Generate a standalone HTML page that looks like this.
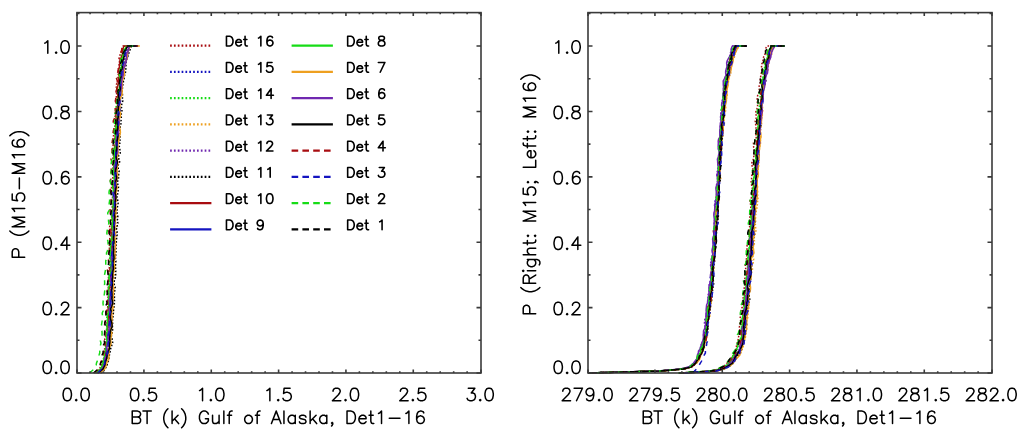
<!DOCTYPE html>
<html><head><meta charset="utf-8"><title>CDF plots</title>
<style>html,body{margin:0;padding:0;background:#fff;font-family:"Liberation Sans",sans-serif;width:1024px;height:437px;overflow:hidden}svg{display:block}</style>
</head><body><svg width="1024" height="437" viewBox="0 0 1024 437">
<rect width="1024" height="437" fill="#fff"/>
<defs><clipPath id="cl"><rect x="77" y="12.6" width="404" height="361.4"/></clipPath><clipPath id="cr"><rect x="588" y="12.6" width="404" height="361.4"/></clipPath></defs>
<g clip-path="url(#cl)">
<path d="M95.0 373.0 L97.3 371.0 L99.5 369.0 L100.3 367.0 L101.3 365.0 L102.0 363.0 L102.8 361.0 L103.7 359.0 L104.0 357.0 L104.5 355.0 L104.5 353.0 L104.2 351.0 L104.6 349.0 L105.0 347.0 L105.9 345.0 L105.4 343.0 L105.0 341.0 L104.7 339.0 L105.2 337.0 L105.9 335.0 L106.3 333.0 L106.7 331.0 L106.5 329.0 L106.7 327.0 L106.8 325.0 L106.9 323.0 L107.4 321.0 L107.6 319.0 L108.2 317.0 L107.6 315.0 L107.3 313.0 L106.9 311.0 L107.2 309.0 L107.7 307.0 L108.0 305.0 L108.0 303.0 L107.6 301.0 L107.5 299.0 L108.1 297.0 L108.2 295.0 L108.6 293.0 L108.4 291.0 L108.3 289.0 L108.3 287.0 L108.7 285.0 L108.6 283.0 L108.5 281.0 L108.2 279.0 L108.6 277.0 L109.0 275.0 L109.1 273.0 L108.9 271.0 L109.1 269.0 L109.4 267.0 L110.3 265.0 L110.5 263.0 L110.5 261.0 L110.3 259.0 L109.6 257.0 L109.7 255.0 L109.6 253.0 L109.9 251.0 L109.4 249.0 L109.4 247.0 L109.4 245.0 L110.3 243.0 L110.1 241.0 L109.8 239.0 L109.6 237.0 L110.7 235.0 L111.4 233.0 L110.8 231.0 L109.6 229.0 L109.6 227.0 L110.0 225.0 L110.5 223.0 L110.8 221.0 L111.4 219.0 L111.9 217.0 L111.7 215.0 L111.6 213.0 L112.1 211.0 L112.3 209.0 L112.3 207.0 L112.0 205.0 L111.4 203.0 L111.7 201.0 L111.9 199.0 L112.6 197.0 L111.6 195.0 L111.1 193.0 L111.3 191.0 L111.4 189.0 L111.6 187.0 L111.7 185.0 L111.9 183.0 L112.6 181.0 L112.5 179.0 L112.9 177.0 L112.6 175.0 L112.7 173.0 L112.8 171.0 L113.1 169.0 L112.8 167.0 L112.7 165.0 L112.7 163.0 L113.0 161.0 L112.9 159.0 L113.0 157.0 L113.5 155.0 L113.7 153.0 L113.0 151.0 L112.6 149.0 L112.8 147.0 L113.2 145.0 L113.7 143.0 L113.5 141.0 L114.1 139.0 L113.4 137.0 L113.6 135.0 L113.5 133.0 L114.4 131.0 L115.0 129.0 L115.0 127.0 L114.8 125.0 L114.7 123.0 L114.9 121.0 L115.0 119.0 L115.1 117.0 L115.2 115.0 L115.4 113.0 L115.7 111.0 L115.8 109.0 L116.6 107.0 L116.5 105.0 L116.4 103.0 L115.7 101.0 L115.7 99.0 L116.3 97.0 L116.4 95.0 L116.7 93.0 L117.1 91.0 L116.5 89.0 L116.3 87.0 L116.0 85.0 L117.1 83.0 L117.7 81.0 L117.7 79.0 L118.0 77.0 L118.2 75.0 L118.4 73.0 L119.2 71.0 L119.4 69.0 L119.7 67.0 L119.1 65.0 L119.2 63.0 L119.6 61.0 L119.0 59.0 L119.3 57.0 L120.0 55.0 L120.8 53.0 L121.3 51.0 L121.8 49.0 L122.7 47.0 L123.1 46.1 L137.5 46.1" stroke="#a80c10" stroke-width="1.5" fill="none" stroke-dasharray="1.6 1.7"/>
<path d="M98.0 373.0 L100.2 371.0 L102.3 369.0 L103.5 367.0 L104.7 365.0 L104.8 363.0 L105.4 361.0 L105.1 359.0 L106.6 357.0 L106.3 355.0 L107.1 353.0 L107.5 351.0 L108.2 349.0 L108.5 347.0 L108.6 345.0 L109.0 343.0 L109.2 341.0 L109.6 339.0 L110.0 337.0 L110.0 335.0 L110.5 333.0 L109.9 331.0 L110.4 329.0 L109.5 327.0 L110.0 325.0 L110.1 323.0 L110.3 321.0 L110.6 319.0 L110.0 317.0 L109.6 315.0 L109.7 313.0 L109.9 311.0 L110.2 309.0 L109.6 307.0 L110.4 305.0 L111.1 303.0 L112.1 301.0 L111.5 299.0 L111.4 297.0 L110.7 295.0 L111.3 293.0 L111.9 291.0 L112.1 289.0 L112.4 287.0 L112.3 285.0 L112.6 283.0 L111.6 281.0 L111.8 279.0 L111.9 277.0 L112.4 275.0 L112.2 273.0 L112.4 271.0 L113.2 269.0 L112.8 267.0 L113.1 265.0 L113.2 263.0 L114.1 261.0 L113.7 259.0 L113.1 257.0 L113.1 255.0 L113.2 253.0 L113.6 251.0 L113.8 249.0 L113.8 247.0 L113.1 245.0 L112.6 243.0 L112.2 241.0 L113.2 239.0 L113.5 237.0 L114.0 235.0 L113.8 233.0 L114.0 231.0 L114.3 229.0 L114.8 227.0 L114.5 225.0 L114.9 223.0 L115.0 221.0 L115.6 219.0 L115.1 217.0 L115.0 215.0 L114.0 213.0 L113.9 211.0 L113.1 209.0 L114.1 207.0 L114.1 205.0 L114.7 203.0 L114.4 201.0 L114.8 199.0 L114.7 197.0 L114.9 195.0 L115.5 193.0 L115.7 191.0 L115.9 189.0 L115.7 187.0 L115.7 185.0 L115.2 183.0 L114.8 181.0 L115.3 179.0 L115.2 177.0 L115.3 175.0 L115.3 173.0 L116.1 171.0 L116.4 169.0 L116.4 167.0 L116.3 165.0 L116.0 163.0 L115.3 161.0 L115.1 159.0 L115.9 157.0 L116.2 155.0 L116.2 153.0 L115.8 151.0 L115.5 149.0 L115.9 147.0 L115.8 145.0 L116.5 143.0 L115.8 141.0 L116.4 139.0 L116.2 137.0 L116.5 135.0 L116.7 133.0 L117.0 131.0 L117.0 129.0 L116.6 127.0 L116.9 125.0 L117.6 123.0 L118.2 121.0 L118.5 119.0 L119.0 117.0 L119.0 115.0 L119.3 113.0 L119.4 111.0 L119.6 109.0 L118.6 107.0 L118.8 105.0 L119.2 103.0 L119.9 101.0 L119.6 99.0 L119.9 97.0 L119.6 95.0 L120.0 93.0 L120.3 91.0 L120.7 89.0 L121.0 87.0 L121.0 85.0 L121.5 83.0 L121.7 81.0 L121.6 79.0 L121.6 77.0 L121.6 75.0 L121.7 73.0 L122.5 71.0 L122.8 69.0 L123.0 67.0 L122.7 65.0 L122.9 63.0 L123.6 61.0 L124.3 59.0 L124.6 57.0 L124.5 55.0 L125.8 53.0 L126.6 51.0 L127.1 49.0 L127.5 47.0 L128.1 46.1 L137.5 46.1" stroke="#1414c0" stroke-width="1.5" fill="none" stroke-dasharray="1.6 1.7"/>
<path d="M95.5 373.0 L97.9 371.0 L100.2 369.0 L101.3 367.0 L102.1 365.0 L102.2 363.0 L102.9 361.0 L103.3 359.0 L104.2 357.0 L104.8 355.0 L105.5 353.0 L105.6 351.0 L105.2 349.0 L105.0 347.0 L105.8 345.0 L106.1 343.0 L106.0 341.0 L106.8 339.0 L107.3 337.0 L107.4 335.0 L106.4 333.0 L106.7 331.0 L107.5 329.0 L108.6 327.0 L108.4 325.0 L107.9 323.0 L107.5 321.0 L106.7 319.0 L106.9 317.0 L106.9 315.0 L107.8 313.0 L107.9 311.0 L108.0 309.0 L108.1 307.0 L108.5 305.0 L108.8 303.0 L108.9 301.0 L108.8 299.0 L108.9 297.0 L109.0 295.0 L108.9 293.0 L108.6 291.0 L108.6 289.0 L108.9 287.0 L109.3 285.0 L109.3 283.0 L109.5 281.0 L109.5 279.0 L109.2 277.0 L109.4 275.0 L109.8 273.0 L110.4 271.0 L110.3 269.0 L110.2 267.0 L109.8 265.0 L109.4 263.0 L109.4 261.0 L109.4 259.0 L110.3 257.0 L110.1 255.0 L109.6 253.0 L109.2 251.0 L110.1 249.0 L110.8 247.0 L110.8 245.0 L110.2 243.0 L110.5 241.0 L111.2 239.0 L111.5 237.0 L111.9 235.0 L112.0 233.0 L112.0 231.0 L111.8 229.0 L112.2 227.0 L112.5 225.0 L112.7 223.0 L111.9 221.0 L111.7 219.0 L111.6 217.0 L111.9 215.0 L112.4 213.0 L112.4 211.0 L112.8 209.0 L112.5 207.0 L113.2 205.0 L113.3 203.0 L113.4 201.0 L112.7 199.0 L113.2 197.0 L113.2 195.0 L113.5 193.0 L113.0 191.0 L113.2 189.0 L112.6 187.0 L112.5 185.0 L112.7 183.0 L113.5 181.0 L113.7 179.0 L113.7 177.0 L113.7 175.0 L113.7 173.0 L113.8 171.0 L113.7 169.0 L113.5 167.0 L113.7 165.0 L113.5 163.0 L113.4 161.0 L113.3 159.0 L113.2 157.0 L113.4 155.0 L112.8 153.0 L113.1 151.0 L113.5 149.0 L114.4 147.0 L114.7 145.0 L114.5 143.0 L114.0 141.0 L114.7 139.0 L115.0 137.0 L116.0 135.0 L115.2 133.0 L115.2 131.0 L114.4 129.0 L115.0 127.0 L115.5 125.0 L115.6 123.0 L115.5 121.0 L115.6 119.0 L115.7 117.0 L115.3 115.0 L114.9 113.0 L115.4 111.0 L115.7 109.0 L116.1 107.0 L116.6 105.0 L117.3 103.0 L117.7 101.0 L118.2 99.0 L118.5 97.0 L118.0 95.0 L117.5 93.0 L117.0 91.0 L117.2 89.0 L117.5 87.0 L118.1 85.0 L118.8 83.0 L118.5 81.0 L118.4 79.0 L118.4 77.0 L119.1 75.0 L119.6 73.0 L119.9 71.0 L120.0 69.0 L120.5 67.0 L120.9 65.0 L121.4 63.0 L121.3 61.0 L121.4 59.0 L121.0 57.0 L121.2 55.0 L121.8 53.0 L122.8 51.0 L123.6 49.0 L124.5 47.0 L125.1 46.1 L137.5 46.1" stroke="#16dc16" stroke-width="1.5" fill="none" stroke-dasharray="1.6 1.7"/>
<path d="M100.0 373.0 L102.2 371.0 L104.5 369.0 L105.6 367.0 L106.7 365.0 L106.9 363.0 L107.2 361.0 L107.7 359.0 L108.7 357.0 L109.3 355.0 L109.4 353.0 L109.0 351.0 L109.0 349.0 L109.3 347.0 L109.6 345.0 L110.0 343.0 L110.3 341.0 L110.9 339.0 L111.2 337.0 L111.3 335.0 L112.1 333.0 L111.9 331.0 L112.5 329.0 L111.9 327.0 L112.4 325.0 L111.4 323.0 L111.3 321.0 L111.1 319.0 L112.1 317.0 L113.2 315.0 L113.3 313.0 L113.6 311.0 L113.2 309.0 L113.5 307.0 L113.4 305.0 L113.2 303.0 L113.1 301.0 L112.7 299.0 L113.3 297.0 L112.9 295.0 L113.4 293.0 L113.8 291.0 L114.1 289.0 L114.1 287.0 L113.9 285.0 L114.1 283.0 L113.9 281.0 L113.7 279.0 L113.9 277.0 L114.5 275.0 L114.2 273.0 L114.7 271.0 L115.0 269.0 L115.4 267.0 L115.0 265.0 L114.4 263.0 L114.9 261.0 L114.7 259.0 L115.1 257.0 L114.6 255.0 L114.7 253.0 L114.8 251.0 L115.4 249.0 L115.7 247.0 L115.3 245.0 L115.3 243.0 L115.3 241.0 L115.7 239.0 L116.0 237.0 L116.4 235.0 L116.2 233.0 L116.5 231.0 L116.2 229.0 L116.7 227.0 L115.8 225.0 L115.9 223.0 L115.1 221.0 L115.9 219.0 L116.4 217.0 L116.7 215.0 L115.7 213.0 L114.8 211.0 L115.6 209.0 L116.0 207.0 L116.5 205.0 L116.1 203.0 L116.2 201.0 L116.0 199.0 L116.1 197.0 L115.7 195.0 L116.1 193.0 L116.2 191.0 L116.9 189.0 L116.9 187.0 L116.6 185.0 L116.5 183.0 L116.5 181.0 L117.3 179.0 L117.6 177.0 L117.8 175.0 L117.2 173.0 L116.8 171.0 L116.6 169.0 L116.7 167.0 L117.1 165.0 L117.6 163.0 L117.9 161.0 L118.6 159.0 L118.2 157.0 L118.1 155.0 L118.4 153.0 L118.1 151.0 L118.0 149.0 L117.3 147.0 L117.9 145.0 L118.3 143.0 L118.2 141.0 L118.4 139.0 L118.4 137.0 L118.8 135.0 L118.2 133.0 L118.1 131.0 L117.9 129.0 L118.3 127.0 L118.4 125.0 L118.7 123.0 L118.9 121.0 L119.6 119.0 L119.7 117.0 L120.2 115.0 L120.2 113.0 L120.1 111.0 L119.7 109.0 L119.6 107.0 L119.9 105.0 L120.3 103.0 L120.4 101.0 L120.6 99.0 L120.6 97.0 L121.0 95.0 L121.4 93.0 L121.6 91.0 L121.6 89.0 L121.2 87.0 L122.1 85.0 L122.3 83.0 L122.9 81.0 L122.4 79.0 L122.6 77.0 L122.5 75.0 L122.5 73.0 L123.2 71.0 L123.8 69.0 L124.2 67.0 L124.3 65.0 L124.4 63.0 L125.5 61.0 L125.8 59.0 L125.9 57.0 L126.2 55.0 L127.1 53.0 L127.9 51.0 L128.5 49.0 L129.4 47.0 L130.1 46.1 L139.5 46.1" stroke="#eea020" stroke-width="1.5" fill="none" stroke-dasharray="1.6 1.7"/>
<path d="M97.0 373.0 L99.3 371.0 L101.7 369.0 L102.8 367.0 L104.0 365.0 L104.4 363.0 L104.8 361.0 L104.8 359.0 L105.6 357.0 L106.0 355.0 L105.8 353.0 L106.0 351.0 L106.6 349.0 L106.8 347.0 L107.0 345.0 L107.0 343.0 L107.8 341.0 L108.0 339.0 L108.3 337.0 L108.1 335.0 L108.6 333.0 L109.1 331.0 L109.2 329.0 L109.3 327.0 L108.7 325.0 L108.9 323.0 L109.0 321.0 L109.8 319.0 L109.8 317.0 L109.6 315.0 L109.3 313.0 L109.1 311.0 L109.2 309.0 L109.0 307.0 L109.7 305.0 L109.5 303.0 L109.2 301.0 L109.2 299.0 L109.7 297.0 L110.3 295.0 L110.6 293.0 L110.6 291.0 L110.6 289.0 L110.6 287.0 L110.3 285.0 L110.3 283.0 L110.3 281.0 L111.1 279.0 L111.3 277.0 L111.5 275.0 L111.1 273.0 L111.4 271.0 L111.9 269.0 L111.9 267.0 L112.7 265.0 L112.0 263.0 L112.3 261.0 L111.7 259.0 L112.3 257.0 L112.0 255.0 L111.4 253.0 L111.4 251.0 L112.1 249.0 L113.0 247.0 L113.7 245.0 L113.6 243.0 L113.6 241.0 L113.1 239.0 L113.2 237.0 L113.7 235.0 L113.1 233.0 L113.0 231.0 L111.4 229.0 L112.1 227.0 L112.2 225.0 L113.6 223.0 L114.1 221.0 L114.3 219.0 L114.0 217.0 L113.2 215.0 L113.0 213.0 L113.0 211.0 L113.4 209.0 L113.7 207.0 L114.0 205.0 L113.8 203.0 L114.2 201.0 L114.4 199.0 L114.5 197.0 L114.4 195.0 L114.3 193.0 L114.1 191.0 L114.4 189.0 L114.7 187.0 L114.8 185.0 L114.8 183.0 L114.9 181.0 L114.8 179.0 L115.0 177.0 L115.1 175.0 L116.0 173.0 L115.6 171.0 L115.6 169.0 L114.9 167.0 L115.2 165.0 L115.4 163.0 L115.9 161.0 L115.8 159.0 L115.9 157.0 L116.3 155.0 L116.1 153.0 L116.2 151.0 L115.4 149.0 L115.5 147.0 L115.8 145.0 L117.0 143.0 L117.1 141.0 L116.9 139.0 L117.2 137.0 L117.3 135.0 L117.7 133.0 L117.9 131.0 L118.2 129.0 L118.5 127.0 L117.9 125.0 L118.1 123.0 L117.8 121.0 L118.2 119.0 L118.7 117.0 L119.6 115.0 L119.5 113.0 L119.1 111.0 L118.6 109.0 L118.7 107.0 L119.2 105.0 L119.3 103.0 L119.7 101.0 L119.9 99.0 L119.4 97.0 L119.8 95.0 L119.3 93.0 L119.7 91.0 L119.5 89.0 L120.1 87.0 L120.8 85.0 L121.2 83.0 L121.5 81.0 L121.7 79.0 L122.4 77.0 L122.8 75.0 L123.0 73.0 L123.2 71.0 L123.7 69.0 L123.5 67.0 L124.2 65.0 L125.2 63.0 L125.3 61.0 L124.9 59.0 L124.9 57.0 L126.3 55.0 L126.9 53.0 L127.2 51.0 L127.5 49.0 L128.5 47.0 L129.1 46.1 L137.5 46.1" stroke="#7028b0" stroke-width="1.5" fill="none" stroke-dasharray="1.6 1.7"/>
<path d="M101.0 373.0 L103.2 371.0 L105.3 369.0 L106.1 367.0 L107.1 365.0 L107.5 363.0 L108.4 361.0 L108.8 359.0 L109.1 357.0 L109.4 355.0 L109.9 353.0 L110.2 351.0 L110.6 349.0 L111.1 347.0 L111.9 345.0 L112.7 343.0 L112.5 341.0 L112.2 339.0 L111.0 337.0 L111.9 335.0 L111.9 333.0 L112.8 331.0 L112.5 329.0 L112.4 327.0 L112.6 325.0 L112.6 323.0 L112.5 321.0 L112.6 319.0 L113.0 317.0 L113.1 315.0 L113.4 313.0 L113.2 311.0 L114.0 309.0 L114.0 307.0 L114.4 305.0 L114.3 303.0 L114.6 301.0 L114.1 299.0 L114.5 297.0 L114.1 295.0 L114.3 293.0 L114.7 291.0 L115.2 289.0 L115.2 287.0 L114.4 285.0 L114.1 283.0 L114.3 281.0 L115.0 279.0 L115.5 277.0 L115.7 275.0 L115.5 273.0 L115.8 271.0 L115.6 269.0 L115.5 267.0 L115.5 265.0 L115.7 263.0 L115.9 261.0 L115.5 259.0 L115.5 257.0 L115.8 255.0 L116.2 253.0 L116.0 251.0 L116.0 249.0 L116.0 247.0 L116.2 245.0 L116.4 243.0 L116.3 241.0 L116.6 239.0 L116.6 237.0 L117.2 235.0 L117.2 233.0 L117.1 231.0 L116.5 229.0 L117.5 227.0 L117.2 225.0 L117.9 223.0 L117.1 221.0 L117.6 219.0 L117.9 217.0 L117.4 215.0 L117.1 213.0 L116.6 211.0 L117.4 209.0 L117.4 207.0 L118.0 205.0 L118.1 203.0 L117.8 201.0 L117.5 199.0 L117.0 197.0 L117.9 195.0 L117.5 193.0 L118.1 191.0 L118.2 189.0 L118.5 187.0 L118.1 185.0 L117.3 183.0 L117.7 181.0 L118.4 179.0 L118.7 177.0 L118.7 175.0 L118.7 173.0 L119.2 171.0 L118.3 169.0 L118.2 167.0 L118.3 165.0 L119.3 163.0 L119.8 161.0 L118.8 159.0 L118.7 157.0 L118.6 155.0 L120.3 153.0 L120.0 151.0 L119.8 149.0 L119.1 147.0 L119.8 145.0 L119.8 143.0 L120.2 141.0 L119.8 139.0 L120.1 137.0 L119.7 135.0 L120.2 133.0 L120.0 131.0 L119.8 129.0 L120.2 127.0 L120.7 125.0 L121.1 123.0 L121.0 121.0 L121.3 119.0 L121.3 117.0 L121.3 115.0 L121.3 113.0 L121.9 111.0 L122.0 109.0 L121.3 107.0 L121.6 105.0 L122.0 103.0 L122.8 101.0 L122.4 99.0 L122.5 97.0 L122.5 95.0 L122.4 93.0 L122.2 91.0 L122.3 89.0 L122.7 87.0 L122.8 85.0 L123.4 83.0 L123.4 81.0 L124.2 79.0 L123.9 77.0 L124.7 75.0 L125.2 73.0 L125.9 71.0 L125.8 69.0 L125.7 67.0 L126.1 65.0 L126.1 63.0 L126.3 61.0 L126.7 59.0 L127.6 57.0 L128.3 55.0 L128.9 53.0 L129.7 51.0 L130.3 49.0 L131.1 47.0 L131.6 46.1 L139.5 46.1" stroke="#000000" stroke-width="1.5" fill="none" stroke-dasharray="1.6 1.7"/>
<path d="M96.5 373.0 L98.7 371.0 L100.9 369.0 L101.9 367.0 L102.6 365.0 L103.0 363.0 L103.5 361.0 L104.1 359.0 L104.7 357.0 L105.4 355.0 L105.9 353.0 L106.8 351.0 L106.1 349.0 L106.4 347.0 L105.4 345.0 L106.8 343.0 L108.0 341.0 L107.9 339.0 L107.8 337.0 L107.2 335.0 L108.0 333.0 L108.2 331.0 L107.5 329.0 L107.9 327.0 L108.0 325.0 L108.8 323.0 L108.4 321.0 L108.6 319.0 L108.6 317.0 L108.9 315.0 L108.7 313.0 L108.2 311.0 L108.2 309.0 L108.6 307.0 L109.6 305.0 L109.4 303.0 L109.5 301.0 L109.5 299.0 L110.0 297.0 L110.5 295.0 L111.0 293.0 L110.8 291.0 L109.9 289.0 L109.6 287.0 L110.4 285.0 L111.4 283.0 L111.5 281.0 L110.9 279.0 L110.5 277.0 L110.6 275.0 L110.6 273.0 L110.3 271.0 L109.8 269.0 L110.9 267.0 L112.2 265.0 L112.4 263.0 L111.4 261.0 L111.0 259.0 L111.1 257.0 L111.8 255.0 L111.8 253.0 L111.7 251.0 L111.8 249.0 L111.8 247.0 L112.2 245.0 L111.9 243.0 L112.1 241.0 L112.2 239.0 L112.0 237.0 L111.6 235.0 L110.9 233.0 L110.8 231.0 L111.2 229.0 L111.9 227.0 L112.4 225.0 L112.9 223.0 L113.0 221.0 L112.8 219.0 L112.4 217.0 L111.8 215.0 L112.1 213.0 L112.5 211.0 L113.4 209.0 L113.4 207.0 L113.3 205.0 L113.4 203.0 L113.5 201.0 L113.8 199.0 L113.8 197.0 L113.9 195.0 L114.1 193.0 L113.7 191.0 L113.6 189.0 L113.0 187.0 L113.0 185.0 L113.6 183.0 L114.5 181.0 L114.8 179.0 L114.6 177.0 L114.4 175.0 L114.7 173.0 L115.0 171.0 L114.3 169.0 L113.9 167.0 L113.7 165.0 L114.6 163.0 L114.9 161.0 L114.5 159.0 L114.0 157.0 L113.9 155.0 L113.9 153.0 L114.5 151.0 L114.6 149.0 L114.9 147.0 L115.2 145.0 L115.8 143.0 L116.0 141.0 L115.2 139.0 L115.1 137.0 L115.6 135.0 L116.1 133.0 L116.5 131.0 L116.1 129.0 L116.2 127.0 L115.8 125.0 L116.0 123.0 L116.4 121.0 L116.1 119.0 L116.1 117.0 L115.9 115.0 L116.2 113.0 L116.3 111.0 L116.6 109.0 L117.5 107.0 L117.9 105.0 L117.8 103.0 L116.9 101.0 L117.4 99.0 L117.4 97.0 L118.0 95.0 L117.2 93.0 L117.2 91.0 L117.0 89.0 L117.6 87.0 L118.0 85.0 L118.5 83.0 L118.8 81.0 L118.5 79.0 L119.2 77.0 L119.1 75.0 L119.0 73.0 L118.7 71.0 L118.9 69.0 L119.4 67.0 L119.5 65.0 L120.1 63.0 L120.3 61.0 L120.7 59.0 L121.3 57.0 L122.3 55.0 L122.5 53.0 L122.5 51.0 L122.8 49.0 L123.6 47.0 L124.1 46.1 L137.5 46.1" stroke="#a80c10" stroke-width="1.5" fill="none"/>
<path d="M97.8 373.0 L100.0 371.0 L102.1 369.0 L102.9 367.0 L104.3 365.0 L104.6 363.0 L105.3 361.0 L106.3 359.0 L106.7 357.0 L106.8 355.0 L106.0 353.0 L105.8 351.0 L105.8 349.0 L106.7 347.0 L107.5 345.0 L107.8 343.0 L107.4 341.0 L108.0 339.0 L108.5 337.0 L108.9 335.0 L108.9 333.0 L109.7 331.0 L110.5 329.0 L110.8 327.0 L110.6 325.0 L110.1 323.0 L110.5 321.0 L111.0 319.0 L110.9 317.0 L110.6 315.0 L110.3 313.0 L110.6 311.0 L110.4 309.0 L110.0 307.0 L109.9 305.0 L109.7 303.0 L110.6 301.0 L111.0 299.0 L111.2 297.0 L111.4 295.0 L111.6 293.0 L111.5 291.0 L111.7 289.0 L111.7 287.0 L113.1 285.0 L112.2 283.0 L112.2 281.0 L111.8 279.0 L112.3 277.0 L112.3 275.0 L112.5 273.0 L112.1 271.0 L111.7 269.0 L111.1 267.0 L111.4 265.0 L111.7 263.0 L112.3 261.0 L112.7 259.0 L113.0 257.0 L112.7 255.0 L112.6 253.0 L113.0 251.0 L113.5 249.0 L113.7 247.0 L113.4 245.0 L113.7 243.0 L113.6 241.0 L114.0 239.0 L113.9 237.0 L114.1 235.0 L114.2 233.0 L113.6 231.0 L114.0 229.0 L113.9 227.0 L113.8 225.0 L113.8 223.0 L113.5 221.0 L114.4 219.0 L114.1 217.0 L114.4 215.0 L114.1 213.0 L114.3 211.0 L114.5 209.0 L114.3 207.0 L114.7 205.0 L114.7 203.0 L115.0 201.0 L114.0 199.0 L114.4 197.0 L114.4 195.0 L114.8 193.0 L114.5 191.0 L114.7 189.0 L115.7 187.0 L115.4 185.0 L115.9 183.0 L115.6 181.0 L116.7 179.0 L116.3 177.0 L116.6 175.0 L115.9 173.0 L115.6 171.0 L115.9 169.0 L116.3 167.0 L117.3 165.0 L117.3 163.0 L116.9 161.0 L116.0 159.0 L115.6 157.0 L115.7 155.0 L116.0 153.0 L116.5 151.0 L116.9 149.0 L117.1 147.0 L117.1 145.0 L117.0 143.0 L117.3 141.0 L117.6 139.0 L118.1 137.0 L117.9 135.0 L117.4 133.0 L117.7 131.0 L118.0 129.0 L119.0 127.0 L118.2 125.0 L118.2 123.0 L118.0 121.0 L118.2 119.0 L118.3 117.0 L118.7 115.0 L119.6 113.0 L120.4 111.0 L120.0 109.0 L119.4 107.0 L119.2 105.0 L119.9 103.0 L120.6 101.0 L120.1 99.0 L120.2 97.0 L120.6 95.0 L121.3 93.0 L121.0 91.0 L121.1 89.0 L121.3 87.0 L121.5 85.0 L121.1 83.0 L121.2 81.0 L121.8 79.0 L122.6 77.0 L123.1 75.0 L123.1 73.0 L123.4 71.0 L123.4 69.0 L124.1 67.0 L125.0 65.0 L125.3 63.0 L126.2 61.0 L126.6 59.0 L127.5 57.0 L127.5 55.0 L128.0 53.0 L128.2 51.0 L128.6 49.0 L129.4 47.0 L130.1 46.1 L137.5 46.1" stroke="#1414c0" stroke-width="1.5" fill="none"/>
<path d="M96.0 373.0 L98.3 371.0 L100.7 369.0 L101.6 367.0 L102.6 365.0 L102.7 363.0 L103.4 361.0 L103.8 359.0 L104.4 357.0 L104.3 355.0 L104.4 353.0 L105.3 351.0 L106.1 349.0 L106.2 347.0 L106.5 345.0 L106.7 343.0 L107.3 341.0 L106.7 339.0 L106.3 337.0 L106.4 335.0 L107.0 333.0 L107.2 331.0 L106.9 329.0 L107.0 327.0 L106.7 325.0 L107.7 323.0 L107.4 321.0 L107.7 319.0 L107.3 317.0 L107.6 315.0 L108.3 313.0 L109.0 311.0 L109.4 309.0 L109.2 307.0 L108.6 305.0 L108.3 303.0 L108.1 301.0 L108.4 299.0 L108.8 297.0 L108.9 295.0 L109.1 293.0 L108.7 291.0 L108.4 289.0 L108.8 287.0 L109.7 285.0 L110.4 283.0 L110.0 281.0 L108.8 279.0 L108.9 277.0 L109.7 275.0 L110.7 273.0 L111.0 271.0 L111.2 269.0 L111.5 267.0 L111.2 265.0 L111.1 263.0 L111.1 261.0 L110.8 259.0 L110.5 257.0 L109.9 255.0 L110.4 253.0 L110.8 251.0 L111.0 249.0 L110.4 247.0 L110.7 245.0 L111.3 243.0 L112.4 241.0 L111.7 239.0 L112.0 237.0 L112.2 235.0 L113.3 233.0 L113.0 231.0 L112.5 229.0 L111.9 227.0 L112.3 225.0 L112.6 223.0 L112.7 221.0 L112.1 219.0 L112.0 217.0 L111.9 215.0 L112.6 213.0 L112.5 211.0 L113.2 209.0 L113.4 207.0 L113.3 205.0 L113.0 203.0 L113.2 201.0 L113.3 199.0 L113.4 197.0 L113.2 195.0 L113.9 193.0 L114.0 191.0 L113.3 189.0 L112.6 187.0 L112.6 185.0 L113.2 183.0 L114.5 181.0 L114.2 179.0 L114.5 177.0 L114.0 175.0 L113.9 173.0 L113.4 171.0 L113.3 169.0 L113.7 167.0 L114.0 165.0 L114.2 163.0 L114.2 161.0 L114.5 159.0 L114.2 157.0 L114.4 155.0 L114.5 153.0 L114.6 151.0 L114.9 149.0 L115.4 147.0 L115.6 145.0 L115.6 143.0 L115.4 141.0 L115.4 139.0 L115.9 137.0 L115.4 135.0 L115.9 133.0 L115.5 131.0 L115.8 129.0 L116.3 127.0 L116.4 125.0 L117.3 123.0 L117.1 121.0 L118.0 119.0 L117.2 117.0 L117.6 115.0 L117.7 113.0 L118.1 111.0 L117.8 109.0 L118.3 107.0 L118.5 105.0 L118.6 103.0 L117.8 101.0 L118.0 99.0 L118.4 97.0 L118.8 95.0 L119.3 93.0 L119.2 91.0 L119.5 89.0 L119.7 87.0 L119.7 85.0 L120.1 83.0 L120.4 81.0 L120.5 79.0 L120.1 77.0 L119.5 75.0 L119.6 73.0 L120.4 71.0 L120.4 69.0 L121.4 67.0 L122.0 65.0 L122.4 63.0 L122.4 61.0 L121.7 59.0 L122.9 57.0 L123.2 55.0 L124.1 53.0 L124.5 51.0 L125.2 49.0 L126.1 47.0 L126.6 46.1 L137.5 46.1" stroke="#16dc16" stroke-width="1.5" fill="none"/>
<path d="M100.2 373.0 L102.4 371.0 L104.6 369.0 L105.6 367.0 L106.2 365.0 L106.7 363.0 L107.6 361.0 L108.6 359.0 L108.9 357.0 L108.9 355.0 L108.8 353.0 L109.0 351.0 L108.9 349.0 L109.7 347.0 L110.6 345.0 L111.1 343.0 L110.8 341.0 L110.5 339.0 L111.1 337.0 L111.5 335.0 L111.7 333.0 L110.7 331.0 L110.3 329.0 L111.4 327.0 L111.8 325.0 L112.3 323.0 L111.7 321.0 L112.1 319.0 L112.1 317.0 L111.7 315.0 L111.5 313.0 L112.2 311.0 L112.5 309.0 L113.2 307.0 L112.2 305.0 L112.5 303.0 L112.4 301.0 L113.3 299.0 L113.2 297.0 L113.4 295.0 L113.2 293.0 L113.5 291.0 L113.5 289.0 L113.2 287.0 L113.2 285.0 L113.1 283.0 L112.7 281.0 L112.9 279.0 L112.7 277.0 L113.2 275.0 L113.1 273.0 L113.8 271.0 L114.2 269.0 L114.8 267.0 L114.2 265.0 L114.0 263.0 L114.2 261.0 L114.7 259.0 L115.5 257.0 L114.8 255.0 L115.0 253.0 L114.9 251.0 L115.4 249.0 L115.3 247.0 L115.6 245.0 L115.3 243.0 L115.1 241.0 L114.3 239.0 L114.9 237.0 L115.0 235.0 L115.2 233.0 L114.6 231.0 L114.8 229.0 L114.7 227.0 L115.0 225.0 L115.0 223.0 L115.3 221.0 L115.1 219.0 L115.4 217.0 L115.4 215.0 L115.8 213.0 L115.9 211.0 L116.2 209.0 L115.6 207.0 L115.4 205.0 L115.1 203.0 L116.1 201.0 L115.8 199.0 L115.9 197.0 L115.6 195.0 L116.0 193.0 L116.6 191.0 L116.6 189.0 L117.1 187.0 L116.4 185.0 L116.0 183.0 L116.2 181.0 L116.9 179.0 L117.6 177.0 L117.4 175.0 L117.5 173.0 L117.0 171.0 L117.3 169.0 L117.1 167.0 L117.8 165.0 L117.7 163.0 L117.3 161.0 L116.6 159.0 L117.0 157.0 L117.7 155.0 L118.0 153.0 L117.8 151.0 L117.8 149.0 L117.8 147.0 L117.9 145.0 L118.1 143.0 L118.8 141.0 L118.9 139.0 L119.6 137.0 L119.8 135.0 L120.4 133.0 L120.3 131.0 L119.9 129.0 L119.5 127.0 L119.3 125.0 L119.2 123.0 L119.2 121.0 L119.2 119.0 L120.1 117.0 L120.4 115.0 L120.6 113.0 L119.6 111.0 L119.5 109.0 L119.7 107.0 L120.0 105.0 L119.8 103.0 L119.4 101.0 L120.0 99.0 L120.5 97.0 L122.1 95.0 L122.1 93.0 L122.2 91.0 L122.0 89.0 L122.2 87.0 L122.5 85.0 L122.2 83.0 L122.2 81.0 L122.9 79.0 L123.5 77.0 L124.5 75.0 L124.3 73.0 L124.3 71.0 L123.8 69.0 L124.5 67.0 L124.5 65.0 L125.3 63.0 L125.7 61.0 L127.1 59.0 L127.1 57.0 L127.6 55.0 L127.5 53.0 L128.2 51.0 L128.6 49.0 L129.9 47.0 L130.6 46.1 L139.5 46.1" stroke="#eea020" stroke-width="1.5" fill="none"/>
<path d="M97.5 373.0 L99.8 371.0 L101.9 369.0 L103.2 367.0 L104.5 365.0 L105.1 363.0 L104.7 361.0 L104.6 359.0 L105.6 357.0 L107.2 355.0 L107.6 353.0 L107.3 351.0 L106.8 349.0 L106.6 347.0 L107.4 345.0 L107.5 343.0 L108.7 341.0 L108.0 339.0 L108.1 337.0 L107.9 335.0 L108.3 333.0 L109.1 331.0 L109.1 329.0 L109.1 327.0 L109.1 325.0 L109.5 323.0 L109.3 321.0 L109.8 319.0 L109.8 317.0 L110.7 315.0 L109.7 313.0 L109.4 311.0 L109.2 309.0 L110.2 307.0 L110.1 305.0 L110.0 303.0 L109.1 301.0 L109.6 299.0 L110.1 297.0 L110.3 295.0 L110.3 293.0 L110.4 291.0 L111.6 289.0 L112.0 287.0 L111.9 285.0 L111.1 283.0 L110.7 281.0 L110.6 279.0 L111.1 277.0 L111.5 275.0 L112.3 273.0 L112.4 271.0 L112.2 269.0 L112.2 267.0 L112.5 265.0 L113.0 263.0 L112.3 261.0 L111.5 259.0 L111.3 257.0 L111.9 255.0 L112.3 253.0 L112.3 251.0 L112.1 249.0 L112.5 247.0 L113.2 245.0 L113.4 243.0 L113.9 241.0 L113.5 239.0 L113.7 237.0 L113.0 235.0 L113.5 233.0 L113.3 231.0 L113.8 229.0 L113.9 227.0 L113.9 225.0 L114.2 223.0 L114.3 221.0 L114.4 219.0 L113.9 217.0 L113.5 215.0 L113.3 213.0 L113.5 211.0 L113.8 209.0 L115.0 207.0 L115.3 205.0 L115.6 203.0 L114.5 201.0 L114.1 199.0 L113.9 197.0 L114.3 195.0 L114.3 193.0 L114.9 191.0 L114.8 189.0 L115.5 187.0 L114.4 185.0 L114.7 183.0 L114.5 181.0 L115.4 179.0 L115.7 177.0 L115.8 175.0 L115.8 173.0 L115.2 171.0 L114.9 169.0 L114.2 167.0 L115.1 165.0 L115.5 163.0 L116.3 161.0 L115.9 159.0 L115.8 157.0 L116.5 155.0 L117.4 153.0 L117.6 151.0 L117.6 149.0 L116.6 147.0 L116.1 145.0 L115.7 143.0 L116.0 141.0 L116.5 139.0 L116.9 137.0 L118.2 135.0 L118.4 133.0 L118.5 131.0 L117.8 129.0 L118.1 127.0 L118.5 125.0 L119.1 123.0 L118.9 121.0 L118.8 119.0 L118.3 117.0 L119.0 115.0 L118.6 113.0 L118.3 111.0 L117.6 109.0 L118.4 107.0 L119.2 105.0 L120.0 103.0 L119.3 101.0 L119.3 99.0 L119.2 97.0 L119.6 95.0 L119.6 93.0 L120.2 91.0 L121.0 89.0 L121.5 87.0 L121.7 85.0 L121.5 83.0 L121.8 81.0 L121.9 79.0 L122.6 77.0 L122.8 75.0 L123.0 73.0 L123.1 71.0 L123.3 69.0 L124.4 67.0 L124.9 65.0 L125.6 63.0 L126.0 61.0 L126.7 59.0 L126.5 57.0 L126.5 55.0 L126.8 53.0 L128.1 51.0 L128.5 49.0 L129.2 47.0 L129.6 46.1 L137.5 46.1" stroke="#7028b0" stroke-width="1.5" fill="none"/>
<path d="M98.5 373.0 L100.7 371.0 L103.0 369.0 L104.0 367.0 L104.9 365.0 L105.1 363.0 L105.8 361.0 L106.5 359.0 L107.0 357.0 L107.1 355.0 L107.7 353.0 L108.5 351.0 L109.2 349.0 L109.4 347.0 L109.3 345.0 L109.8 343.0 L109.9 341.0 L109.7 339.0 L109.8 337.0 L110.0 335.0 L110.1 333.0 L110.6 331.0 L111.1 329.0 L112.0 327.0 L112.1 325.0 L111.8 323.0 L111.2 321.0 L110.5 319.0 L110.1 317.0 L110.4 315.0 L110.7 313.0 L111.2 311.0 L110.7 309.0 L111.5 307.0 L112.1 305.0 L112.8 303.0 L112.4 301.0 L111.9 299.0 L112.1 297.0 L112.0 295.0 L111.9 293.0 L111.6 291.0 L111.8 289.0 L112.0 287.0 L112.4 285.0 L112.2 283.0 L112.3 281.0 L112.3 279.0 L112.8 277.0 L112.5 275.0 L112.7 273.0 L112.9 271.0 L113.5 269.0 L113.4 267.0 L113.0 265.0 L112.8 263.0 L113.2 261.0 L113.9 259.0 L114.0 257.0 L113.7 255.0 L113.4 253.0 L113.6 251.0 L113.6 249.0 L113.3 247.0 L113.3 245.0 L113.9 243.0 L113.8 241.0 L113.6 239.0 L113.6 237.0 L113.7 235.0 L114.1 233.0 L114.1 231.0 L114.5 229.0 L114.2 227.0 L114.2 225.0 L114.2 223.0 L114.6 221.0 L114.5 219.0 L115.0 217.0 L114.4 215.0 L114.7 213.0 L114.4 211.0 L115.3 209.0 L115.2 207.0 L115.4 205.0 L114.9 203.0 L115.4 201.0 L115.8 199.0 L115.9 197.0 L115.8 195.0 L115.0 193.0 L115.5 191.0 L115.8 189.0 L116.2 187.0 L115.6 185.0 L115.4 183.0 L115.8 181.0 L116.5 179.0 L116.7 177.0 L115.8 175.0 L115.3 173.0 L115.6 171.0 L115.8 169.0 L116.4 167.0 L116.7 165.0 L117.3 163.0 L117.4 161.0 L116.7 159.0 L116.2 157.0 L115.9 155.0 L116.0 153.0 L116.4 151.0 L116.7 149.0 L116.8 147.0 L116.9 145.0 L116.9 143.0 L117.0 141.0 L117.6 139.0 L117.7 137.0 L117.8 135.0 L117.3 133.0 L117.1 131.0 L117.6 129.0 L117.8 127.0 L117.8 125.0 L117.3 123.0 L117.3 121.0 L117.6 119.0 L118.3 117.0 L118.1 115.0 L118.5 113.0 L118.3 111.0 L118.4 109.0 L118.4 107.0 L118.4 105.0 L119.0 103.0 L119.0 101.0 L119.2 99.0 L118.7 97.0 L118.6 95.0 L118.9 93.0 L119.8 91.0 L120.3 89.0 L120.1 87.0 L120.3 85.0 L119.8 83.0 L120.0 81.0 L120.0 79.0 L121.1 77.0 L121.3 75.0 L120.7 73.0 L121.3 71.0 L121.9 69.0 L122.5 67.0 L122.4 65.0 L122.9 63.0 L122.8 61.0 L123.5 59.0 L123.9 57.0 L124.5 55.0 L124.9 53.0 L124.9 51.0 L126.1 49.0 L127.0 47.0 L127.6 46.1 L137.5 46.1" stroke="#000000" stroke-width="1.5" fill="none"/>
<path d="M94.0 373.0 L96.3 371.0 L98.5 369.0 L99.6 367.0 L100.5 365.0 L100.6 363.0 L101.2 361.0 L101.6 359.0 L102.3 357.0 L103.0 355.0 L103.6 353.0 L104.2 351.0 L104.2 349.0 L104.9 347.0 L104.5 345.0 L105.1 343.0 L104.3 341.0 L104.7 339.0 L104.5 337.0 L105.1 335.0 L104.9 333.0 L105.0 331.0 L105.0 329.0 L104.6 327.0 L104.6 325.0 L104.8 323.0 L105.4 321.0 L105.3 319.0 L105.6 317.0 L106.1 315.0 L106.4 313.0 L106.4 311.0 L106.7 309.0 L107.2 307.0 L107.7 305.0 L107.7 303.0 L107.4 301.0 L107.2 299.0 L107.3 297.0 L107.3 295.0 L107.4 293.0 L107.3 291.0 L107.6 289.0 L107.7 287.0 L107.9 285.0 L107.8 283.0 L108.2 281.0 L108.3 279.0 L108.7 277.0 L108.8 275.0 L108.1 273.0 L107.6 271.0 L107.3 269.0 L107.8 267.0 L108.8 265.0 L108.7 263.0 L108.7 261.0 L108.1 259.0 L108.3 257.0 L108.2 255.0 L108.7 253.0 L109.1 251.0 L109.6 249.0 L109.2 247.0 L109.5 245.0 L109.5 243.0 L109.9 241.0 L109.8 239.0 L109.4 237.0 L109.1 235.0 L108.9 233.0 L108.9 231.0 L110.2 229.0 L110.3 227.0 L111.0 225.0 L110.3 223.0 L110.6 221.0 L110.3 219.0 L110.1 217.0 L110.3 215.0 L110.3 213.0 L110.1 211.0 L110.1 209.0 L110.2 207.0 L110.9 205.0 L111.2 203.0 L111.0 201.0 L111.1 199.0 L110.9 197.0 L110.8 195.0 L111.1 193.0 L110.4 191.0 L110.4 189.0 L110.3 187.0 L110.5 185.0 L110.9 183.0 L110.3 181.0 L110.8 179.0 L110.5 177.0 L111.2 175.0 L110.8 173.0 L111.4 171.0 L111.3 169.0 L111.9 167.0 L111.8 165.0 L112.0 163.0 L111.6 161.0 L110.9 159.0 L111.0 157.0 L111.2 155.0 L111.9 153.0 L112.1 151.0 L111.9 149.0 L111.9 147.0 L111.6 145.0 L112.0 143.0 L112.4 141.0 L112.7 139.0 L112.9 137.0 L112.6 135.0 L113.1 133.0 L113.3 131.0 L113.9 129.0 L113.9 127.0 L113.7 125.0 L113.3 123.0 L113.3 121.0 L114.1 119.0 L114.8 117.0 L115.2 115.0 L115.6 113.0 L115.4 111.0 L115.2 109.0 L115.2 107.0 L115.4 105.0 L115.9 103.0 L115.3 101.0 L115.8 99.0 L115.5 97.0 L115.6 95.0 L115.8 93.0 L116.1 91.0 L116.9 89.0 L116.5 87.0 L116.4 85.0 L117.1 83.0 L117.4 81.0 L116.7 79.0 L116.2 77.0 L116.3 75.0 L117.6 73.0 L118.0 71.0 L118.3 69.0 L118.3 67.0 L119.0 65.0 L119.1 63.0 L120.2 61.0 L120.0 59.0 L120.4 57.0 L120.4 55.0 L121.1 53.0 L121.4 51.0 L121.9 49.0 L122.5 47.0 L123.1 46.1 L137.5 46.1" stroke="#a80c10" stroke-width="1.5" fill="none" stroke-dasharray="5 5.3"/>
<path d="M97.5 373.0 L99.7 371.0 L102.0 369.0 L102.9 367.0 L104.0 365.0 L104.8 363.0 L104.8 361.0 L104.9 359.0 L105.5 357.0 L106.8 355.0 L107.7 353.0 L107.8 351.0 L107.7 349.0 L107.3 347.0 L108.1 345.0 L108.2 343.0 L108.9 341.0 L107.8 339.0 L108.5 337.0 L108.0 335.0 L109.1 333.0 L109.1 331.0 L109.1 329.0 L109.0 327.0 L109.0 325.0 L109.6 323.0 L109.5 321.0 L109.2 319.0 L108.5 317.0 L109.7 315.0 L110.1 313.0 L110.7 311.0 L109.6 309.0 L110.0 307.0 L110.0 305.0 L111.0 303.0 L111.1 301.0 L111.4 299.0 L111.3 297.0 L110.8 295.0 L110.8 293.0 L110.5 291.0 L110.5 289.0 L110.7 287.0 L110.9 285.0 L111.8 283.0 L110.9 281.0 L110.8 279.0 L110.1 277.0 L111.1 275.0 L111.6 273.0 L112.0 271.0 L112.3 269.0 L112.1 267.0 L112.2 265.0 L112.4 263.0 L112.0 261.0 L111.9 259.0 L111.4 257.0 L111.7 255.0 L111.9 253.0 L112.5 251.0 L113.0 249.0 L112.7 247.0 L112.7 245.0 L112.5 243.0 L113.0 241.0 L113.3 239.0 L114.2 237.0 L114.6 235.0 L114.2 233.0 L113.5 231.0 L112.9 229.0 L113.3 227.0 L114.1 225.0 L114.7 223.0 L114.0 221.0 L113.1 219.0 L112.5 217.0 L113.4 215.0 L113.9 213.0 L114.4 211.0 L114.9 209.0 L114.7 207.0 L114.4 205.0 L114.5 203.0 L114.9 201.0 L115.0 199.0 L113.8 197.0 L113.3 195.0 L112.8 193.0 L113.5 191.0 L114.1 189.0 L115.2 187.0 L115.2 185.0 L115.1 183.0 L114.6 181.0 L115.3 179.0 L115.1 177.0 L115.4 175.0 L114.9 173.0 L115.7 171.0 L115.6 169.0 L115.9 167.0 L116.0 165.0 L116.1 163.0 L115.9 161.0 L115.7 159.0 L115.5 157.0 L115.7 155.0 L115.7 153.0 L116.1 151.0 L116.7 149.0 L117.3 147.0 L117.1 145.0 L117.0 143.0 L116.8 141.0 L117.2 139.0 L117.2 137.0 L117.3 135.0 L117.1 133.0 L116.9 131.0 L117.3 129.0 L117.9 127.0 L118.5 125.0 L118.5 123.0 L118.3 121.0 L118.1 119.0 L117.6 117.0 L117.8 115.0 L118.1 113.0 L118.7 111.0 L118.3 109.0 L118.8 107.0 L118.5 105.0 L119.5 103.0 L119.4 101.0 L120.8 99.0 L120.2 97.0 L120.1 95.0 L119.4 93.0 L119.8 91.0 L119.9 89.0 L120.0 87.0 L120.5 85.0 L120.5 83.0 L120.8 81.0 L120.9 79.0 L121.2 77.0 L121.5 75.0 L121.7 73.0 L122.1 71.0 L122.1 69.0 L122.3 67.0 L122.6 65.0 L123.9 63.0 L123.9 61.0 L124.6 59.0 L124.3 57.0 L125.0 55.0 L125.1 53.0 L125.9 51.0 L126.7 49.0 L127.6 47.0 L128.1 46.1 L137.5 46.1" stroke="#1414c0" stroke-width="1.5" fill="none" stroke-dasharray="5 5.3"/>
<path d="M89.5 373.0 L91.8 371.0 L94.3 369.0 L95.1 367.0 L96.2 365.0 L96.5 363.0 L97.3 361.0 L97.5 359.0 L98.2 357.0 L99.0 355.0 L99.7 353.0 L99.8 351.0 L100.1 349.0 L100.5 347.0 L100.5 345.0 L101.0 343.0 L100.4 341.0 L101.1 339.0 L101.0 337.0 L102.0 335.0 L102.1 333.0 L101.9 331.0 L101.3 329.0 L101.0 327.0 L101.5 325.0 L101.8 323.0 L102.1 321.0 L102.2 319.0 L102.2 317.0 L102.4 315.0 L102.2 313.0 L103.1 311.0 L103.9 309.0 L104.1 307.0 L103.2 305.0 L103.0 303.0 L103.2 301.0 L103.9 299.0 L104.2 297.0 L104.2 295.0 L104.5 293.0 L104.7 291.0 L105.0 289.0 L104.7 287.0 L104.5 285.0 L104.7 283.0 L104.6 281.0 L104.8 279.0 L104.5 277.0 L104.5 275.0 L104.9 273.0 L105.3 271.0 L105.8 269.0 L106.0 267.0 L105.7 265.0 L105.8 263.0 L105.7 261.0 L106.6 259.0 L106.4 257.0 L106.6 255.0 L106.5 253.0 L107.4 251.0 L107.7 249.0 L107.9 247.0 L108.3 245.0 L108.0 243.0 L107.9 241.0 L107.2 239.0 L107.0 237.0 L107.2 235.0 L106.8 233.0 L107.2 231.0 L107.5 229.0 L108.4 227.0 L108.5 225.0 L108.9 223.0 L108.5 221.0 L108.6 219.0 L107.7 217.0 L107.8 215.0 L107.7 213.0 L108.8 211.0 L109.3 209.0 L109.3 207.0 L109.2 205.0 L109.2 203.0 L109.6 201.0 L109.6 199.0 L109.4 197.0 L109.5 195.0 L109.0 193.0 L109.2 191.0 L109.9 189.0 L111.0 187.0 L111.1 185.0 L110.6 183.0 L110.2 181.0 L110.7 179.0 L111.1 177.0 L111.2 175.0 L111.1 173.0 L111.1 171.0 L111.6 169.0 L111.4 167.0 L111.2 165.0 L111.2 163.0 L111.7 161.0 L111.9 159.0 L112.0 157.0 L112.2 155.0 L112.5 153.0 L112.5 151.0 L113.0 149.0 L113.4 147.0 L114.1 145.0 L113.3 143.0 L113.7 141.0 L113.0 139.0 L113.3 137.0 L113.3 135.0 L114.4 133.0 L114.4 131.0 L114.2 129.0 L114.0 127.0 L113.9 125.0 L114.5 123.0 L114.8 121.0 L115.4 119.0 L115.6 117.0 L115.8 115.0 L116.2 113.0 L116.4 111.0 L116.8 109.0 L116.8 107.0 L116.8 105.0 L116.4 103.0 L117.1 101.0 L117.1 99.0 L117.6 97.0 L117.5 95.0 L117.8 93.0 L118.4 91.0 L118.5 89.0 L119.2 87.0 L119.2 85.0 L119.9 83.0 L119.7 81.0 L120.0 79.0 L120.1 77.0 L120.2 75.0 L120.3 73.0 L120.4 71.0 L120.8 69.0 L121.4 67.0 L121.5 65.0 L121.3 63.0 L120.6 61.0 L121.0 59.0 L121.7 57.0 L122.6 55.0 L123.3 53.0 L124.2 51.0 L124.6 49.0 L125.2 47.0 L125.6 46.1 L137.5 46.1" stroke="#16dc16" stroke-width="1.5" fill="none" stroke-dasharray="5 5.3"/>
<path d="M93.5 373.0 L95.8 371.0 L98.3 369.0 L99.1 367.0 L100.0 365.0 L100.6 363.0 L101.8 361.0 L101.8 359.0 L101.7 357.0 L102.1 355.0 L103.0 353.0 L103.1 351.0 L103.0 349.0 L103.4 347.0 L103.5 345.0 L104.5 343.0 L104.5 341.0 L105.2 339.0 L104.4 337.0 L104.4 335.0 L104.6 333.0 L104.7 331.0 L105.6 329.0 L105.0 327.0 L105.2 325.0 L104.7 323.0 L105.4 321.0 L106.1 319.0 L106.1 317.0 L106.0 315.0 L105.8 313.0 L105.9 311.0 L105.3 309.0 L105.7 307.0 L106.1 305.0 L107.0 303.0 L106.6 301.0 L106.8 299.0 L106.8 297.0 L107.1 295.0 L107.5 293.0 L107.1 291.0 L107.3 289.0 L106.7 287.0 L107.2 285.0 L107.7 283.0 L107.7 281.0 L107.9 279.0 L107.4 277.0 L108.1 275.0 L107.9 273.0 L107.7 271.0 L107.6 269.0 L107.9 267.0 L108.4 265.0 L108.6 263.0 L108.6 261.0 L108.7 259.0 L108.5 257.0 L108.9 255.0 L109.0 253.0 L109.3 251.0 L110.0 249.0 L110.1 247.0 L110.4 245.0 L109.2 243.0 L109.9 241.0 L109.3 239.0 L110.0 237.0 L109.6 235.0 L109.5 233.0 L109.2 231.0 L109.2 229.0 L109.9 227.0 L110.7 225.0 L110.8 223.0 L110.3 221.0 L109.8 219.0 L109.6 217.0 L110.4 215.0 L110.9 213.0 L111.3 211.0 L110.7 209.0 L110.3 207.0 L110.7 205.0 L111.2 203.0 L111.3 201.0 L111.3 199.0 L110.8 197.0 L111.4 195.0 L110.9 193.0 L111.2 191.0 L111.2 189.0 L111.8 187.0 L112.3 185.0 L112.0 183.0 L112.5 181.0 L112.7 179.0 L113.0 177.0 L112.8 175.0 L112.3 173.0 L112.3 171.0 L111.9 169.0 L112.3 167.0 L112.5 165.0 L113.4 163.0 L113.7 161.0 L114.0 159.0 L113.6 157.0 L113.4 155.0 L113.1 153.0 L113.4 151.0 L113.0 149.0 L113.4 147.0 L113.0 145.0 L113.5 143.0 L113.4 141.0 L113.9 139.0 L114.7 137.0 L114.8 135.0 L115.6 133.0 L115.6 131.0 L115.7 129.0 L115.5 127.0 L115.7 125.0 L115.9 123.0 L115.9 121.0 L115.5 119.0 L115.8 117.0 L115.9 115.0 L116.2 113.0 L116.7 111.0 L117.3 109.0 L117.5 107.0 L117.4 105.0 L117.4 103.0 L117.5 101.0 L117.3 99.0 L117.5 97.0 L117.5 95.0 L118.2 93.0 L117.8 91.0 L118.8 89.0 L118.4 87.0 L119.2 85.0 L119.4 83.0 L119.6 81.0 L120.1 79.0 L119.6 77.0 L119.7 75.0 L119.7 73.0 L120.4 71.0 L121.2 69.0 L120.5 67.0 L120.5 65.0 L120.7 63.0 L121.7 61.0 L121.9 59.0 L121.8 57.0 L122.2 55.0 L123.2 53.0 L124.3 51.0 L124.6 49.0 L125.1 47.0 L125.6 46.1 L137.5 46.1" stroke="#000000" stroke-width="1.5" fill="none" stroke-dasharray="5 5.3"/>
</g><g clip-path="url(#cr)">
<path d="M587.5 373.0 L659.6 371.0 L682.2 369.0 L690.0 367.0 L692.5 365.0 L695.1 363.0 L696.9 361.0 L698.3 359.0 L699.2 357.0 L699.6 355.0 L700.7 353.0 L700.9 351.0 L701.9 349.0 L702.4 347.0 L702.9 345.0 L703.3 343.0 L703.2 341.0 L704.0 339.0 L704.5 337.0 L705.1 335.0 L705.5 333.0 L705.1 331.0 L705.5 329.0 L705.6 327.0 L706.4 325.0 L706.9 323.0 L707.6 321.0 L707.8 319.0 L707.6 317.0 L707.1 315.0 L707.5 313.0 L708.2 311.0 L708.4 309.0 L708.9 307.0 L708.7 305.0 L709.4 303.0 L709.5 301.0 L710.2 299.0 L710.9 297.0 L710.9 295.0 L711.0 293.0 L710.7 291.0 L711.2 289.0 L711.0 287.0 L711.1 285.0 L710.8 283.0 L711.5 281.0 L712.0 279.0 L712.4 277.0 L712.3 275.0 L712.1 273.0 L711.4 271.0 L711.8 269.0 L712.1 267.0 L713.1 265.0 L712.9 263.0 L712.7 261.0 L712.7 259.0 L713.4 257.0 L713.7 255.0 L714.3 253.0 L713.3 251.0 L713.4 249.0 L713.2 247.0 L714.1 245.0 L713.9 243.0 L713.8 241.0 L714.3 239.0 L714.6 237.0 L714.6 235.0 L714.1 233.0 L714.4 231.0 L715.1 229.0 L715.7 227.0 L715.4 225.0 L715.8 223.0 L715.6 221.0 L716.2 219.0 L716.4 217.0 L716.7 215.0 L716.7 213.0 L716.1 211.0 L716.1 209.0 L716.3 207.0 L716.5 205.0 L717.1 203.0 L717.7 201.0 L717.5 199.0 L718.2 197.0 L718.0 195.0 L718.5 193.0 L717.9 191.0 L718.5 189.0 L718.5 187.0 L718.7 185.0 L719.2 183.0 L719.4 181.0 L719.0 179.0 L718.6 177.0 L718.4 175.0 L718.7 173.0 L718.8 171.0 L719.2 169.0 L719.4 167.0 L719.7 165.0 L719.6 163.0 L719.4 161.0 L719.5 159.0 L719.5 157.0 L720.4 155.0 L720.0 153.0 L720.4 151.0 L720.2 149.0 L719.7 147.0 L719.2 145.0 L718.9 143.0 L720.2 141.0 L720.2 139.0 L721.0 137.0 L721.1 135.0 L722.0 133.0 L722.1 131.0 L721.8 129.0 L721.8 127.0 L721.8 125.0 L722.3 123.0 L722.7 121.0 L722.7 119.0 L722.6 117.0 L722.4 115.0 L722.7 113.0 L722.6 111.0 L722.6 109.0 L722.5 107.0 L723.0 105.0 L723.5 103.0 L723.0 101.0 L723.3 99.0 L723.4 97.0 L724.6 95.0 L724.3 93.0 L724.5 91.0 L724.6 89.0 L725.7 87.0 L726.5 85.0 L727.0 83.0 L726.8 81.0 L727.0 79.0 L727.0 77.0 L727.4 75.0 L728.0 73.0 L728.3 71.0 L728.7 69.0 L728.5 67.0 L728.9 65.0 L729.9 63.0 L730.6 61.0 L731.7 59.0 L732.1 57.0 L732.4 55.0 L732.8 53.0 L733.1 51.0 L733.9 49.0 L734.8 47.0 L735.4 46.1 L747.0 46.1" stroke="#a80c10" stroke-width="1.5" fill="none" stroke-dasharray="1.6 1.7"/>
<path d="M679.0 373.0 L711.4 371.0 L718.2 369.0 L722.5 367.0 L725.4 365.0 L727.2 363.0 L728.4 361.0 L730.2 359.0 L731.9 357.0 L733.5 355.0 L734.8 353.0 L735.2 351.0 L735.9 349.0 L736.3 347.0 L736.7 345.0 L737.2 343.0 L737.7 341.0 L738.4 339.0 L738.5 337.0 L739.0 335.0 L739.3 333.0 L739.5 331.0 L739.7 329.0 L739.4 327.0 L739.9 325.0 L740.0 323.0 L740.8 321.0 L740.1 319.0 L740.3 317.0 L740.5 315.0 L740.8 313.0 L741.1 311.0 L741.3 309.0 L742.3 307.0 L742.1 305.0 L742.4 303.0 L742.6 301.0 L742.9 299.0 L743.3 297.0 L743.4 295.0 L743.9 293.0 L743.8 291.0 L744.1 289.0 L744.3 287.0 L744.9 285.0 L745.1 283.0 L745.0 281.0 L744.8 279.0 L745.1 277.0 L745.3 275.0 L745.6 273.0 L745.7 271.0 L745.9 269.0 L745.2 267.0 L745.3 265.0 L745.6 263.0 L746.5 261.0 L746.4 259.0 L746.8 257.0 L746.9 255.0 L747.1 253.0 L746.7 251.0 L747.0 249.0 L747.0 247.0 L747.1 245.0 L747.7 243.0 L748.6 241.0 L749.4 239.0 L749.3 237.0 L749.3 235.0 L748.6 233.0 L748.7 231.0 L749.0 229.0 L749.8 227.0 L749.0 225.0 L749.1 223.0 L749.5 221.0 L750.1 219.0 L749.9 217.0 L749.9 215.0 L750.1 213.0 L750.6 211.0 L750.5 209.0 L750.8 207.0 L750.7 205.0 L750.3 203.0 L749.9 201.0 L751.0 199.0 L751.6 197.0 L752.4 195.0 L751.9 193.0 L752.5 191.0 L752.4 189.0 L752.0 187.0 L751.6 185.0 L751.0 183.0 L751.2 181.0 L751.6 179.0 L751.6 177.0 L751.9 175.0 L752.0 173.0 L753.1 171.0 L752.9 169.0 L752.6 167.0 L751.7 165.0 L751.8 163.0 L752.3 161.0 L753.6 159.0 L753.7 157.0 L754.1 155.0 L753.7 153.0 L754.0 151.0 L754.4 149.0 L753.6 147.0 L753.8 145.0 L753.4 143.0 L754.9 141.0 L755.6 139.0 L756.4 137.0 L755.9 135.0 L755.8 133.0 L755.7 131.0 L756.0 129.0 L756.0 127.0 L755.7 125.0 L755.5 123.0 L755.2 121.0 L756.0 119.0 L756.2 117.0 L756.1 115.0 L755.7 113.0 L756.0 111.0 L756.8 109.0 L757.5 107.0 L757.6 105.0 L757.6 103.0 L757.0 101.0 L757.2 99.0 L757.3 97.0 L757.8 95.0 L758.9 93.0 L759.3 91.0 L759.2 89.0 L759.0 87.0 L759.4 85.0 L760.2 83.0 L760.1 81.0 L760.3 79.0 L760.6 77.0 L761.0 75.0 L761.4 73.0 L761.9 71.0 L761.6 69.0 L761.6 67.0 L761.4 65.0 L762.2 63.0 L762.8 61.0 L763.3 59.0 L763.6 57.0 L764.7 55.0 L765.5 53.0 L765.4 51.0 L765.5 49.0 L766.4 47.0 L767.0 46.1 L784.5 46.1" stroke="#a80c10" stroke-width="1.5" fill="none" stroke-dasharray="1.6 1.7"/>
<path d="M588.5 373.0 L660.6 371.0 L683.3 369.0 L691.0 367.0 L693.7 365.0 L695.7 363.0 L697.4 361.0 L698.3 359.0 L698.7 357.0 L699.2 355.0 L700.1 353.0 L700.8 351.0 L701.1 349.0 L702.2 347.0 L702.9 345.0 L704.1 343.0 L704.6 341.0 L704.7 339.0 L705.6 337.0 L705.4 335.0 L706.6 333.0 L706.2 331.0 L706.8 329.0 L706.8 327.0 L707.2 325.0 L706.8 323.0 L706.5 321.0 L706.8 319.0 L708.0 317.0 L708.5 315.0 L708.9 313.0 L708.7 311.0 L709.3 309.0 L709.6 307.0 L709.3 305.0 L709.5 303.0 L709.4 301.0 L710.0 299.0 L709.8 297.0 L709.9 295.0 L709.9 293.0 L710.0 291.0 L711.2 289.0 L712.2 287.0 L712.6 285.0 L712.2 283.0 L711.5 281.0 L710.8 279.0 L710.2 277.0 L710.6 275.0 L712.0 273.0 L712.7 271.0 L712.5 269.0 L712.1 267.0 L711.9 265.0 L712.0 263.0 L712.1 261.0 L712.4 259.0 L712.7 257.0 L712.6 255.0 L712.6 253.0 L713.0 251.0 L713.9 249.0 L714.2 247.0 L714.9 245.0 L714.1 243.0 L714.4 241.0 L713.5 239.0 L714.1 237.0 L714.2 235.0 L714.8 233.0 L715.3 231.0 L715.2 229.0 L714.8 227.0 L714.6 225.0 L714.9 223.0 L715.2 221.0 L715.7 219.0 L716.2 217.0 L716.1 215.0 L716.1 213.0 L716.0 211.0 L716.0 209.0 L716.1 207.0 L715.9 205.0 L716.2 203.0 L716.7 201.0 L717.0 199.0 L717.5 197.0 L717.4 195.0 L717.7 193.0 L718.2 191.0 L718.4 189.0 L718.4 187.0 L718.0 185.0 L717.8 183.0 L717.8 181.0 L717.4 179.0 L718.3 177.0 L718.3 175.0 L719.0 173.0 L717.9 171.0 L718.2 169.0 L718.6 167.0 L719.1 165.0 L719.1 163.0 L718.9 161.0 L719.0 159.0 L719.2 157.0 L719.4 155.0 L719.9 153.0 L720.0 151.0 L720.4 149.0 L720.4 147.0 L721.0 145.0 L721.3 143.0 L721.3 141.0 L721.0 139.0 L720.8 137.0 L720.8 135.0 L721.3 133.0 L721.8 131.0 L722.0 129.0 L721.6 127.0 L721.3 125.0 L721.7 123.0 L722.6 121.0 L723.4 119.0 L723.1 117.0 L722.9 115.0 L723.0 113.0 L723.4 111.0 L723.8 109.0 L723.8 107.0 L724.1 105.0 L723.8 103.0 L724.3 101.0 L724.8 99.0 L725.2 97.0 L724.8 95.0 L725.2 93.0 L725.8 91.0 L726.3 89.0 L726.9 87.0 L726.9 85.0 L727.1 83.0 L727.3 81.0 L727.7 79.0 L728.5 77.0 L728.6 75.0 L728.8 73.0 L728.8 71.0 L729.2 69.0 L730.3 67.0 L730.9 65.0 L731.8 63.0 L732.0 61.0 L732.5 59.0 L732.8 57.0 L733.5 55.0 L734.2 53.0 L734.5 51.0 L735.4 49.0 L736.7 47.0 L737.4 46.1 L747.0 46.1" stroke="#1414c0" stroke-width="1.5" fill="none" stroke-dasharray="1.6 1.7"/>
<path d="M683.5 373.0 L715.8 371.0 L722.4 369.0 L726.7 367.0 L729.6 365.0 L731.9 363.0 L733.4 361.0 L734.5 359.0 L735.8 357.0 L736.8 355.0 L738.7 353.0 L739.5 351.0 L741.2 349.0 L742.0 347.0 L742.7 345.0 L742.9 343.0 L743.3 341.0 L743.3 339.0 L743.8 337.0 L744.2 335.0 L744.7 333.0 L744.1 331.0 L744.6 329.0 L745.1 327.0 L745.3 325.0 L745.2 323.0 L745.8 321.0 L746.4 319.0 L746.5 317.0 L746.0 315.0 L746.0 313.0 L746.4 311.0 L747.7 309.0 L748.1 307.0 L747.9 305.0 L747.4 303.0 L747.5 301.0 L748.0 299.0 L748.2 297.0 L748.2 295.0 L747.8 293.0 L747.7 291.0 L748.5 289.0 L749.1 287.0 L749.6 285.0 L749.1 283.0 L749.3 281.0 L748.9 279.0 L749.5 277.0 L749.6 275.0 L749.7 273.0 L749.8 271.0 L749.5 269.0 L750.0 267.0 L750.0 265.0 L750.3 263.0 L750.5 261.0 L750.7 259.0 L751.4 257.0 L751.3 255.0 L751.9 253.0 L751.8 251.0 L751.8 249.0 L751.6 247.0 L751.5 245.0 L751.8 243.0 L752.0 241.0 L752.9 239.0 L753.1 237.0 L753.7 235.0 L753.5 233.0 L753.3 231.0 L752.3 229.0 L752.5 227.0 L752.5 225.0 L753.5 223.0 L753.8 221.0 L754.6 219.0 L754.5 217.0 L754.2 215.0 L754.3 213.0 L754.4 211.0 L754.5 209.0 L754.4 207.0 L755.0 205.0 L755.1 203.0 L755.4 201.0 L754.9 199.0 L755.0 197.0 L754.6 195.0 L755.0 193.0 L755.5 191.0 L756.2 189.0 L756.2 187.0 L756.3 185.0 L756.2 183.0 L756.6 181.0 L756.6 179.0 L757.0 177.0 L756.3 175.0 L756.0 173.0 L756.1 171.0 L757.0 169.0 L758.2 167.0 L758.0 165.0 L758.0 163.0 L757.9 161.0 L758.3 159.0 L759.1 157.0 L759.0 155.0 L758.9 153.0 L758.6 151.0 L758.4 149.0 L758.4 147.0 L758.2 145.0 L758.4 143.0 L758.9 141.0 L759.1 139.0 L759.4 137.0 L759.2 135.0 L759.8 133.0 L759.0 131.0 L759.3 129.0 L759.2 127.0 L759.9 125.0 L760.4 123.0 L760.6 121.0 L761.5 119.0 L761.7 117.0 L761.9 115.0 L761.7 113.0 L761.2 111.0 L761.1 109.0 L761.2 107.0 L761.8 105.0 L761.9 103.0 L763.1 101.0 L762.7 99.0 L763.4 97.0 L762.5 95.0 L763.0 93.0 L763.1 91.0 L763.5 89.0 L763.4 87.0 L763.5 85.0 L763.7 83.0 L763.8 81.0 L764.0 79.0 L764.0 77.0 L764.8 75.0 L765.2 73.0 L766.0 71.0 L766.5 69.0 L767.4 67.0 L767.8 65.0 L768.2 63.0 L768.0 61.0 L768.4 59.0 L768.5 57.0 L768.6 55.0 L769.0 53.0 L770.9 51.0 L771.9 49.0 L772.9 47.0 L773.5 46.1 L784.5 46.1" stroke="#1414c0" stroke-width="1.5" fill="none" stroke-dasharray="1.6 1.7"/>
<path d="M588.0 373.0 L660.0 371.0 L682.9 369.0 L690.8 367.0 L693.8 365.0 L695.7 363.0 L697.2 361.0 L697.9 359.0 L698.7 357.0 L698.9 355.0 L699.8 353.0 L700.2 351.0 L701.2 349.0 L702.5 347.0 L703.5 345.0 L704.8 343.0 L705.4 341.0 L706.0 339.0 L706.2 337.0 L706.0 335.0 L706.2 333.0 L706.0 331.0 L706.3 329.0 L706.7 327.0 L707.6 325.0 L707.8 323.0 L708.2 321.0 L708.0 319.0 L708.3 317.0 L708.1 315.0 L708.2 313.0 L708.8 311.0 L708.8 309.0 L708.6 307.0 L708.7 305.0 L709.3 303.0 L710.2 301.0 L710.6 299.0 L710.9 297.0 L710.6 295.0 L710.7 293.0 L710.7 291.0 L711.5 289.0 L711.7 287.0 L711.9 285.0 L711.7 283.0 L712.5 281.0 L711.8 279.0 L711.9 277.0 L712.1 275.0 L713.0 273.0 L712.6 271.0 L712.0 269.0 L711.7 267.0 L712.2 265.0 L712.3 263.0 L713.4 261.0 L713.9 259.0 L714.2 257.0 L714.1 255.0 L714.2 253.0 L713.8 251.0 L713.6 249.0 L713.8 247.0 L714.1 245.0 L714.1 243.0 L714.0 241.0 L713.8 239.0 L713.8 237.0 L714.1 235.0 L714.5 233.0 L715.0 231.0 L715.6 229.0 L715.9 227.0 L716.1 225.0 L715.4 223.0 L715.1 221.0 L715.4 219.0 L715.6 217.0 L716.2 215.0 L715.9 213.0 L716.4 211.0 L716.4 209.0 L717.1 207.0 L717.1 205.0 L717.1 203.0 L717.0 201.0 L717.3 199.0 L718.1 197.0 L718.0 195.0 L718.0 193.0 L717.5 191.0 L717.9 189.0 L718.2 187.0 L718.6 185.0 L718.1 183.0 L718.9 181.0 L719.3 179.0 L719.8 177.0 L718.8 175.0 L718.4 173.0 L718.6 171.0 L718.4 169.0 L718.5 167.0 L718.0 165.0 L718.9 163.0 L719.4 161.0 L720.2 159.0 L719.7 157.0 L719.8 155.0 L719.9 153.0 L720.3 151.0 L720.1 149.0 L720.4 147.0 L720.5 145.0 L720.5 143.0 L719.9 141.0 L720.5 139.0 L720.0 137.0 L720.8 135.0 L720.3 133.0 L721.4 131.0 L720.7 129.0 L720.9 127.0 L720.6 125.0 L721.5 123.0 L721.5 121.0 L722.0 119.0 L721.7 117.0 L722.8 115.0 L722.7 113.0 L723.2 111.0 L722.9 109.0 L723.7 107.0 L723.7 105.0 L723.9 103.0 L724.1 101.0 L724.4 99.0 L724.8 97.0 L724.2 95.0 L724.4 93.0 L723.6 91.0 L724.1 89.0 L724.2 87.0 L724.7 85.0 L724.6 83.0 L725.5 81.0 L726.4 79.0 L726.7 77.0 L727.3 75.0 L727.3 73.0 L728.0 71.0 L728.0 69.0 L728.2 67.0 L728.3 65.0 L728.4 63.0 L729.6 61.0 L730.8 59.0 L731.1 57.0 L731.7 55.0 L732.0 53.0 L733.0 51.0 L733.4 49.0 L734.4 47.0 L734.9 46.1 L747.0 46.1" stroke="#16dc16" stroke-width="1.5" fill="none" stroke-dasharray="1.6 1.7"/>
<path d="M681.0 373.0 L713.2 371.0 L720.0 369.0 L724.4 367.0 L727.3 365.0 L729.9 363.0 L731.0 361.0 L732.5 359.0 L733.6 357.0 L735.3 355.0 L736.7 353.0 L736.9 351.0 L737.2 349.0 L737.5 347.0 L738.8 345.0 L740.2 343.0 L741.9 341.0 L742.1 339.0 L742.1 337.0 L742.0 335.0 L742.3 333.0 L742.3 331.0 L742.4 329.0 L743.0 327.0 L742.7 325.0 L742.4 323.0 L741.7 321.0 L742.6 319.0 L743.6 317.0 L744.0 315.0 L744.2 313.0 L744.0 311.0 L744.4 309.0 L744.2 307.0 L744.4 305.0 L744.5 303.0 L745.2 301.0 L746.1 299.0 L745.8 297.0 L745.8 295.0 L745.3 293.0 L746.3 291.0 L746.7 289.0 L747.1 287.0 L747.2 285.0 L746.8 283.0 L746.2 281.0 L746.6 279.0 L747.4 277.0 L747.8 275.0 L747.8 273.0 L747.8 271.0 L747.5 269.0 L747.6 267.0 L747.2 265.0 L748.5 263.0 L748.2 261.0 L748.4 259.0 L747.7 257.0 L748.0 255.0 L748.7 253.0 L749.2 251.0 L748.8 249.0 L749.3 247.0 L750.2 245.0 L751.2 243.0 L750.5 241.0 L749.8 239.0 L749.2 237.0 L749.7 235.0 L750.6 233.0 L750.9 231.0 L750.8 229.0 L750.5 227.0 L750.9 225.0 L751.2 223.0 L752.0 221.0 L752.1 219.0 L752.3 217.0 L752.1 215.0 L752.4 213.0 L752.2 211.0 L751.6 209.0 L752.2 207.0 L752.2 205.0 L752.6 203.0 L752.4 201.0 L752.4 199.0 L752.5 197.0 L752.5 195.0 L753.3 193.0 L753.7 191.0 L754.1 189.0 L753.4 187.0 L753.0 185.0 L753.5 183.0 L754.0 181.0 L754.2 179.0 L753.8 177.0 L754.2 175.0 L754.3 173.0 L754.2 171.0 L754.3 169.0 L754.6 167.0 L755.3 165.0 L755.6 163.0 L756.2 161.0 L756.0 159.0 L755.8 157.0 L755.6 155.0 L755.8 153.0 L756.1 151.0 L756.3 149.0 L756.8 147.0 L757.6 145.0 L757.7 143.0 L757.6 141.0 L757.3 139.0 L757.8 137.0 L757.8 135.0 L757.6 133.0 L757.9 131.0 L758.3 129.0 L758.8 127.0 L758.4 125.0 L758.6 123.0 L758.9 121.0 L759.3 119.0 L759.4 117.0 L760.0 115.0 L759.7 113.0 L759.9 111.0 L759.1 109.0 L759.4 107.0 L759.3 105.0 L760.0 103.0 L760.6 101.0 L760.5 99.0 L760.1 97.0 L760.1 95.0 L760.6 93.0 L761.0 91.0 L760.9 89.0 L761.7 87.0 L762.0 85.0 L762.7 83.0 L762.3 81.0 L762.6 79.0 L763.0 77.0 L763.4 75.0 L764.1 73.0 L764.0 71.0 L764.0 69.0 L764.8 67.0 L765.5 65.0 L766.5 63.0 L766.7 61.0 L767.3 59.0 L767.6 57.0 L767.3 55.0 L767.3 53.0 L768.4 51.0 L769.5 49.0 L770.5 47.0 L771.0 46.1 L784.5 46.1" stroke="#16dc16" stroke-width="1.5" fill="none" stroke-dasharray="1.6 1.7"/>
<path d="M589.5 373.0 L661.3 371.0 L683.8 369.0 L691.7 367.0 L694.3 365.0 L696.9 363.0 L698.2 361.0 L699.5 359.0 L700.2 357.0 L701.3 355.0 L702.1 353.0 L702.7 351.0 L703.9 349.0 L704.5 347.0 L704.8 345.0 L704.6 343.0 L705.1 341.0 L705.8 339.0 L706.5 337.0 L707.6 335.0 L707.8 333.0 L707.2 331.0 L707.1 329.0 L707.0 327.0 L707.5 325.0 L707.4 323.0 L708.1 321.0 L708.6 319.0 L709.7 317.0 L709.9 315.0 L709.6 313.0 L709.5 311.0 L710.0 309.0 L710.8 307.0 L710.4 305.0 L710.8 303.0 L710.6 301.0 L711.1 299.0 L710.3 297.0 L710.5 295.0 L710.2 293.0 L711.4 291.0 L712.3 289.0 L712.8 287.0 L712.2 285.0 L711.9 283.0 L712.3 281.0 L712.4 279.0 L712.2 277.0 L712.1 275.0 L713.0 273.0 L713.5 271.0 L713.7 269.0 L713.3 267.0 L712.6 265.0 L712.7 263.0 L712.9 261.0 L713.8 259.0 L713.7 257.0 L714.3 255.0 L714.2 253.0 L714.9 251.0 L714.9 249.0 L715.4 247.0 L715.3 245.0 L715.7 243.0 L715.8 241.0 L715.2 239.0 L714.8 237.0 L715.4 235.0 L716.2 233.0 L716.7 231.0 L716.4 229.0 L716.1 227.0 L715.9 225.0 L715.7 223.0 L716.4 221.0 L716.8 219.0 L717.7 217.0 L717.6 215.0 L718.2 213.0 L717.9 211.0 L717.5 209.0 L717.6 207.0 L717.8 205.0 L718.7 203.0 L718.4 201.0 L718.3 199.0 L718.2 197.0 L717.9 195.0 L717.8 193.0 L717.6 191.0 L718.0 189.0 L718.0 187.0 L718.4 185.0 L718.8 183.0 L719.9 181.0 L720.7 179.0 L720.7 177.0 L720.4 175.0 L719.9 173.0 L720.2 171.0 L720.0 169.0 L720.0 167.0 L720.1 165.0 L719.8 163.0 L720.2 161.0 L720.2 159.0 L720.4 157.0 L720.3 155.0 L720.7 153.0 L720.9 151.0 L721.3 149.0 L721.4 147.0 L722.2 145.0 L721.9 143.0 L721.8 141.0 L721.6 139.0 L722.6 137.0 L722.9 135.0 L723.2 133.0 L722.5 131.0 L722.5 129.0 L722.9 127.0 L723.5 125.0 L724.5 123.0 L724.0 121.0 L724.2 119.0 L723.3 117.0 L723.9 115.0 L724.2 113.0 L725.6 111.0 L725.6 109.0 L725.7 107.0 L724.8 105.0 L724.9 103.0 L725.5 101.0 L726.4 99.0 L727.0 97.0 L727.1 95.0 L727.1 93.0 L727.1 91.0 L727.2 89.0 L727.1 87.0 L727.8 85.0 L728.2 83.0 L728.7 81.0 L728.7 79.0 L729.0 77.0 L730.1 75.0 L730.9 73.0 L730.3 71.0 L730.6 69.0 L731.1 67.0 L732.3 65.0 L732.1 63.0 L732.2 61.0 L733.2 59.0 L734.5 57.0 L734.8 55.0 L735.2 53.0 L736.1 51.0 L737.2 49.0 L738.4 47.0 L738.9 46.1 L747.0 46.1" stroke="#eea020" stroke-width="1.5" fill="none" stroke-dasharray="1.6 1.7"/>
<path d="M685.0 373.0 L717.2 371.0 L724.0 369.0 L728.3 367.0 L731.6 365.0 L733.4 363.0 L735.0 361.0 L735.8 359.0 L737.5 357.0 L738.7 355.0 L740.7 353.0 L741.7 351.0 L742.3 349.0 L743.0 347.0 L743.5 345.0 L743.8 343.0 L744.3 341.0 L744.6 339.0 L745.5 337.0 L745.6 335.0 L746.0 333.0 L746.0 331.0 L746.0 329.0 L745.5 327.0 L745.1 325.0 L745.8 323.0 L746.6 321.0 L747.4 319.0 L747.8 317.0 L747.8 315.0 L748.1 313.0 L748.3 311.0 L748.8 309.0 L748.8 307.0 L748.4 305.0 L748.6 303.0 L748.3 301.0 L748.5 299.0 L748.5 297.0 L749.1 295.0 L749.6 293.0 L749.8 291.0 L749.7 289.0 L749.9 287.0 L749.9 285.0 L750.0 283.0 L750.1 281.0 L750.9 279.0 L751.4 277.0 L751.2 275.0 L751.3 273.0 L752.2 271.0 L752.5 269.0 L752.2 267.0 L751.9 265.0 L753.1 263.0 L753.3 261.0 L753.7 259.0 L753.1 257.0 L752.7 255.0 L752.2 253.0 L751.8 251.0 L752.7 249.0 L753.2 247.0 L754.3 245.0 L754.3 243.0 L754.5 241.0 L754.1 239.0 L754.4 237.0 L755.1 235.0 L755.3 233.0 L755.9 231.0 L755.7 229.0 L755.6 227.0 L755.5 225.0 L755.1 223.0 L755.5 221.0 L755.4 219.0 L755.7 217.0 L755.7 215.0 L756.2 213.0 L756.3 211.0 L756.8 209.0 L756.9 207.0 L757.3 205.0 L757.6 203.0 L757.6 201.0 L757.8 199.0 L758.2 197.0 L757.4 195.0 L757.8 193.0 L757.4 191.0 L757.4 189.0 L756.7 187.0 L756.4 185.0 L757.1 183.0 L756.9 181.0 L757.2 179.0 L757.4 177.0 L758.0 175.0 L758.2 173.0 L758.1 171.0 L758.2 169.0 L758.6 167.0 L758.8 165.0 L758.8 163.0 L759.2 161.0 L758.8 159.0 L758.9 157.0 L758.8 155.0 L759.2 153.0 L759.4 151.0 L759.3 149.0 L759.6 147.0 L760.3 145.0 L760.5 143.0 L760.4 141.0 L760.3 139.0 L760.4 137.0 L760.1 135.0 L760.2 133.0 L760.3 131.0 L760.9 129.0 L761.2 127.0 L761.5 125.0 L761.6 123.0 L760.9 121.0 L760.5 119.0 L760.9 117.0 L761.7 115.0 L762.5 113.0 L762.7 111.0 L762.8 109.0 L762.4 107.0 L762.2 105.0 L762.4 103.0 L762.6 101.0 L763.3 99.0 L763.1 97.0 L763.1 95.0 L763.0 93.0 L763.0 91.0 L764.2 89.0 L764.2 87.0 L765.0 85.0 L764.7 83.0 L765.0 81.0 L764.8 79.0 L764.6 77.0 L765.4 75.0 L766.6 73.0 L768.2 71.0 L767.9 69.0 L768.1 67.0 L767.9 65.0 L769.0 63.0 L769.1 61.0 L769.9 59.0 L770.5 57.0 L771.4 55.0 L772.2 53.0 L772.4 51.0 L773.1 49.0 L773.9 47.0 L774.5 46.1 L784.5 46.1" stroke="#eea020" stroke-width="1.5" fill="none" stroke-dasharray="1.6 1.7"/>
<path d="M586.5 373.0 L658.5 371.0 L680.9 369.0 L688.9 367.0 L691.7 365.0 L694.1 363.0 L695.7 361.0 L697.2 359.0 L697.4 357.0 L698.0 355.0 L698.8 353.0 L700.0 351.0 L700.3 349.0 L700.7 347.0 L700.9 345.0 L702.7 343.0 L703.7 341.0 L704.3 339.0 L704.5 337.0 L704.1 335.0 L704.9 333.0 L704.9 331.0 L705.3 329.0 L704.9 327.0 L704.8 325.0 L704.4 323.0 L704.9 321.0 L704.7 319.0 L706.0 317.0 L706.1 315.0 L706.2 313.0 L706.3 311.0 L706.9 309.0 L707.8 307.0 L708.5 305.0 L708.9 303.0 L709.3 301.0 L708.7 299.0 L707.8 297.0 L708.1 295.0 L708.9 293.0 L709.9 291.0 L709.5 289.0 L709.3 287.0 L709.1 285.0 L709.7 283.0 L710.1 281.0 L711.2 279.0 L711.5 277.0 L711.4 275.0 L711.4 273.0 L711.9 271.0 L711.8 269.0 L711.4 267.0 L710.8 265.0 L710.7 263.0 L710.9 261.0 L711.3 259.0 L711.9 257.0 L712.4 255.0 L712.6 253.0 L712.5 251.0 L712.8 249.0 L713.2 247.0 L713.7 245.0 L714.2 243.0 L713.9 241.0 L713.8 239.0 L714.0 237.0 L714.3 235.0 L714.6 233.0 L714.1 231.0 L714.5 229.0 L714.4 227.0 L714.4 225.0 L714.2 223.0 L714.3 221.0 L715.0 219.0 L715.1 217.0 L715.4 215.0 L715.2 213.0 L715.6 211.0 L715.5 209.0 L716.1 207.0 L715.6 205.0 L715.8 203.0 L715.4 201.0 L716.2 199.0 L716.5 197.0 L717.0 195.0 L716.8 193.0 L716.7 191.0 L716.3 189.0 L716.4 187.0 L716.5 185.0 L717.1 183.0 L717.4 181.0 L717.9 179.0 L717.9 177.0 L717.7 175.0 L717.1 173.0 L717.3 171.0 L717.7 169.0 L718.7 167.0 L718.9 165.0 L719.4 163.0 L719.5 161.0 L719.2 159.0 L719.1 157.0 L719.0 155.0 L719.8 153.0 L719.5 151.0 L719.5 149.0 L719.1 147.0 L719.1 145.0 L718.9 143.0 L719.7 141.0 L719.8 139.0 L720.3 137.0 L719.9 135.0 L720.0 133.0 L719.9 131.0 L720.3 129.0 L720.4 127.0 L720.7 125.0 L720.5 123.0 L720.6 121.0 L720.6 119.0 L721.0 117.0 L721.1 115.0 L720.7 113.0 L721.0 111.0 L721.5 109.0 L722.0 107.0 L722.3 105.0 L721.9 103.0 L722.3 101.0 L722.6 99.0 L723.3 97.0 L723.2 95.0 L723.2 93.0 L723.4 91.0 L724.1 89.0 L724.5 87.0 L724.9 85.0 L724.6 83.0 L725.1 81.0 L725.7 79.0 L726.1 77.0 L726.4 75.0 L726.5 73.0 L727.0 71.0 L726.7 69.0 L727.5 67.0 L727.3 65.0 L728.2 63.0 L727.9 61.0 L729.3 59.0 L729.5 57.0 L730.1 55.0 L730.4 53.0 L731.1 51.0 L731.6 49.0 L732.4 47.0 L732.9 46.1 L747.0 46.1" stroke="#7028b0" stroke-width="1.5" fill="none" stroke-dasharray="1.6 1.7"/>
<path d="M682.5 373.0 L714.9 371.0 L721.7 369.0 L725.9 367.0 L728.8 365.0 L731.0 363.0 L732.5 361.0 L734.5 359.0 L735.7 357.0 L737.1 355.0 L738.4 353.0 L739.1 351.0 L739.7 349.0 L740.1 347.0 L740.6 345.0 L741.0 343.0 L742.0 341.0 L742.7 339.0 L743.2 337.0 L742.6 335.0 L742.8 333.0 L743.4 331.0 L743.6 329.0 L743.5 327.0 L743.7 325.0 L744.7 323.0 L745.7 321.0 L745.4 319.0 L745.3 317.0 L744.8 315.0 L745.3 313.0 L745.2 311.0 L745.7 309.0 L746.2 307.0 L746.6 305.0 L746.6 303.0 L746.4 301.0 L746.6 299.0 L746.7 297.0 L747.0 295.0 L747.3 293.0 L748.1 291.0 L747.6 289.0 L747.2 287.0 L746.5 285.0 L747.6 283.0 L748.9 281.0 L749.5 279.0 L749.4 277.0 L749.2 275.0 L748.5 273.0 L748.6 271.0 L747.4 269.0 L748.4 267.0 L748.4 265.0 L749.4 263.0 L749.6 261.0 L749.8 259.0 L750.4 257.0 L750.5 255.0 L750.9 253.0 L751.5 251.0 L751.5 249.0 L751.9 247.0 L751.0 245.0 L751.7 243.0 L751.8 241.0 L752.3 239.0 L752.4 237.0 L752.7 235.0 L753.2 233.0 L753.1 231.0 L752.7 229.0 L752.7 227.0 L752.4 225.0 L752.4 223.0 L752.3 221.0 L753.1 219.0 L754.0 217.0 L754.5 215.0 L754.6 213.0 L754.3 211.0 L753.5 209.0 L753.5 207.0 L753.6 205.0 L754.1 203.0 L754.3 201.0 L754.5 199.0 L754.5 197.0 L754.4 195.0 L753.8 193.0 L754.6 191.0 L754.6 189.0 L754.8 187.0 L754.8 185.0 L755.2 183.0 L756.2 181.0 L756.0 179.0 L756.9 177.0 L756.9 175.0 L757.2 173.0 L756.8 171.0 L756.6 169.0 L757.0 167.0 L757.7 165.0 L757.8 163.0 L757.4 161.0 L757.1 159.0 L757.7 157.0 L757.7 155.0 L757.4 153.0 L757.0 151.0 L757.7 149.0 L758.3 147.0 L758.5 145.0 L758.1 143.0 L758.3 141.0 L758.1 139.0 L758.8 137.0 L758.7 135.0 L760.1 133.0 L760.4 131.0 L760.5 129.0 L760.0 127.0 L759.8 125.0 L759.9 123.0 L760.2 121.0 L760.8 119.0 L760.8 117.0 L760.8 115.0 L761.2 113.0 L762.1 111.0 L762.1 109.0 L761.6 107.0 L761.3 105.0 L761.2 103.0 L762.0 101.0 L762.5 99.0 L762.9 97.0 L762.3 95.0 L762.4 93.0 L762.6 91.0 L763.8 89.0 L764.1 87.0 L764.5 85.0 L764.6 83.0 L765.3 81.0 L765.5 79.0 L764.8 77.0 L765.4 75.0 L766.0 73.0 L766.9 71.0 L766.8 69.0 L766.8 67.0 L767.0 65.0 L767.0 63.0 L767.9 61.0 L768.9 59.0 L770.0 57.0 L770.7 55.0 L771.2 53.0 L771.8 51.0 L772.3 49.0 L773.4 47.0 L774.0 46.1 L784.5 46.1" stroke="#7028b0" stroke-width="1.5" fill="none" stroke-dasharray="1.6 1.7"/>
<path d="M589.0 373.0 L661.1 371.0 L683.8 369.0 L691.5 367.0 L694.1 365.0 L696.2 363.0 L698.0 361.0 L698.8 359.0 L699.8 357.0 L700.5 355.0 L701.3 353.0 L701.4 351.0 L702.8 349.0 L703.7 347.0 L704.3 345.0 L704.2 343.0 L704.5 341.0 L705.3 339.0 L705.0 337.0 L705.8 335.0 L706.8 333.0 L707.7 331.0 L708.0 329.0 L708.0 327.0 L707.9 325.0 L708.3 323.0 L707.8 321.0 L708.3 319.0 L708.0 317.0 L709.2 315.0 L709.6 313.0 L710.0 311.0 L709.6 309.0 L709.8 307.0 L710.1 305.0 L710.8 303.0 L711.5 301.0 L711.9 299.0 L711.9 297.0 L711.7 295.0 L712.2 293.0 L712.5 291.0 L712.8 289.0 L713.0 287.0 L713.5 285.0 L713.8 283.0 L713.4 281.0 L712.9 279.0 L713.2 277.0 L713.2 275.0 L713.8 273.0 L713.4 271.0 L713.7 269.0 L713.7 267.0 L714.1 265.0 L714.3 263.0 L714.5 261.0 L714.2 259.0 L713.9 257.0 L713.9 255.0 L715.0 253.0 L715.4 251.0 L715.3 249.0 L714.7 247.0 L714.9 245.0 L715.7 243.0 L715.9 241.0 L716.2 239.0 L716.0 237.0 L716.2 235.0 L715.9 233.0 L715.9 231.0 L716.0 229.0 L716.6 227.0 L716.2 225.0 L716.9 223.0 L717.1 221.0 L718.0 219.0 L718.3 217.0 L718.4 215.0 L717.8 213.0 L717.5 211.0 L717.6 209.0 L718.0 207.0 L717.8 205.0 L717.9 203.0 L718.4 201.0 L718.8 199.0 L718.7 197.0 L718.5 195.0 L718.6 193.0 L718.8 191.0 L719.4 189.0 L719.1 187.0 L719.1 185.0 L719.4 183.0 L720.1 181.0 L720.3 179.0 L720.2 177.0 L719.8 175.0 L719.5 173.0 L718.9 171.0 L718.8 169.0 L719.3 167.0 L720.2 165.0 L720.6 163.0 L720.4 161.0 L720.4 159.0 L720.8 157.0 L721.1 155.0 L720.5 153.0 L720.3 151.0 L719.5 149.0 L720.2 147.0 L720.2 145.0 L720.9 143.0 L721.4 141.0 L722.1 139.0 L722.7 137.0 L722.5 135.0 L722.3 133.0 L722.1 131.0 L722.2 129.0 L722.9 127.0 L723.0 125.0 L723.0 123.0 L722.6 121.0 L723.3 119.0 L723.9 117.0 L723.7 115.0 L723.6 113.0 L723.4 111.0 L723.5 109.0 L723.8 107.0 L723.9 105.0 L724.7 103.0 L725.0 101.0 L725.0 99.0 L724.9 97.0 L724.9 95.0 L725.1 93.0 L725.1 91.0 L725.8 89.0 L726.1 87.0 L726.1 85.0 L725.8 83.0 L726.5 81.0 L728.1 79.0 L728.3 77.0 L728.4 75.0 L728.0 73.0 L728.3 71.0 L729.0 69.0 L729.5 67.0 L730.5 65.0 L731.5 63.0 L732.0 61.0 L732.7 59.0 L732.9 57.0 L733.4 55.0 L733.6 53.0 L734.5 51.0 L735.4 49.0 L736.4 47.0 L736.9 46.1 L747.0 46.1" stroke="#000000" stroke-width="1.5" fill="none" stroke-dasharray="1.6 1.7"/>
<path d="M684.2 373.0 L716.5 371.0 L723.7 369.0 L728.2 367.0 L731.4 365.0 L733.4 363.0 L734.5 361.0 L735.5 359.0 L736.9 357.0 L738.3 355.0 L740.1 353.0 L741.0 351.0 L741.7 349.0 L742.0 347.0 L742.6 345.0 L743.7 343.0 L744.3 341.0 L744.6 339.0 L744.5 337.0 L745.2 335.0 L745.4 333.0 L745.4 331.0 L745.4 329.0 L746.0 327.0 L746.7 325.0 L746.5 323.0 L745.4 321.0 L745.2 319.0 L745.7 317.0 L746.5 315.0 L746.1 313.0 L746.6 311.0 L746.9 309.0 L747.4 307.0 L747.8 305.0 L748.7 303.0 L749.6 301.0 L749.8 299.0 L749.2 297.0 L749.1 295.0 L749.0 293.0 L749.6 291.0 L749.8 289.0 L750.0 287.0 L749.9 285.0 L749.7 283.0 L750.1 281.0 L750.6 279.0 L750.8 277.0 L750.9 275.0 L750.1 273.0 L750.7 271.0 L750.9 269.0 L751.3 267.0 L751.7 265.0 L751.6 263.0 L751.6 261.0 L750.8 259.0 L751.2 257.0 L751.8 255.0 L752.7 253.0 L752.1 251.0 L752.3 249.0 L752.4 247.0 L752.9 245.0 L753.3 243.0 L753.0 241.0 L753.5 239.0 L753.5 237.0 L754.4 235.0 L754.1 233.0 L754.4 231.0 L754.2 229.0 L754.4 227.0 L754.3 225.0 L754.8 223.0 L755.6 221.0 L754.8 219.0 L754.2 217.0 L753.5 215.0 L754.6 213.0 L754.6 211.0 L755.1 209.0 L754.8 207.0 L755.3 205.0 L755.4 203.0 L755.5 201.0 L755.5 199.0 L755.8 197.0 L756.0 195.0 L756.5 193.0 L756.0 191.0 L756.5 189.0 L756.1 187.0 L757.2 185.0 L757.0 183.0 L757.1 181.0 L756.3 179.0 L757.2 177.0 L757.7 175.0 L757.9 173.0 L757.3 171.0 L757.0 169.0 L757.9 167.0 L758.2 165.0 L758.0 163.0 L757.7 161.0 L758.0 159.0 L758.7 157.0 L758.9 155.0 L758.7 153.0 L758.9 151.0 L758.9 149.0 L758.9 147.0 L759.0 145.0 L759.1 143.0 L759.4 141.0 L759.3 139.0 L759.1 137.0 L759.3 135.0 L759.9 133.0 L759.7 131.0 L759.6 129.0 L759.9 127.0 L761.1 125.0 L761.2 123.0 L761.3 121.0 L760.9 119.0 L761.0 117.0 L761.4 115.0 L761.7 113.0 L762.0 111.0 L761.1 109.0 L761.1 107.0 L760.9 105.0 L761.5 103.0 L761.4 101.0 L762.3 99.0 L762.4 97.0 L762.9 95.0 L762.5 93.0 L763.0 91.0 L763.9 89.0 L764.2 87.0 L764.7 85.0 L765.0 83.0 L765.8 81.0 L765.6 79.0 L765.0 77.0 L765.1 75.0 L765.2 73.0 L766.0 71.0 L765.6 69.0 L766.0 67.0 L766.4 65.0 L767.1 63.0 L767.7 61.0 L768.6 59.0 L769.5 57.0 L769.8 55.0 L770.5 53.0 L770.6 51.0 L771.3 49.0 L772.3 47.0 L773.0 46.1 L784.5 46.1" stroke="#000000" stroke-width="1.5" fill="none" stroke-dasharray="1.6 1.7"/>
<path d="M588.0 373.0 L659.9 371.0 L682.6 369.0 L690.5 367.0 L693.4 365.0 L695.5 363.0 L697.5 361.0 L698.0 359.0 L698.7 357.0 L699.7 355.0 L701.6 353.0 L702.7 351.0 L702.9 349.0 L703.0 347.0 L703.1 345.0 L704.2 343.0 L704.6 341.0 L705.3 339.0 L704.6 337.0 L704.6 335.0 L705.3 333.0 L706.2 331.0 L706.9 329.0 L706.0 327.0 L706.2 325.0 L707.0 323.0 L707.4 321.0 L707.0 319.0 L706.5 317.0 L707.1 315.0 L708.0 313.0 L707.9 311.0 L707.9 309.0 L707.8 307.0 L708.6 305.0 L709.2 303.0 L710.1 301.0 L709.8 299.0 L710.3 297.0 L710.1 295.0 L710.7 293.0 L711.1 291.0 L711.4 289.0 L711.4 287.0 L710.7 285.0 L710.9 283.0 L711.4 281.0 L711.8 279.0 L711.9 277.0 L711.3 275.0 L711.2 273.0 L711.5 271.0 L712.6 269.0 L713.0 267.0 L712.5 265.0 L712.2 263.0 L711.9 261.0 L712.5 259.0 L713.3 257.0 L714.0 255.0 L714.2 253.0 L714.1 251.0 L714.0 249.0 L714.3 247.0 L714.2 245.0 L714.6 243.0 L714.2 241.0 L714.5 239.0 L714.7 237.0 L714.6 235.0 L713.7 233.0 L713.3 231.0 L714.6 229.0 L715.6 227.0 L716.2 225.0 L716.1 223.0 L716.5 221.0 L716.2 219.0 L716.0 217.0 L716.0 215.0 L716.5 213.0 L717.0 211.0 L717.1 209.0 L717.0 207.0 L717.3 205.0 L717.4 203.0 L718.1 201.0 L717.1 199.0 L717.4 197.0 L716.5 195.0 L717.5 193.0 L717.1 191.0 L718.0 189.0 L717.9 187.0 L718.1 185.0 L718.3 183.0 L718.6 181.0 L718.6 179.0 L717.9 177.0 L717.6 175.0 L718.1 173.0 L718.8 171.0 L719.2 169.0 L719.1 167.0 L719.1 165.0 L719.5 163.0 L720.2 161.0 L720.6 159.0 L720.3 157.0 L720.2 155.0 L719.9 153.0 L719.8 151.0 L719.9 149.0 L720.7 147.0 L721.0 145.0 L720.5 143.0 L720.4 141.0 L720.3 139.0 L720.5 137.0 L720.6 135.0 L720.4 133.0 L720.9 131.0 L721.4 129.0 L722.7 127.0 L722.3 125.0 L721.8 123.0 L721.4 121.0 L721.7 119.0 L722.9 117.0 L723.0 115.0 L723.5 113.0 L723.1 111.0 L723.8 109.0 L724.5 107.0 L724.3 105.0 L724.6 103.0 L724.4 101.0 L724.5 99.0 L724.5 97.0 L724.2 95.0 L725.3 93.0 L725.2 91.0 L726.2 89.0 L726.4 87.0 L726.8 85.0 L726.5 83.0 L726.5 81.0 L726.7 79.0 L727.6 77.0 L728.0 75.0 L728.5 73.0 L728.4 71.0 L729.0 69.0 L729.2 67.0 L730.3 65.0 L730.3 63.0 L731.1 61.0 L730.8 59.0 L732.1 57.0 L733.0 55.0 L734.1 53.0 L734.2 51.0 L734.6 49.0 L735.4 47.0 L735.9 46.1 L747.0 46.1" stroke="#a80c10" stroke-width="1.5" fill="none"/>
<path d="M682.0 373.0 L714.4 371.0 L721.3 369.0 L725.7 367.0 L728.6 365.0 L730.4 363.0 L732.1 361.0 L733.2 359.0 L734.3 357.0 L734.8 355.0 L737.2 353.0 L738.9 351.0 L739.7 349.0 L739.9 347.0 L740.2 345.0 L740.4 343.0 L740.9 341.0 L741.5 339.0 L742.7 337.0 L742.6 335.0 L742.0 333.0 L741.3 331.0 L742.0 329.0 L742.9 327.0 L743.7 325.0 L743.8 323.0 L743.9 321.0 L743.6 319.0 L743.9 317.0 L744.3 315.0 L745.1 313.0 L745.6 311.0 L745.3 309.0 L744.6 307.0 L743.8 305.0 L745.1 303.0 L745.7 301.0 L746.6 299.0 L746.1 297.0 L746.8 295.0 L747.9 293.0 L748.0 291.0 L747.9 289.0 L746.8 287.0 L747.2 285.0 L747.6 283.0 L747.7 281.0 L748.2 279.0 L748.5 277.0 L749.1 275.0 L748.8 273.0 L748.6 271.0 L748.1 269.0 L748.5 267.0 L748.4 265.0 L748.9 263.0 L749.2 261.0 L749.3 259.0 L749.5 257.0 L749.6 255.0 L750.6 253.0 L750.8 251.0 L751.0 249.0 L750.4 247.0 L750.9 245.0 L750.8 243.0 L750.8 241.0 L751.2 239.0 L751.7 237.0 L752.2 235.0 L752.2 233.0 L751.4 231.0 L752.0 229.0 L752.1 227.0 L752.2 225.0 L752.1 223.0 L751.7 221.0 L752.0 219.0 L751.3 217.0 L752.3 215.0 L753.3 213.0 L753.9 211.0 L753.5 209.0 L752.7 207.0 L752.9 205.0 L753.4 203.0 L754.2 201.0 L754.2 199.0 L754.3 197.0 L753.5 195.0 L754.4 193.0 L754.4 191.0 L754.9 189.0 L755.0 187.0 L755.2 185.0 L756.0 183.0 L756.0 181.0 L756.7 179.0 L756.1 177.0 L756.0 175.0 L755.7 173.0 L756.0 171.0 L756.6 169.0 L756.5 167.0 L757.0 165.0 L757.1 163.0 L756.8 161.0 L756.4 159.0 L755.8 157.0 L756.4 155.0 L757.0 153.0 L757.3 151.0 L757.7 149.0 L757.6 147.0 L757.7 145.0 L758.0 143.0 L758.5 141.0 L758.5 139.0 L758.5 137.0 L758.2 135.0 L758.6 133.0 L758.3 131.0 L759.1 129.0 L759.5 127.0 L760.1 125.0 L759.8 123.0 L759.6 121.0 L759.6 119.0 L759.6 117.0 L760.4 115.0 L761.8 113.0 L762.1 111.0 L761.4 109.0 L760.8 107.0 L761.5 105.0 L761.6 103.0 L761.0 101.0 L761.2 99.0 L761.2 97.0 L762.4 95.0 L762.3 93.0 L763.1 91.0 L762.9 89.0 L763.2 87.0 L763.4 85.0 L763.6 83.0 L764.4 81.0 L764.8 79.0 L765.2 77.0 L765.0 75.0 L765.2 73.0 L765.3 71.0 L765.9 69.0 L767.1 67.0 L768.1 65.0 L768.6 63.0 L769.0 61.0 L769.4 59.0 L770.0 57.0 L770.1 55.0 L770.1 53.0 L770.8 51.0 L771.7 49.0 L772.8 47.0 L773.5 46.1 L784.5 46.1" stroke="#a80c10" stroke-width="1.5" fill="none"/>
<path d="M588.0 373.0 L660.0 371.0 L682.9 369.0 L690.6 367.0 L693.2 365.0 L695.3 363.0 L697.0 361.0 L698.3 359.0 L699.2 357.0 L700.0 355.0 L700.8 353.0 L701.4 351.0 L701.5 349.0 L702.5 347.0 L703.0 345.0 L704.3 343.0 L704.6 341.0 L705.7 339.0 L705.4 337.0 L705.7 335.0 L705.1 333.0 L705.6 331.0 L705.8 329.0 L706.9 327.0 L707.3 325.0 L708.0 323.0 L707.2 321.0 L707.0 319.0 L706.9 317.0 L707.0 315.0 L707.3 313.0 L708.5 311.0 L709.1 309.0 L709.5 307.0 L709.4 305.0 L709.5 303.0 L709.4 301.0 L709.3 299.0 L710.0 297.0 L709.9 295.0 L710.2 293.0 L710.2 291.0 L711.0 289.0 L710.6 287.0 L710.6 285.0 L710.3 283.0 L710.8 281.0 L711.3 279.0 L711.4 277.0 L712.5 275.0 L712.2 273.0 L712.8 271.0 L712.4 269.0 L713.0 267.0 L712.8 265.0 L712.4 263.0 L712.1 261.0 L712.5 259.0 L712.9 257.0 L713.3 255.0 L713.4 253.0 L713.2 251.0 L712.9 249.0 L713.3 247.0 L713.5 245.0 L713.5 243.0 L713.7 241.0 L713.8 239.0 L714.1 237.0 L713.9 235.0 L714.0 233.0 L714.1 231.0 L714.3 229.0 L714.5 227.0 L715.7 225.0 L715.5 223.0 L716.7 221.0 L716.1 219.0 L716.2 217.0 L715.3 215.0 L715.4 213.0 L715.3 211.0 L715.6 209.0 L716.1 207.0 L716.1 205.0 L716.0 203.0 L715.2 201.0 L716.3 199.0 L716.7 197.0 L717.5 195.0 L717.2 193.0 L717.7 191.0 L718.0 189.0 L718.4 187.0 L718.2 185.0 L718.2 183.0 L718.0 181.0 L717.6 179.0 L718.1 177.0 L717.8 175.0 L718.2 173.0 L718.2 171.0 L718.8 169.0 L719.5 167.0 L720.0 165.0 L720.7 163.0 L721.0 161.0 L720.5 159.0 L720.7 157.0 L720.1 155.0 L720.3 153.0 L720.1 151.0 L720.5 149.0 L720.6 147.0 L720.3 145.0 L720.9 143.0 L720.3 141.0 L721.0 139.0 L721.1 137.0 L722.1 135.0 L722.1 133.0 L721.6 131.0 L722.2 129.0 L723.2 127.0 L723.4 125.0 L723.7 123.0 L723.0 121.0 L723.4 119.0 L723.0 117.0 L723.2 115.0 L723.1 113.0 L723.0 111.0 L723.8 109.0 L724.4 107.0 L725.2 105.0 L725.0 103.0 L725.4 101.0 L725.0 99.0 L724.8 97.0 L725.1 95.0 L726.0 93.0 L726.2 91.0 L726.1 89.0 L725.8 87.0 L726.7 85.0 L727.4 83.0 L728.1 81.0 L728.1 79.0 L728.5 77.0 L728.9 75.0 L729.3 73.0 L729.8 71.0 L730.0 69.0 L731.0 67.0 L731.6 65.0 L732.1 63.0 L732.5 61.0 L732.8 59.0 L733.4 57.0 L733.6 55.0 L733.8 53.0 L734.7 51.0 L735.9 49.0 L737.3 47.0 L737.9 46.1 L747.0 46.1" stroke="#1414c0" stroke-width="1.5" fill="none"/>
<path d="M683.0 373.0 L715.3 371.0 L722.3 369.0 L726.7 367.0 L729.9 365.0 L732.2 363.0 L733.4 361.0 L734.5 359.0 L734.9 357.0 L736.5 355.0 L737.7 353.0 L739.3 351.0 L740.0 349.0 L740.9 347.0 L741.8 345.0 L742.4 343.0 L742.6 341.0 L742.8 339.0 L743.4 337.0 L743.8 335.0 L744.2 333.0 L743.8 331.0 L744.2 329.0 L744.5 327.0 L745.5 325.0 L745.5 323.0 L745.3 321.0 L745.3 319.0 L745.3 317.0 L745.1 315.0 L745.0 313.0 L745.2 311.0 L745.7 309.0 L745.8 307.0 L746.0 305.0 L746.2 303.0 L746.7 301.0 L747.0 299.0 L747.4 297.0 L747.8 295.0 L748.1 293.0 L748.4 291.0 L747.9 289.0 L747.1 287.0 L747.0 285.0 L747.7 283.0 L748.7 281.0 L748.8 279.0 L748.4 277.0 L748.9 275.0 L749.1 273.0 L749.7 271.0 L749.9 269.0 L750.4 267.0 L751.2 265.0 L751.0 263.0 L751.3 261.0 L751.0 259.0 L751.0 257.0 L750.8 255.0 L750.6 253.0 L750.6 251.0 L750.9 249.0 L751.0 247.0 L752.0 245.0 L751.8 243.0 L752.0 241.0 L751.7 239.0 L751.9 237.0 L752.2 235.0 L752.2 233.0 L752.0 231.0 L751.4 229.0 L751.3 227.0 L752.4 225.0 L753.4 223.0 L754.0 221.0 L753.5 219.0 L753.5 217.0 L753.7 215.0 L753.5 213.0 L753.4 211.0 L753.2 209.0 L754.2 207.0 L754.2 205.0 L755.0 203.0 L754.6 201.0 L755.9 199.0 L755.7 197.0 L756.0 195.0 L755.7 193.0 L756.1 191.0 L756.6 189.0 L755.9 187.0 L756.2 185.0 L756.5 183.0 L757.0 181.0 L756.6 179.0 L755.9 177.0 L756.4 175.0 L756.8 173.0 L757.2 171.0 L756.7 169.0 L757.2 167.0 L757.6 165.0 L758.2 163.0 L758.3 161.0 L757.8 159.0 L758.2 157.0 L757.6 155.0 L758.5 153.0 L758.3 151.0 L759.1 149.0 L758.7 147.0 L759.0 145.0 L759.1 143.0 L759.1 141.0 L759.2 139.0 L758.8 137.0 L759.5 135.0 L759.4 133.0 L759.8 131.0 L759.6 129.0 L760.4 127.0 L760.3 125.0 L760.6 123.0 L760.3 121.0 L760.6 119.0 L760.6 117.0 L760.8 115.0 L761.2 113.0 L761.1 111.0 L761.4 109.0 L761.2 107.0 L761.9 105.0 L762.7 103.0 L762.9 101.0 L763.1 99.0 L762.5 97.0 L763.3 95.0 L763.3 93.0 L763.0 91.0 L762.4 89.0 L762.9 87.0 L763.8 85.0 L764.9 83.0 L765.0 81.0 L765.4 79.0 L765.1 77.0 L766.0 75.0 L766.1 73.0 L766.6 71.0 L766.6 69.0 L767.6 67.0 L768.0 65.0 L768.0 63.0 L767.6 61.0 L768.0 59.0 L768.9 57.0 L770.0 55.0 L770.9 53.0 L771.6 51.0 L772.5 49.0 L773.4 47.0 L774.0 46.1 L784.5 46.1" stroke="#1414c0" stroke-width="1.5" fill="none"/>
<path d="M587.5 373.0 L659.4 371.0 L681.9 369.0 L689.9 367.0 L692.6 365.0 L694.9 363.0 L696.1 361.0 L696.8 359.0 L697.5 357.0 L698.8 355.0 L700.3 353.0 L700.9 351.0 L701.0 349.0 L701.7 347.0 L702.0 345.0 L703.0 343.0 L703.5 341.0 L704.1 339.0 L705.5 337.0 L705.6 335.0 L706.4 333.0 L705.7 331.0 L706.6 329.0 L706.8 327.0 L707.0 325.0 L706.9 323.0 L706.5 321.0 L706.8 319.0 L706.7 317.0 L707.5 315.0 L707.6 313.0 L708.3 311.0 L708.9 309.0 L709.2 307.0 L709.1 305.0 L708.6 303.0 L709.0 301.0 L709.5 299.0 L710.0 297.0 L710.3 295.0 L710.3 293.0 L710.1 291.0 L710.7 289.0 L710.6 287.0 L711.5 285.0 L711.1 283.0 L711.4 281.0 L711.6 279.0 L711.9 277.0 L712.0 275.0 L711.5 273.0 L711.8 271.0 L712.7 269.0 L713.2 267.0 L713.0 265.0 L712.2 263.0 L712.0 261.0 L712.2 259.0 L712.8 257.0 L712.9 255.0 L713.5 253.0 L713.3 251.0 L713.4 249.0 L713.3 247.0 L713.9 245.0 L714.1 243.0 L714.4 241.0 L714.0 239.0 L714.7 237.0 L715.3 235.0 L716.5 233.0 L716.1 231.0 L716.2 229.0 L715.8 227.0 L716.3 225.0 L715.7 223.0 L715.9 221.0 L715.8 219.0 L715.5 217.0 L715.5 215.0 L716.0 213.0 L715.8 211.0 L716.1 209.0 L716.0 207.0 L717.1 205.0 L717.2 203.0 L717.5 201.0 L717.6 199.0 L717.1 197.0 L716.5 195.0 L716.5 193.0 L717.2 191.0 L717.5 189.0 L717.6 187.0 L718.2 185.0 L717.5 183.0 L718.0 181.0 L717.9 179.0 L719.1 177.0 L718.8 175.0 L718.6 173.0 L718.7 171.0 L718.8 169.0 L718.7 167.0 L718.9 165.0 L718.6 163.0 L719.0 161.0 L718.7 159.0 L718.7 157.0 L719.0 155.0 L719.2 153.0 L719.2 151.0 L719.1 149.0 L718.8 147.0 L719.7 145.0 L720.0 143.0 L721.1 141.0 L720.6 139.0 L720.9 137.0 L720.1 135.0 L720.2 133.0 L720.1 131.0 L720.7 129.0 L721.5 127.0 L721.6 125.0 L722.0 123.0 L722.2 121.0 L722.1 119.0 L721.9 117.0 L721.5 115.0 L722.5 113.0 L722.5 111.0 L723.3 109.0 L723.2 107.0 L723.5 105.0 L723.2 103.0 L723.2 101.0 L723.2 99.0 L723.1 97.0 L722.9 95.0 L723.4 93.0 L724.1 91.0 L725.1 89.0 L724.8 87.0 L725.2 85.0 L724.6 83.0 L725.9 81.0 L726.3 79.0 L727.0 77.0 L727.5 75.0 L727.5 73.0 L727.7 71.0 L727.3 69.0 L727.6 67.0 L728.2 65.0 L729.2 63.0 L730.2 61.0 L730.6 59.0 L730.7 57.0 L730.8 55.0 L731.4 53.0 L732.1 51.0 L732.9 49.0 L734.0 47.0 L734.6 46.1 L747.0 46.1" stroke="#16dc16" stroke-width="1.5" fill="none"/>
<path d="M680.5 373.0 L712.8 371.0 L719.5 369.0 L723.8 367.0 L726.9 365.0 L729.5 363.0 L730.7 361.0 L731.6 359.0 L732.3 357.0 L733.5 355.0 L735.0 353.0 L736.0 351.0 L736.5 349.0 L737.6 347.0 L738.0 345.0 L739.0 343.0 L739.2 341.0 L740.4 339.0 L741.4 337.0 L741.7 335.0 L741.6 333.0 L741.1 331.0 L741.3 329.0 L741.6 327.0 L742.6 325.0 L742.6 323.0 L742.8 321.0 L742.0 319.0 L742.6 317.0 L742.7 315.0 L743.3 313.0 L743.1 311.0 L744.1 309.0 L744.2 307.0 L744.2 305.0 L743.9 303.0 L743.9 301.0 L744.3 299.0 L744.4 297.0 L744.6 295.0 L745.4 293.0 L745.3 291.0 L745.9 289.0 L745.9 287.0 L746.3 285.0 L746.3 283.0 L746.3 281.0 L746.2 279.0 L746.5 277.0 L746.9 275.0 L747.1 273.0 L747.8 271.0 L748.3 269.0 L748.2 267.0 L748.0 265.0 L747.6 263.0 L748.2 261.0 L747.8 259.0 L748.5 257.0 L748.3 255.0 L748.7 253.0 L748.1 251.0 L749.1 249.0 L749.7 247.0 L749.7 245.0 L749.1 243.0 L749.0 241.0 L749.4 239.0 L749.6 237.0 L749.3 235.0 L749.6 233.0 L749.5 231.0 L750.3 229.0 L751.1 227.0 L751.4 225.0 L751.8 223.0 L751.3 221.0 L751.4 219.0 L750.9 217.0 L750.6 215.0 L751.0 213.0 L751.5 211.0 L752.2 209.0 L752.2 207.0 L751.8 205.0 L751.7 203.0 L752.4 201.0 L753.0 199.0 L753.2 197.0 L752.2 195.0 L752.1 193.0 L752.5 191.0 L753.0 189.0 L753.7 187.0 L753.5 185.0 L753.7 183.0 L753.2 181.0 L753.5 179.0 L754.2 177.0 L754.4 175.0 L754.0 173.0 L753.9 171.0 L754.3 169.0 L755.5 167.0 L755.4 165.0 L755.8 163.0 L755.7 161.0 L756.3 159.0 L755.8 157.0 L755.5 155.0 L755.2 153.0 L755.9 151.0 L756.4 149.0 L757.1 147.0 L757.6 145.0 L757.7 143.0 L757.5 141.0 L757.7 139.0 L757.5 137.0 L757.5 135.0 L757.0 133.0 L757.5 131.0 L757.9 129.0 L757.9 127.0 L758.6 125.0 L758.3 123.0 L758.5 121.0 L757.9 119.0 L758.0 117.0 L758.7 115.0 L759.6 113.0 L760.1 111.0 L760.4 109.0 L760.6 107.0 L760.7 105.0 L760.6 103.0 L760.7 101.0 L761.7 99.0 L761.8 97.0 L762.0 95.0 L761.7 93.0 L762.4 91.0 L762.7 89.0 L763.1 87.0 L762.7 85.0 L762.8 83.0 L762.1 81.0 L762.8 79.0 L763.9 77.0 L764.9 75.0 L765.3 73.0 L765.0 71.0 L765.4 69.0 L765.3 67.0 L765.4 65.0 L765.7 63.0 L766.6 61.0 L767.0 59.0 L767.6 57.0 L767.9 55.0 L768.4 53.0 L769.1 51.0 L770.1 49.0 L771.4 47.0 L772.0 46.1 L784.5 46.1" stroke="#16dc16" stroke-width="1.5" fill="none"/>
<path d="M589.0 373.0 L661.1 371.0 L683.7 369.0 L691.2 367.0 L693.7 365.0 L696.1 363.0 L698.3 361.0 L699.8 359.0 L700.1 357.0 L700.6 355.0 L701.5 353.0 L702.3 351.0 L703.1 349.0 L703.4 347.0 L704.1 345.0 L704.6 343.0 L705.8 341.0 L705.9 339.0 L706.6 337.0 L706.5 335.0 L706.9 333.0 L706.8 331.0 L707.1 329.0 L707.4 327.0 L707.7 325.0 L707.7 323.0 L707.5 321.0 L707.8 319.0 L708.2 317.0 L709.5 315.0 L709.6 313.0 L709.2 311.0 L709.3 309.0 L709.2 307.0 L710.3 305.0 L710.8 303.0 L711.6 301.0 L711.3 299.0 L710.8 297.0 L710.2 295.0 L711.0 293.0 L711.4 291.0 L711.8 289.0 L711.8 287.0 L712.1 285.0 L712.8 283.0 L712.6 281.0 L712.2 279.0 L711.7 277.0 L711.7 275.0 L712.1 273.0 L712.6 271.0 L713.5 269.0 L713.6 267.0 L713.6 265.0 L712.9 263.0 L713.4 261.0 L713.7 259.0 L714.3 257.0 L713.6 255.0 L713.4 253.0 L713.7 251.0 L713.9 249.0 L714.5 247.0 L714.6 245.0 L714.9 243.0 L714.4 241.0 L714.4 239.0 L715.1 237.0 L715.5 235.0 L715.1 233.0 L715.1 231.0 L715.6 229.0 L715.9 227.0 L716.1 225.0 L716.1 223.0 L716.5 221.0 L716.2 219.0 L716.1 217.0 L716.2 215.0 L716.2 213.0 L716.0 211.0 L715.9 209.0 L716.7 207.0 L717.8 205.0 L718.8 203.0 L718.8 201.0 L719.2 199.0 L718.7 197.0 L718.5 195.0 L718.3 193.0 L718.1 191.0 L718.6 189.0 L718.4 187.0 L718.9 185.0 L718.6 183.0 L718.8 181.0 L719.1 179.0 L719.5 177.0 L719.4 175.0 L719.3 173.0 L719.8 171.0 L720.1 169.0 L719.8 167.0 L719.1 165.0 L718.9 163.0 L719.7 161.0 L720.3 159.0 L721.0 157.0 L721.1 155.0 L721.3 153.0 L721.5 151.0 L721.1 149.0 L720.7 147.0 L720.8 145.0 L721.1 143.0 L721.9 141.0 L721.5 139.0 L721.7 137.0 L722.4 135.0 L722.6 133.0 L722.9 131.0 L722.9 129.0 L723.3 127.0 L723.5 125.0 L722.7 123.0 L723.2 121.0 L723.2 119.0 L724.4 117.0 L724.4 115.0 L724.6 113.0 L724.6 111.0 L724.7 109.0 L724.9 107.0 L725.4 105.0 L726.0 103.0 L726.4 101.0 L726.4 99.0 L726.5 97.0 L726.9 95.0 L726.9 93.0 L726.8 91.0 L727.1 89.0 L727.6 87.0 L728.0 85.0 L728.1 83.0 L728.3 81.0 L728.7 79.0 L729.0 77.0 L729.4 75.0 L729.9 73.0 L730.8 71.0 L731.2 69.0 L731.4 67.0 L731.7 65.0 L732.6 63.0 L733.0 61.0 L733.3 59.0 L733.2 57.0 L734.1 55.0 L735.4 53.0 L736.3 51.0 L737.0 49.0 L738.2 47.0 L738.9 46.1 L747.0 46.1" stroke="#eea020" stroke-width="1.5" fill="none"/>
<path d="M684.5 373.0 L716.8 371.0 L723.6 369.0 L727.9 367.0 L730.8 365.0 L733.0 363.0 L734.2 361.0 L736.1 359.0 L738.1 357.0 L739.8 355.0 L740.5 353.0 L740.8 351.0 L741.4 349.0 L742.6 347.0 L742.8 345.0 L743.2 343.0 L743.4 341.0 L744.6 339.0 L745.0 337.0 L745.3 335.0 L745.9 333.0 L745.8 331.0 L746.9 329.0 L746.4 327.0 L746.7 325.0 L746.7 323.0 L746.8 321.0 L746.9 319.0 L747.0 317.0 L747.3 315.0 L747.8 313.0 L747.2 311.0 L747.9 309.0 L748.3 307.0 L749.0 305.0 L748.8 303.0 L748.6 301.0 L748.5 299.0 L748.0 297.0 L748.5 295.0 L749.2 293.0 L750.2 291.0 L750.5 289.0 L750.5 287.0 L750.1 285.0 L749.6 283.0 L749.8 281.0 L750.2 279.0 L751.1 277.0 L751.0 275.0 L750.8 273.0 L750.8 271.0 L750.9 269.0 L750.8 267.0 L750.7 265.0 L750.7 263.0 L751.0 261.0 L751.2 259.0 L751.9 257.0 L753.1 255.0 L754.0 253.0 L753.7 251.0 L753.5 249.0 L753.2 247.0 L753.6 245.0 L753.2 243.0 L753.3 241.0 L752.9 239.0 L753.7 237.0 L753.7 235.0 L754.5 233.0 L753.9 231.0 L754.4 229.0 L754.0 227.0 L754.2 225.0 L754.5 223.0 L755.2 221.0 L754.9 219.0 L755.0 217.0 L754.6 215.0 L755.4 213.0 L755.4 211.0 L755.7 209.0 L755.6 207.0 L755.5 205.0 L756.0 203.0 L756.4 201.0 L757.0 199.0 L757.1 197.0 L757.5 195.0 L757.0 193.0 L757.5 191.0 L756.9 189.0 L757.6 187.0 L757.1 185.0 L757.3 183.0 L756.9 181.0 L757.2 179.0 L757.9 177.0 L758.3 175.0 L758.3 173.0 L757.8 171.0 L758.1 169.0 L758.2 167.0 L758.3 165.0 L758.2 163.0 L758.8 161.0 L759.2 159.0 L758.9 157.0 L758.5 155.0 L758.3 153.0 L759.0 151.0 L759.6 149.0 L759.6 147.0 L760.1 145.0 L759.9 143.0 L760.5 141.0 L760.4 139.0 L761.1 137.0 L760.9 135.0 L760.8 133.0 L760.0 131.0 L759.5 129.0 L759.3 127.0 L760.1 125.0 L761.2 123.0 L761.5 121.0 L761.7 119.0 L761.7 117.0 L762.4 115.0 L761.7 113.0 L761.4 111.0 L760.8 109.0 L761.2 107.0 L762.1 105.0 L762.2 103.0 L762.4 101.0 L762.0 99.0 L762.7 97.0 L762.9 95.0 L763.4 93.0 L763.5 91.0 L763.6 89.0 L762.9 87.0 L762.7 85.0 L762.8 83.0 L764.3 81.0 L764.6 79.0 L765.0 77.0 L764.9 75.0 L765.5 73.0 L765.9 71.0 L766.5 69.0 L767.2 67.0 L768.0 65.0 L767.9 63.0 L767.8 61.0 L767.7 59.0 L768.6 57.0 L769.7 55.0 L770.6 53.0 L771.3 51.0 L772.5 49.0 L773.4 47.0 L774.0 46.1 L784.5 46.1" stroke="#eea020" stroke-width="1.5" fill="none"/>
<path d="M586.0 373.0 L657.9 371.0 L680.6 369.0 L688.5 367.0 L691.2 365.0 L693.6 363.0 L695.1 361.0 L696.7 359.0 L697.3 357.0 L697.4 355.0 L698.3 353.0 L698.5 351.0 L700.1 349.0 L700.5 347.0 L701.3 345.0 L701.7 343.0 L702.6 341.0 L703.2 339.0 L703.4 337.0 L703.2 335.0 L703.5 333.0 L703.5 331.0 L704.4 329.0 L705.1 327.0 L705.6 325.0 L705.4 323.0 L705.5 321.0 L705.8 319.0 L706.2 317.0 L705.8 315.0 L706.3 313.0 L706.2 311.0 L706.2 309.0 L706.4 307.0 L706.6 305.0 L707.5 303.0 L707.6 301.0 L708.0 299.0 L708.4 297.0 L708.6 295.0 L709.0 293.0 L708.8 291.0 L709.0 289.0 L708.9 287.0 L709.4 285.0 L710.0 283.0 L710.8 281.0 L711.0 279.0 L710.4 277.0 L710.5 275.0 L710.8 273.0 L712.0 271.0 L711.2 269.0 L711.1 267.0 L710.5 265.0 L711.6 263.0 L711.5 261.0 L711.6 259.0 L712.1 257.0 L712.9 255.0 L712.6 253.0 L712.0 251.0 L712.3 249.0 L712.8 247.0 L713.2 245.0 L712.9 243.0 L712.8 241.0 L712.6 239.0 L713.1 237.0 L714.0 235.0 L714.2 233.0 L714.3 231.0 L713.9 229.0 L714.3 227.0 L714.1 225.0 L714.1 223.0 L714.3 221.0 L714.3 219.0 L714.0 217.0 L713.8 215.0 L713.9 213.0 L714.6 211.0 L714.7 209.0 L714.8 207.0 L714.5 205.0 L715.2 203.0 L715.6 201.0 L716.5 199.0 L716.3 197.0 L716.4 195.0 L716.4 193.0 L716.2 191.0 L715.9 189.0 L716.1 187.0 L716.8 185.0 L717.4 183.0 L717.9 181.0 L717.3 179.0 L717.3 177.0 L716.7 175.0 L717.5 173.0 L718.2 171.0 L718.4 169.0 L718.3 167.0 L717.8 165.0 L717.7 163.0 L717.6 161.0 L717.4 159.0 L718.3 157.0 L718.6 155.0 L719.3 153.0 L719.1 151.0 L718.2 149.0 L718.2 147.0 L718.2 145.0 L718.3 143.0 L718.2 141.0 L718.6 139.0 L720.0 137.0 L719.8 135.0 L719.9 133.0 L719.7 131.0 L720.1 129.0 L720.0 127.0 L720.2 125.0 L720.6 123.0 L721.0 121.0 L720.9 119.0 L720.5 117.0 L720.9 115.0 L721.6 113.0 L722.0 111.0 L721.7 109.0 L721.8 107.0 L721.6 105.0 L721.9 103.0 L722.5 101.0 L723.3 99.0 L723.1 97.0 L723.2 95.0 L723.3 93.0 L723.7 91.0 L723.2 89.0 L723.6 87.0 L723.3 85.0 L723.3 83.0 L723.2 81.0 L724.3 79.0 L725.0 77.0 L726.1 75.0 L725.6 73.0 L725.7 71.0 L726.2 69.0 L726.9 67.0 L726.9 65.0 L726.6 63.0 L727.1 61.0 L728.1 59.0 L729.2 57.0 L730.2 55.0 L731.0 53.0 L731.1 51.0 L731.2 49.0 L731.9 47.0 L732.4 46.1 L747.0 46.1" stroke="#7028b0" stroke-width="1.5" fill="none"/>
<path d="M682.0 373.0 L714.4 371.0 L721.4 369.0 L725.6 367.0 L728.5 365.0 L730.7 363.0 L732.4 361.0 L733.3 359.0 L734.5 357.0 L735.7 355.0 L737.6 353.0 L738.4 351.0 L739.4 349.0 L739.8 347.0 L740.7 345.0 L741.5 343.0 L742.7 341.0 L743.0 339.0 L743.1 337.0 L743.1 335.0 L742.7 333.0 L742.1 331.0 L741.9 329.0 L742.7 327.0 L743.7 325.0 L744.2 323.0 L744.3 321.0 L744.7 319.0 L744.8 317.0 L744.4 315.0 L743.6 313.0 L743.8 311.0 L744.7 309.0 L745.6 307.0 L745.9 305.0 L746.1 303.0 L746.1 301.0 L746.1 299.0 L746.0 297.0 L746.4 295.0 L747.1 293.0 L747.1 291.0 L746.7 289.0 L746.6 287.0 L747.8 285.0 L747.9 283.0 L747.6 281.0 L747.3 279.0 L747.9 277.0 L748.3 275.0 L748.3 273.0 L748.5 271.0 L748.3 269.0 L748.4 267.0 L748.6 265.0 L749.6 263.0 L750.1 261.0 L750.1 259.0 L749.5 257.0 L749.7 255.0 L750.2 253.0 L750.6 251.0 L750.6 249.0 L750.9 247.0 L751.2 245.0 L750.3 243.0 L750.0 241.0 L750.0 239.0 L750.6 237.0 L750.8 235.0 L750.9 233.0 L751.4 231.0 L752.1 229.0 L752.2 227.0 L752.6 225.0 L752.0 223.0 L752.7 221.0 L752.4 219.0 L753.1 217.0 L752.9 215.0 L753.3 213.0 L752.8 211.0 L753.2 209.0 L753.2 207.0 L753.9 205.0 L753.5 203.0 L753.3 201.0 L753.5 199.0 L754.3 197.0 L755.3 195.0 L754.8 193.0 L754.9 191.0 L754.7 189.0 L755.7 187.0 L755.8 185.0 L755.7 183.0 L755.5 181.0 L755.7 179.0 L755.7 177.0 L755.9 175.0 L755.5 173.0 L755.6 171.0 L755.9 169.0 L756.5 167.0 L756.9 165.0 L756.7 163.0 L757.4 161.0 L757.8 159.0 L757.6 157.0 L757.2 155.0 L757.5 153.0 L758.0 151.0 L758.1 149.0 L758.2 147.0 L758.8 145.0 L759.8 143.0 L759.3 141.0 L759.0 139.0 L758.3 137.0 L758.9 135.0 L759.2 133.0 L759.9 131.0 L759.2 129.0 L759.9 127.0 L759.5 125.0 L760.5 123.0 L760.6 121.0 L761.0 119.0 L761.0 117.0 L761.5 115.0 L761.8 113.0 L762.1 111.0 L762.0 109.0 L761.7 107.0 L761.6 105.0 L761.7 103.0 L762.3 101.0 L762.9 99.0 L763.0 97.0 L762.7 95.0 L762.3 93.0 L763.2 91.0 L764.0 89.0 L764.6 87.0 L764.7 85.0 L765.1 83.0 L765.5 81.0 L765.3 79.0 L765.8 77.0 L766.4 75.0 L767.5 73.0 L767.7 71.0 L767.8 69.0 L767.6 67.0 L767.7 65.0 L768.4 63.0 L769.1 61.0 L770.1 59.0 L770.8 57.0 L771.0 55.0 L771.5 53.0 L772.0 51.0 L773.2 49.0 L774.3 47.0 L775.0 46.1 L784.5 46.1" stroke="#7028b0" stroke-width="1.5" fill="none"/>
<path d="M588.5 373.0 L660.4 371.0 L683.0 369.0 L691.1 367.0 L693.8 365.0 L695.7 363.0 L696.8 361.0 L698.2 359.0 L699.6 357.0 L700.6 355.0 L701.8 353.0 L702.7 351.0 L703.4 349.0 L703.8 347.0 L703.8 345.0 L704.4 343.0 L704.5 341.0 L705.4 339.0 L706.2 337.0 L706.6 335.0 L707.2 333.0 L706.7 331.0 L707.5 329.0 L706.8 327.0 L707.1 325.0 L707.2 323.0 L707.9 321.0 L708.5 319.0 L708.4 317.0 L708.7 315.0 L708.9 313.0 L708.8 311.0 L708.9 309.0 L709.3 307.0 L709.6 305.0 L710.0 303.0 L710.8 301.0 L710.8 299.0 L710.7 297.0 L710.4 295.0 L711.1 293.0 L711.6 291.0 L711.6 289.0 L711.7 287.0 L711.9 285.0 L712.2 283.0 L712.8 281.0 L713.0 279.0 L712.7 277.0 L712.0 275.0 L712.2 273.0 L712.7 271.0 L713.2 269.0 L712.7 267.0 L712.9 265.0 L713.2 263.0 L713.5 261.0 L713.7 259.0 L714.1 257.0 L714.7 255.0 L715.1 253.0 L714.9 251.0 L714.4 249.0 L714.7 247.0 L715.3 245.0 L716.2 243.0 L716.5 241.0 L716.3 239.0 L716.2 237.0 L716.0 235.0 L716.4 233.0 L716.3 231.0 L717.1 229.0 L717.1 227.0 L717.3 225.0 L716.8 223.0 L716.2 221.0 L716.2 219.0 L716.3 217.0 L717.7 215.0 L717.8 213.0 L718.3 211.0 L717.7 209.0 L718.0 207.0 L718.0 205.0 L717.5 203.0 L718.0 201.0 L718.6 199.0 L719.4 197.0 L719.2 195.0 L718.8 193.0 L719.0 191.0 L719.0 189.0 L719.1 187.0 L719.1 185.0 L719.2 183.0 L719.4 181.0 L719.4 179.0 L719.8 177.0 L719.5 175.0 L719.3 173.0 L719.1 171.0 L719.8 169.0 L720.2 167.0 L719.9 165.0 L719.2 163.0 L719.8 161.0 L720.5 159.0 L720.6 157.0 L719.8 155.0 L719.8 153.0 L720.7 151.0 L721.6 149.0 L721.5 147.0 L721.1 145.0 L721.3 143.0 L721.2 141.0 L721.8 139.0 L721.5 137.0 L722.0 135.0 L722.1 133.0 L722.3 131.0 L722.2 129.0 L721.5 127.0 L721.5 125.0 L722.1 123.0 L723.1 121.0 L722.5 119.0 L722.9 117.0 L722.9 115.0 L724.3 113.0 L724.3 111.0 L724.3 109.0 L724.2 107.0 L724.2 105.0 L724.1 103.0 L724.1 101.0 L724.2 99.0 L724.4 97.0 L724.2 95.0 L723.9 93.0 L724.3 91.0 L725.2 89.0 L725.9 87.0 L725.8 85.0 L726.2 83.0 L726.3 81.0 L726.4 79.0 L727.0 77.0 L727.0 75.0 L728.6 73.0 L728.7 71.0 L729.4 69.0 L728.4 67.0 L728.5 65.0 L729.5 63.0 L731.1 61.0 L731.8 59.0 L731.4 57.0 L731.4 55.0 L731.9 53.0 L733.1 51.0 L733.9 49.0 L734.9 47.0 L735.4 46.1 L747.0 46.1" stroke="#000000" stroke-width="1.5" fill="none"/>
<path d="M683.0 373.0 L715.3 371.0 L722.1 369.0 L726.6 367.0 L729.8 365.0 L732.5 363.0 L733.4 361.0 L734.5 359.0 L735.2 357.0 L737.0 355.0 L737.9 353.0 L739.5 351.0 L740.5 349.0 L741.4 347.0 L742.2 345.0 L742.9 343.0 L743.3 341.0 L743.0 339.0 L743.6 337.0 L743.8 335.0 L744.4 333.0 L743.9 331.0 L744.0 329.0 L743.6 327.0 L743.8 325.0 L744.1 323.0 L745.1 321.0 L745.2 319.0 L745.0 317.0 L744.6 315.0 L744.9 313.0 L745.6 311.0 L746.4 309.0 L746.5 307.0 L746.8 305.0 L746.8 303.0 L747.6 301.0 L747.6 299.0 L747.8 297.0 L747.7 295.0 L748.3 293.0 L748.2 291.0 L748.0 289.0 L747.7 287.0 L747.5 285.0 L748.2 283.0 L748.8 281.0 L749.6 279.0 L750.4 277.0 L750.6 275.0 L751.4 273.0 L751.0 271.0 L751.0 269.0 L750.2 267.0 L750.3 265.0 L750.3 263.0 L750.5 261.0 L750.3 259.0 L750.5 257.0 L751.3 255.0 L751.5 253.0 L751.3 251.0 L751.4 249.0 L751.3 247.0 L751.6 245.0 L751.7 243.0 L751.7 241.0 L752.0 239.0 L751.3 237.0 L751.6 235.0 L751.2 233.0 L752.0 231.0 L752.6 229.0 L753.1 227.0 L753.5 225.0 L753.5 223.0 L753.6 221.0 L753.6 219.0 L753.6 217.0 L753.9 215.0 L754.2 213.0 L754.2 211.0 L754.7 209.0 L754.1 207.0 L754.4 205.0 L753.6 203.0 L753.9 201.0 L754.6 199.0 L755.3 197.0 L756.0 195.0 L755.2 193.0 L754.9 191.0 L754.7 189.0 L755.6 187.0 L756.2 185.0 L755.7 183.0 L755.7 181.0 L755.6 179.0 L756.2 177.0 L756.3 175.0 L756.4 173.0 L756.0 171.0 L755.6 169.0 L755.4 167.0 L755.6 165.0 L756.0 163.0 L757.0 161.0 L757.3 159.0 L757.2 157.0 L756.6 155.0 L756.4 153.0 L756.8 151.0 L757.1 149.0 L757.6 147.0 L757.5 145.0 L757.9 143.0 L757.7 141.0 L758.3 139.0 L758.1 137.0 L758.9 135.0 L758.6 133.0 L759.1 131.0 L759.1 129.0 L759.5 127.0 L760.1 125.0 L760.1 123.0 L760.0 121.0 L759.9 119.0 L759.8 117.0 L760.0 115.0 L760.0 113.0 L760.5 111.0 L761.3 109.0 L760.9 107.0 L760.9 105.0 L760.9 103.0 L761.6 101.0 L761.9 99.0 L762.2 97.0 L762.0 95.0 L762.1 93.0 L762.0 91.0 L762.4 89.0 L762.1 87.0 L761.8 85.0 L762.3 83.0 L763.2 81.0 L764.3 79.0 L764.9 77.0 L764.7 75.0 L764.8 73.0 L764.9 71.0 L766.2 69.0 L766.2 67.0 L766.1 65.0 L766.1 63.0 L767.0 61.0 L767.8 59.0 L768.8 57.0 L769.1 55.0 L769.2 53.0 L769.1 51.0 L770.0 49.0 L770.9 47.0 L771.5 46.1 L784.5 46.1" stroke="#000000" stroke-width="1.5" fill="none"/>
<path d="M588.5 373.0 L660.4 371.0 L683.0 369.0 L690.8 367.0 L694.0 365.0 L696.2 363.0 L697.7 361.0 L698.3 359.0 L699.4 357.0 L700.2 355.0 L700.9 353.0 L700.8 351.0 L701.9 349.0 L703.0 347.0 L704.6 345.0 L704.7 343.0 L705.9 341.0 L706.2 339.0 L706.7 337.0 L706.1 335.0 L706.0 333.0 L706.0 331.0 L706.6 329.0 L706.7 327.0 L707.1 325.0 L707.2 323.0 L707.7 321.0 L708.0 319.0 L708.0 317.0 L708.0 315.0 L708.9 313.0 L709.5 311.0 L709.6 309.0 L709.5 307.0 L709.8 305.0 L710.2 303.0 L711.0 301.0 L710.9 299.0 L711.5 297.0 L710.5 295.0 L710.9 293.0 L711.0 291.0 L712.0 289.0 L712.0 287.0 L712.2 285.0 L712.0 283.0 L712.3 281.0 L712.3 279.0 L712.3 277.0 L711.8 275.0 L712.0 273.0 L712.6 271.0 L712.3 269.0 L711.8 267.0 L712.1 265.0 L712.9 263.0 L714.6 261.0 L713.9 259.0 L714.0 257.0 L713.1 255.0 L713.9 253.0 L714.5 251.0 L715.3 249.0 L715.0 247.0 L715.1 245.0 L714.3 243.0 L714.9 241.0 L714.7 239.0 L715.4 237.0 L715.2 235.0 L715.7 233.0 L715.6 231.0 L716.0 229.0 L715.6 227.0 L715.5 225.0 L715.8 223.0 L716.1 221.0 L716.7 219.0 L717.2 217.0 L717.0 215.0 L716.9 213.0 L716.5 211.0 L717.1 209.0 L717.3 207.0 L717.7 205.0 L717.7 203.0 L717.4 201.0 L717.0 199.0 L716.4 197.0 L717.0 195.0 L717.2 193.0 L718.2 191.0 L718.4 189.0 L718.6 187.0 L718.9 185.0 L719.1 183.0 L718.9 181.0 L718.4 179.0 L718.4 177.0 L719.4 175.0 L719.6 173.0 L719.6 171.0 L719.2 169.0 L719.6 167.0 L719.7 165.0 L719.9 163.0 L719.6 161.0 L719.5 159.0 L719.3 157.0 L719.7 155.0 L719.8 153.0 L720.3 151.0 L720.3 149.0 L720.9 147.0 L720.0 145.0 L719.7 143.0 L719.1 141.0 L720.0 139.0 L720.7 137.0 L722.1 135.0 L722.7 133.0 L723.1 131.0 L722.6 129.0 L722.2 127.0 L722.1 125.0 L721.5 123.0 L722.1 121.0 L722.1 119.0 L723.1 117.0 L722.7 115.0 L722.6 113.0 L722.4 111.0 L722.8 109.0 L723.4 107.0 L723.7 105.0 L724.0 103.0 L724.3 101.0 L724.2 99.0 L724.3 97.0 L723.7 95.0 L724.1 93.0 L724.6 91.0 L725.1 89.0 L726.1 87.0 L726.3 85.0 L727.1 83.0 L726.9 81.0 L727.4 79.0 L727.8 77.0 L728.2 75.0 L728.1 73.0 L728.0 71.0 L729.0 69.0 L729.5 67.0 L729.9 65.0 L729.6 63.0 L729.5 61.0 L730.0 59.0 L730.9 57.0 L731.8 55.0 L732.3 53.0 L733.0 51.0 L733.9 49.0 L734.8 47.0 L735.4 46.1 L747.0 46.1" stroke="#a80c10" stroke-width="1.5" fill="none" stroke-dasharray="5 5.3"/>
<path d="M680.0 373.0 L712.3 371.0 L719.1 369.0 L723.4 367.0 L726.3 365.0 L728.6 363.0 L729.7 361.0 L731.6 359.0 L733.5 357.0 L734.7 355.0 L735.5 353.0 L735.3 351.0 L736.6 349.0 L736.9 347.0 L738.1 345.0 L738.9 343.0 L740.5 341.0 L741.1 339.0 L741.0 337.0 L741.0 335.0 L740.7 333.0 L741.0 331.0 L740.8 329.0 L740.6 327.0 L741.0 325.0 L740.7 323.0 L741.4 321.0 L741.6 319.0 L742.4 317.0 L742.2 315.0 L742.1 313.0 L742.4 311.0 L743.4 309.0 L744.3 307.0 L743.8 305.0 L743.8 303.0 L743.3 301.0 L744.3 299.0 L743.9 297.0 L744.2 295.0 L744.4 293.0 L744.9 291.0 L745.0 289.0 L744.6 287.0 L745.3 285.0 L745.2 283.0 L745.4 281.0 L745.1 279.0 L745.6 277.0 L746.6 275.0 L747.0 273.0 L747.0 271.0 L746.7 269.0 L746.9 267.0 L747.4 265.0 L747.3 263.0 L747.5 261.0 L747.2 259.0 L747.1 257.0 L746.9 255.0 L747.1 253.0 L747.9 251.0 L748.7 249.0 L749.6 247.0 L749.7 245.0 L749.4 243.0 L748.9 241.0 L748.6 239.0 L748.8 237.0 L748.7 235.0 L749.3 233.0 L749.2 231.0 L750.0 229.0 L750.1 227.0 L750.3 225.0 L750.1 223.0 L749.7 221.0 L749.7 219.0 L750.2 217.0 L751.2 215.0 L751.8 213.0 L751.5 211.0 L751.0 209.0 L750.9 207.0 L751.3 205.0 L752.5 203.0 L752.5 201.0 L752.3 199.0 L751.5 197.0 L752.0 195.0 L752.1 193.0 L752.5 191.0 L751.7 189.0 L752.9 187.0 L752.9 185.0 L753.1 183.0 L752.3 181.0 L752.3 179.0 L752.0 177.0 L752.5 175.0 L753.6 173.0 L754.5 171.0 L754.7 169.0 L753.9 167.0 L754.1 165.0 L754.2 163.0 L754.4 161.0 L754.9 159.0 L755.3 157.0 L755.4 155.0 L755.6 153.0 L755.6 151.0 L756.2 149.0 L755.9 147.0 L756.4 145.0 L756.6 143.0 L756.6 141.0 L756.6 139.0 L756.5 137.0 L756.9 135.0 L757.3 133.0 L757.3 131.0 L757.1 129.0 L756.7 127.0 L757.1 125.0 L758.0 123.0 L757.8 121.0 L758.8 119.0 L759.1 117.0 L759.6 115.0 L759.2 113.0 L758.8 111.0 L759.3 109.0 L759.6 107.0 L760.2 105.0 L760.4 103.0 L760.9 101.0 L760.9 99.0 L761.0 97.0 L760.6 95.0 L760.8 93.0 L760.9 91.0 L761.1 89.0 L761.5 87.0 L761.4 85.0 L761.7 83.0 L761.7 81.0 L761.9 79.0 L762.0 77.0 L762.4 75.0 L763.0 73.0 L763.1 71.0 L763.5 69.0 L763.6 67.0 L764.2 65.0 L764.7 63.0 L765.8 61.0 L766.6 59.0 L766.9 57.0 L766.9 55.0 L767.8 53.0 L768.1 51.0 L769.1 49.0 L769.9 47.0 L770.5 46.1 L784.5 46.1" stroke="#a80c10" stroke-width="1.5" fill="none" stroke-dasharray="5 5.3"/>
<path d="M693.0 373.0 L694.6 371.0 L696.5 369.0 L698.0 367.0 L699.3 365.0 L700.5 363.0 L701.6 361.0 L702.4 359.0 L703.1 357.0 L704.2 355.0 L705.4 353.0 L705.4 351.0 L706.0 349.0 L705.7 347.0 L706.6 345.0 L706.7 343.0 L707.8 341.0 L707.3 339.0 L706.9 337.0 L706.8 335.0 L707.6 333.0 L708.1 331.0 L707.1 329.0 L707.4 327.0 L707.7 325.0 L708.0 323.0 L709.0 321.0 L708.5 319.0 L709.4 317.0 L708.9 315.0 L710.0 313.0 L710.7 311.0 L710.8 309.0 L710.6 307.0 L710.5 305.0 L710.1 303.0 L710.2 301.0 L711.1 299.0 L711.7 297.0 L712.2 295.0 L712.4 293.0 L713.1 291.0 L713.3 289.0 L713.1 287.0 L712.8 285.0 L712.7 283.0 L712.9 281.0 L713.1 279.0 L714.0 277.0 L713.8 275.0 L713.8 273.0 L713.5 271.0 L713.7 269.0 L713.9 267.0 L713.6 265.0 L713.9 263.0 L714.2 261.0 L715.2 259.0 L715.3 257.0 L714.8 255.0 L714.5 253.0 L715.3 251.0 L715.9 249.0 L715.6 247.0 L715.0 245.0 L714.4 243.0 L714.7 241.0 L714.8 239.0 L715.4 237.0 L715.8 235.0 L715.7 233.0 L715.8 231.0 L715.5 229.0 L716.1 227.0 L717.4 225.0 L718.2 223.0 L718.2 221.0 L717.6 219.0 L717.2 217.0 L717.6 215.0 L717.7 213.0 L718.1 211.0 L718.2 209.0 L718.3 207.0 L718.1 205.0 L718.1 203.0 L718.5 201.0 L718.8 199.0 L718.6 197.0 L718.7 195.0 L719.5 193.0 L720.2 191.0 L719.8 189.0 L719.4 187.0 L719.1 185.0 L719.7 183.0 L719.4 181.0 L719.4 179.0 L719.5 177.0 L719.8 175.0 L720.1 173.0 L719.4 171.0 L719.2 169.0 L719.3 167.0 L720.2 165.0 L720.7 163.0 L720.7 161.0 L720.7 159.0 L721.2 157.0 L721.7 155.0 L721.7 153.0 L721.4 151.0 L721.5 149.0 L721.8 147.0 L722.3 145.0 L722.0 143.0 L721.7 141.0 L721.6 139.0 L721.7 137.0 L722.5 135.0 L722.8 133.0 L722.5 131.0 L722.6 129.0 L722.9 127.0 L724.0 125.0 L723.9 123.0 L723.4 121.0 L723.5 119.0 L724.2 117.0 L724.6 115.0 L724.2 113.0 L723.6 111.0 L723.8 109.0 L724.1 107.0 L724.5 105.0 L724.7 103.0 L725.5 101.0 L725.2 99.0 L725.1 97.0 L725.3 95.0 L726.1 93.0 L726.4 91.0 L726.4 89.0 L726.4 87.0 L726.5 85.0 L726.6 83.0 L727.8 81.0 L728.8 79.0 L729.2 77.0 L729.4 75.0 L729.4 73.0 L729.5 71.0 L729.1 69.0 L729.7 67.0 L730.8 65.0 L732.0 63.0 L732.4 61.0 L732.5 59.0 L733.4 57.0 L734.0 55.0 L734.3 53.0 L735.1 51.0 L735.8 49.0 L737.0 47.0 L737.6 46.1 L747.0 46.1" stroke="#1414c0" stroke-width="1.5" fill="none" stroke-dasharray="5 5.3"/>
<path d="M684.5 373.0 L716.9 371.0 L723.9 369.0 L728.2 367.0 L731.2 365.0 L733.0 363.0 L734.5 361.0 L735.7 359.0 L737.5 357.0 L738.6 355.0 L739.9 353.0 L740.0 351.0 L740.8 349.0 L742.3 347.0 L743.5 345.0 L744.2 343.0 L744.1 341.0 L744.9 339.0 L745.0 337.0 L745.4 335.0 L744.9 333.0 L745.6 331.0 L745.8 329.0 L746.0 327.0 L745.9 325.0 L745.7 323.0 L745.7 321.0 L745.8 319.0 L745.4 317.0 L746.3 315.0 L747.1 313.0 L747.9 311.0 L747.7 309.0 L746.8 307.0 L747.4 305.0 L747.7 303.0 L748.6 301.0 L748.3 299.0 L748.2 297.0 L748.0 295.0 L748.5 293.0 L749.6 291.0 L749.9 289.0 L750.1 287.0 L749.4 285.0 L749.9 283.0 L750.8 281.0 L751.5 279.0 L751.9 277.0 L750.9 275.0 L751.0 273.0 L750.7 271.0 L751.6 269.0 L751.8 267.0 L752.1 265.0 L751.4 263.0 L751.2 261.0 L751.0 259.0 L751.8 257.0 L752.0 255.0 L752.6 253.0 L752.1 251.0 L752.0 249.0 L751.8 247.0 L752.6 245.0 L752.8 243.0 L753.0 241.0 L753.1 239.0 L753.6 237.0 L753.7 235.0 L753.9 233.0 L753.2 231.0 L752.6 229.0 L752.2 227.0 L753.0 225.0 L753.2 223.0 L753.9 221.0 L753.9 219.0 L754.7 217.0 L754.5 215.0 L754.6 213.0 L754.9 211.0 L755.4 209.0 L755.6 207.0 L755.3 205.0 L755.4 203.0 L755.9 201.0 L756.1 199.0 L756.1 197.0 L755.5 195.0 L755.6 193.0 L755.6 191.0 L755.6 189.0 L755.9 187.0 L756.1 185.0 L756.1 183.0 L755.7 181.0 L756.6 179.0 L757.3 177.0 L757.2 175.0 L756.4 173.0 L756.8 171.0 L757.4 169.0 L757.9 167.0 L757.7 165.0 L757.9 163.0 L758.4 161.0 L758.7 159.0 L758.6 157.0 L757.8 155.0 L757.9 153.0 L758.6 151.0 L759.3 149.0 L758.9 147.0 L758.6 145.0 L758.9 143.0 L759.2 141.0 L759.4 139.0 L759.6 137.0 L760.4 135.0 L759.9 133.0 L759.2 131.0 L758.9 129.0 L759.8 127.0 L760.4 125.0 L760.4 123.0 L760.2 121.0 L760.8 119.0 L760.3 117.0 L760.7 115.0 L760.1 113.0 L760.7 111.0 L760.3 109.0 L760.6 107.0 L760.9 105.0 L761.5 103.0 L762.5 101.0 L762.6 99.0 L762.9 97.0 L762.6 95.0 L762.9 93.0 L763.4 91.0 L763.5 89.0 L763.7 87.0 L763.4 85.0 L763.7 83.0 L763.8 81.0 L764.5 79.0 L764.7 77.0 L765.1 75.0 L765.0 73.0 L765.6 71.0 L765.7 69.0 L766.4 67.0 L766.3 65.0 L767.1 63.0 L767.8 61.0 L768.5 59.0 L768.7 57.0 L768.3 55.0 L769.0 53.0 L769.7 51.0 L770.7 49.0 L771.4 47.0 L772.0 46.1 L784.5 46.1" stroke="#1414c0" stroke-width="1.5" fill="none" stroke-dasharray="5 5.3"/>
<path d="M587.0 373.0 L659.1 371.0 L681.8 369.0 L689.3 367.0 L691.9 365.0 L694.1 363.0 L696.1 361.0 L697.0 359.0 L697.3 357.0 L697.7 355.0 L698.6 353.0 L699.5 351.0 L700.6 349.0 L702.2 347.0 L703.0 345.0 L704.1 343.0 L703.7 341.0 L704.6 339.0 L704.6 337.0 L705.5 335.0 L705.6 333.0 L705.7 331.0 L706.4 329.0 L706.7 327.0 L706.2 325.0 L705.3 323.0 L705.8 321.0 L706.6 319.0 L707.8 317.0 L707.4 315.0 L707.5 313.0 L707.2 311.0 L707.7 309.0 L708.2 307.0 L708.3 305.0 L708.7 303.0 L709.0 301.0 L709.2 299.0 L708.9 297.0 L708.4 295.0 L708.8 293.0 L709.4 291.0 L710.0 289.0 L710.1 287.0 L710.2 285.0 L710.5 283.0 L711.0 281.0 L711.5 279.0 L711.7 277.0 L712.1 275.0 L711.7 273.0 L711.9 271.0 L711.8 269.0 L711.9 267.0 L711.6 265.0 L711.8 263.0 L712.3 261.0 L712.3 259.0 L712.1 257.0 L712.7 255.0 L713.5 253.0 L713.8 251.0 L713.9 249.0 L713.5 247.0 L713.6 245.0 L713.6 243.0 L714.0 241.0 L713.8 239.0 L713.8 237.0 L714.6 235.0 L714.3 233.0 L714.3 231.0 L713.6 229.0 L714.4 227.0 L714.1 225.0 L715.4 223.0 L715.4 221.0 L716.0 219.0 L715.2 217.0 L715.2 215.0 L715.2 213.0 L715.6 211.0 L716.6 209.0 L717.0 207.0 L717.5 205.0 L716.8 203.0 L716.9 201.0 L716.4 199.0 L716.4 197.0 L717.6 195.0 L717.8 193.0 L718.5 191.0 L717.2 189.0 L717.2 187.0 L716.9 185.0 L717.6 183.0 L717.7 181.0 L718.1 179.0 L717.9 177.0 L717.8 175.0 L718.0 173.0 L718.0 171.0 L718.6 169.0 L718.5 167.0 L718.6 165.0 L718.7 163.0 L719.2 161.0 L719.1 159.0 L719.3 157.0 L718.8 155.0 L719.1 153.0 L718.9 151.0 L719.4 149.0 L718.7 147.0 L718.5 145.0 L718.5 143.0 L719.6 141.0 L719.9 139.0 L720.5 137.0 L719.9 135.0 L720.3 133.0 L720.2 131.0 L720.9 129.0 L721.1 127.0 L721.4 125.0 L721.3 123.0 L721.6 121.0 L721.8 119.0 L722.2 117.0 L721.5 115.0 L720.9 113.0 L720.9 111.0 L721.5 109.0 L722.1 107.0 L722.3 105.0 L723.6 103.0 L723.8 101.0 L723.8 99.0 L723.2 97.0 L723.6 95.0 L724.4 93.0 L724.4 91.0 L724.4 89.0 L724.4 87.0 L725.7 85.0 L725.5 83.0 L726.2 81.0 L726.0 79.0 L726.4 77.0 L726.5 75.0 L727.1 73.0 L727.8 71.0 L728.2 69.0 L728.4 67.0 L729.2 65.0 L729.9 63.0 L730.4 61.0 L730.4 59.0 L730.2 57.0 L730.7 55.0 L731.0 53.0 L732.3 51.0 L732.8 49.0 L733.9 47.0 L734.4 46.1 L747.0 46.1" stroke="#16dc16" stroke-width="1.5" fill="none" stroke-dasharray="5 5.3"/>
<path d="M678.0 373.0 L710.3 371.0 L717.2 369.0 L721.5 367.0 L724.5 365.0 L726.7 363.0 L728.2 361.0 L730.2 359.0 L731.1 357.0 L731.9 355.0 L732.9 353.0 L734.4 351.0 L735.3 349.0 L735.8 347.0 L736.2 345.0 L737.7 343.0 L738.3 341.0 L738.5 339.0 L737.5 337.0 L737.4 335.0 L738.4 333.0 L738.9 331.0 L740.1 329.0 L740.1 327.0 L740.6 325.0 L740.4 323.0 L740.7 321.0 L741.0 319.0 L740.7 317.0 L740.5 315.0 L740.3 313.0 L740.8 311.0 L741.1 309.0 L741.1 307.0 L741.1 305.0 L741.9 303.0 L743.2 301.0 L743.4 299.0 L743.1 297.0 L742.7 295.0 L742.9 293.0 L743.2 291.0 L743.4 289.0 L744.3 287.0 L744.4 285.0 L744.5 283.0 L743.4 281.0 L743.4 279.0 L743.9 277.0 L744.7 275.0 L745.1 273.0 L745.2 271.0 L745.1 269.0 L744.9 267.0 L745.0 265.0 L745.9 263.0 L746.2 261.0 L746.3 259.0 L746.1 257.0 L746.2 255.0 L746.3 253.0 L746.3 251.0 L746.7 249.0 L746.8 247.0 L747.5 245.0 L747.3 243.0 L747.7 241.0 L747.7 239.0 L748.3 237.0 L748.5 235.0 L748.9 233.0 L748.7 231.0 L748.7 229.0 L748.5 227.0 L748.3 225.0 L748.4 223.0 L749.0 221.0 L749.8 219.0 L749.7 217.0 L749.6 215.0 L749.7 213.0 L749.7 211.0 L749.9 209.0 L749.9 207.0 L750.7 205.0 L750.9 203.0 L750.4 201.0 L749.7 199.0 L750.4 197.0 L750.9 195.0 L752.1 193.0 L752.0 191.0 L752.4 189.0 L751.8 187.0 L752.0 185.0 L752.1 183.0 L752.7 181.0 L752.6 179.0 L753.1 177.0 L753.4 175.0 L753.0 173.0 L752.4 171.0 L752.3 169.0 L752.9 167.0 L753.7 165.0 L753.8 163.0 L753.9 161.0 L754.4 159.0 L755.0 157.0 L755.6 155.0 L755.5 153.0 L755.0 151.0 L754.7 149.0 L754.6 147.0 L754.6 145.0 L754.5 143.0 L754.8 141.0 L754.9 139.0 L755.5 137.0 L755.8 135.0 L756.3 133.0 L756.2 131.0 L756.5 129.0 L756.9 127.0 L757.3 125.0 L757.0 123.0 L756.5 121.0 L757.2 119.0 L757.6 117.0 L758.2 115.0 L757.2 113.0 L757.3 111.0 L757.4 109.0 L758.4 107.0 L758.0 105.0 L758.0 103.0 L757.9 101.0 L758.7 99.0 L759.1 97.0 L759.3 95.0 L759.2 93.0 L759.7 91.0 L760.4 89.0 L761.2 87.0 L761.3 85.0 L761.6 83.0 L762.0 81.0 L762.2 79.0 L761.9 77.0 L761.9 75.0 L762.6 73.0 L763.5 71.0 L763.8 69.0 L764.1 67.0 L764.1 65.0 L764.4 63.0 L764.7 61.0 L765.3 59.0 L766.5 57.0 L766.6 55.0 L767.2 53.0 L767.5 51.0 L768.7 49.0 L769.5 47.0 L770.0 46.1 L784.5 46.1" stroke="#16dc16" stroke-width="1.5" fill="none" stroke-dasharray="5 5.3"/>
<path d="M588.5 373.0 L660.6 371.0 L683.1 369.0 L690.7 367.0 L693.4 365.0 L695.7 363.0 L697.7 361.0 L698.9 359.0 L699.2 357.0 L699.7 355.0 L700.4 353.0 L701.6 351.0 L702.6 349.0 L703.8 347.0 L704.6 345.0 L704.4 343.0 L704.4 341.0 L704.1 339.0 L704.7 337.0 L704.9 335.0 L705.9 333.0 L706.3 331.0 L707.3 329.0 L707.8 327.0 L708.0 325.0 L708.2 323.0 L708.1 321.0 L708.6 319.0 L709.0 317.0 L708.9 315.0 L709.0 313.0 L709.3 311.0 L709.7 309.0 L710.0 307.0 L709.8 305.0 L710.2 303.0 L710.0 301.0 L710.0 299.0 L710.0 297.0 L711.0 295.0 L711.6 293.0 L712.3 291.0 L711.8 289.0 L712.0 287.0 L712.0 285.0 L712.9 283.0 L712.6 281.0 L713.0 279.0 L713.2 277.0 L714.2 275.0 L713.8 273.0 L713.2 271.0 L712.3 269.0 L713.0 267.0 L713.7 265.0 L714.4 263.0 L714.0 261.0 L714.4 259.0 L714.9 257.0 L715.3 255.0 L715.0 253.0 L715.1 251.0 L715.4 249.0 L716.0 247.0 L715.6 245.0 L715.7 243.0 L715.4 241.0 L715.5 239.0 L715.4 237.0 L715.6 235.0 L716.1 233.0 L716.2 231.0 L716.5 229.0 L716.2 227.0 L716.1 225.0 L716.6 223.0 L716.7 221.0 L717.8 219.0 L717.8 217.0 L717.6 215.0 L717.0 213.0 L716.7 211.0 L717.5 209.0 L717.8 207.0 L717.9 205.0 L718.4 203.0 L718.5 201.0 L719.1 199.0 L718.7 197.0 L718.6 195.0 L718.8 193.0 L719.1 191.0 L719.1 189.0 L718.7 187.0 L719.2 185.0 L719.5 183.0 L719.5 181.0 L719.4 179.0 L719.8 177.0 L720.1 175.0 L719.9 173.0 L719.5 171.0 L720.5 169.0 L720.6 167.0 L721.4 165.0 L720.6 163.0 L720.8 161.0 L719.8 159.0 L720.0 157.0 L719.9 155.0 L720.5 153.0 L720.4 151.0 L720.1 149.0 L719.8 147.0 L720.1 145.0 L720.4 143.0 L720.9 141.0 L720.9 139.0 L721.1 137.0 L721.1 135.0 L721.9 133.0 L721.8 131.0 L722.1 129.0 L721.6 127.0 L721.7 125.0 L721.8 123.0 L722.3 121.0 L723.1 119.0 L723.6 117.0 L724.5 115.0 L724.6 113.0 L725.1 111.0 L724.0 109.0 L724.3 107.0 L724.6 105.0 L724.9 103.0 L725.2 101.0 L724.6 99.0 L724.6 97.0 L724.2 95.0 L724.3 93.0 L725.0 91.0 L724.9 89.0 L725.5 87.0 L725.0 85.0 L725.7 83.0 L726.3 81.0 L727.1 79.0 L727.6 77.0 L727.9 75.0 L728.0 73.0 L727.9 71.0 L728.0 69.0 L728.8 67.0 L729.6 65.0 L729.7 63.0 L730.4 61.0 L730.6 59.0 L731.4 57.0 L731.5 55.0 L732.7 53.0 L733.2 51.0 L733.8 49.0 L734.9 47.0 L735.4 46.1 L747.0 46.1" stroke="#000000" stroke-width="1.5" fill="none" stroke-dasharray="5 5.3"/>
<path d="M679.0 373.0 L711.3 371.0 L718.2 369.0 L722.4 367.0 L725.4 365.0 L727.7 363.0 L728.4 361.0 L729.8 359.0 L731.0 357.0 L732.9 355.0 L734.1 353.0 L735.5 351.0 L737.1 349.0 L738.1 347.0 L738.1 345.0 L738.2 343.0 L739.1 341.0 L739.4 339.0 L739.4 337.0 L739.4 335.0 L739.4 333.0 L739.7 331.0 L740.1 329.0 L740.1 327.0 L740.5 325.0 L740.3 323.0 L741.1 321.0 L740.9 319.0 L741.0 317.0 L741.0 315.0 L742.3 313.0 L742.9 311.0 L742.9 309.0 L742.8 307.0 L742.9 305.0 L743.3 303.0 L743.2 301.0 L743.1 299.0 L742.9 297.0 L743.0 295.0 L743.5 293.0 L744.7 291.0 L745.6 289.0 L745.4 287.0 L745.3 285.0 L744.2 283.0 L744.4 281.0 L743.9 279.0 L745.1 277.0 L744.8 275.0 L745.1 273.0 L744.7 271.0 L745.4 269.0 L746.2 267.0 L746.4 265.0 L747.0 263.0 L747.0 261.0 L747.2 259.0 L746.9 257.0 L747.0 255.0 L747.7 253.0 L747.8 251.0 L748.7 249.0 L748.9 247.0 L748.8 245.0 L748.5 243.0 L748.6 241.0 L748.6 239.0 L748.3 237.0 L748.0 235.0 L747.7 233.0 L748.2 231.0 L748.6 229.0 L749.9 227.0 L749.6 225.0 L749.9 223.0 L749.9 221.0 L750.5 219.0 L750.7 217.0 L750.3 215.0 L750.8 213.0 L751.2 211.0 L752.0 209.0 L752.0 207.0 L752.3 205.0 L752.1 203.0 L751.9 201.0 L751.8 199.0 L751.3 197.0 L751.6 195.0 L751.2 193.0 L751.9 191.0 L751.5 189.0 L752.2 187.0 L752.0 185.0 L753.2 183.0 L753.2 181.0 L753.6 179.0 L752.7 177.0 L752.7 175.0 L752.7 173.0 L753.0 171.0 L753.1 169.0 L753.0 167.0 L753.4 165.0 L753.6 163.0 L753.7 161.0 L753.7 159.0 L753.7 157.0 L754.1 155.0 L753.9 153.0 L754.0 151.0 L754.2 149.0 L754.2 147.0 L754.2 145.0 L754.5 143.0 L754.8 141.0 L754.9 139.0 L754.9 137.0 L755.2 135.0 L755.9 133.0 L756.3 131.0 L756.5 129.0 L756.8 127.0 L756.7 125.0 L756.5 123.0 L756.7 121.0 L756.9 119.0 L757.3 117.0 L757.5 115.0 L758.1 113.0 L758.6 111.0 L758.4 109.0 L758.2 107.0 L758.1 105.0 L758.1 103.0 L758.0 101.0 L758.2 99.0 L758.6 97.0 L758.9 95.0 L759.1 93.0 L759.6 91.0 L760.4 89.0 L760.3 87.0 L760.3 85.0 L760.2 83.0 L760.7 81.0 L760.4 79.0 L760.6 77.0 L761.0 75.0 L761.6 73.0 L762.1 71.0 L762.3 69.0 L763.0 67.0 L763.2 65.0 L763.1 63.0 L764.0 61.0 L764.3 59.0 L765.7 57.0 L764.8 55.0 L765.5 53.0 L765.7 51.0 L766.8 49.0 L767.6 47.0 L768.0 46.1 L784.5 46.1" stroke="#000000" stroke-width="1.5" fill="none" stroke-dasharray="5 5.3"/>
</g>
<rect x="77" y="12.6" width="404" height="360.4" fill="none" stroke="#3a3a3a" stroke-width="1.6"/>
<path d="M77.00 373 v-3.4 M77.00 12.6 v3.4 M90.07 373 v-1.7 M90.07 12.6 v1.7 M103.53 373 v-1.7 M103.53 12.6 v1.7 M117.00 373 v-1.7 M117.00 12.6 v1.7 M130.47 373 v-1.7 M130.47 12.6 v1.7 M143.93 373 v-3.4 M143.93 12.6 v3.4 M157.40 373 v-1.7 M157.40 12.6 v1.7 M170.87 373 v-1.7 M170.87 12.6 v1.7 M184.33 373 v-1.7 M184.33 12.6 v1.7 M197.80 373 v-1.7 M197.80 12.6 v1.7 M211.27 373 v-3.4 M211.27 12.6 v3.4 M224.73 373 v-1.7 M224.73 12.6 v1.7 M238.20 373 v-1.7 M238.20 12.6 v1.7 M251.67 373 v-1.7 M251.67 12.6 v1.7 M265.13 373 v-1.7 M265.13 12.6 v1.7 M278.60 373 v-3.4 M278.60 12.6 v3.4 M292.07 373 v-1.7 M292.07 12.6 v1.7 M305.53 373 v-1.7 M305.53 12.6 v1.7 M319.00 373 v-1.7 M319.00 12.6 v1.7 M332.47 373 v-1.7 M332.47 12.6 v1.7 M345.93 373 v-3.4 M345.93 12.6 v3.4 M359.40 373 v-1.7 M359.40 12.6 v1.7 M372.87 373 v-1.7 M372.87 12.6 v1.7 M386.33 373 v-1.7 M386.33 12.6 v1.7 M399.80 373 v-1.7 M399.80 12.6 v1.7 M413.27 373 v-3.4 M413.27 12.6 v3.4 M426.73 373 v-1.7 M426.73 12.6 v1.7 M440.20 373 v-1.7 M440.20 12.6 v1.7 M453.67 373 v-1.7 M453.67 12.6 v1.7 M467.13 373 v-1.7 M467.13 12.6 v1.7 M481.00 373 v-3.4 M481.00 12.6 v3.4 M77 373.00 h4.5 M481 373.00 h-4.5 M77 340.31 h2.5 M481 340.31 h-2.5 M77 307.61 h4.5 M481 307.61 h-4.5 M77 274.92 h2.5 M481 274.92 h-2.5 M77 242.23 h4.5 M481 242.23 h-4.5 M77 209.53 h2.5 M481 209.53 h-2.5 M77 176.84 h4.5 M481 176.84 h-4.5 M77 144.15 h2.5 M481 144.15 h-2.5 M77 111.46 h4.5 M481 111.46 h-4.5 M77 78.76 h2.5 M481 78.76 h-2.5 M77 46.07 h4.5 M481 46.07 h-4.5 M77 13.38 h2.5 M481 13.38 h-2.5" stroke="#3a3a3a" stroke-width="1.6" fill="none"/>
<rect x="588" y="12.6" width="404" height="360.4" fill="none" stroke="#3a3a3a" stroke-width="1.6"/>
<path d="M588.00 373 v-3.4 M588.00 12.6 v3.4 M601.07 373 v-1.7 M601.07 12.6 v1.7 M614.53 373 v-1.7 M614.53 12.6 v1.7 M628.00 373 v-1.7 M628.00 12.6 v1.7 M641.47 373 v-1.7 M641.47 12.6 v1.7 M654.93 373 v-3.4 M654.93 12.6 v3.4 M668.40 373 v-1.7 M668.40 12.6 v1.7 M681.87 373 v-1.7 M681.87 12.6 v1.7 M695.33 373 v-1.7 M695.33 12.6 v1.7 M708.80 373 v-1.7 M708.80 12.6 v1.7 M722.27 373 v-3.4 M722.27 12.6 v3.4 M735.73 373 v-1.7 M735.73 12.6 v1.7 M749.20 373 v-1.7 M749.20 12.6 v1.7 M762.67 373 v-1.7 M762.67 12.6 v1.7 M776.13 373 v-1.7 M776.13 12.6 v1.7 M789.60 373 v-3.4 M789.60 12.6 v3.4 M803.07 373 v-1.7 M803.07 12.6 v1.7 M816.53 373 v-1.7 M816.53 12.6 v1.7 M830.00 373 v-1.7 M830.00 12.6 v1.7 M843.47 373 v-1.7 M843.47 12.6 v1.7 M856.93 373 v-3.4 M856.93 12.6 v3.4 M870.40 373 v-1.7 M870.40 12.6 v1.7 M883.87 373 v-1.7 M883.87 12.6 v1.7 M897.33 373 v-1.7 M897.33 12.6 v1.7 M910.80 373 v-1.7 M910.80 12.6 v1.7 M924.27 373 v-3.4 M924.27 12.6 v3.4 M937.73 373 v-1.7 M937.73 12.6 v1.7 M951.20 373 v-1.7 M951.20 12.6 v1.7 M964.67 373 v-1.7 M964.67 12.6 v1.7 M978.13 373 v-1.7 M978.13 12.6 v1.7 M992.00 373 v-3.4 M992.00 12.6 v3.4 M588 373.00 h4.5 M992 373.00 h-4.5 M588 340.31 h2.5 M992 340.31 h-2.5 M588 307.61 h4.5 M992 307.61 h-4.5 M588 274.92 h2.5 M992 274.92 h-2.5 M588 242.23 h4.5 M992 242.23 h-4.5 M588 209.53 h2.5 M992 209.53 h-2.5 M588 176.84 h4.5 M992 176.84 h-4.5 M588 144.15 h2.5 M992 144.15 h-2.5 M588 111.46 h4.5 M992 111.46 h-4.5 M588 78.76 h2.5 M992 78.76 h-2.5 M588 46.07 h4.5 M992 46.07 h-4.5 M588 13.38 h2.5 M992 13.38 h-2.5" stroke="#3a3a3a" stroke-width="1.6" fill="none"/>
<path d="M66.68 388.20 L64.90 388.80 L63.70 390.58 L63.11 393.56 L63.11 395.34 L63.70 398.32 L64.90 400.10 L66.68 400.70 L67.87 400.70 L69.66 400.10 L70.84 398.32 L71.44 395.34 L71.44 393.56 L70.84 390.58 L69.66 388.80 L67.87 388.20 L66.68 388.20 M76.20 399.51 L75.61 400.10 L76.20 400.70 L76.80 400.10 L76.20 399.51 M84.53 388.20 L82.75 388.80 L81.56 390.58 L80.96 393.56 L80.96 395.34 L81.56 398.32 L82.75 400.10 L84.53 400.70 L85.72 400.70 L87.50 400.10 L88.69 398.32 L89.29 395.34 L89.29 393.56 L88.69 390.58 L87.50 388.80 L85.72 388.20 L84.53 388.20 M134.01 388.20 L132.23 388.80 L131.04 390.58 L130.44 393.56 L130.44 395.34 L131.04 398.32 L132.23 400.10 L134.01 400.70 L135.20 400.70 L136.99 400.10 L138.18 398.32 L138.77 395.34 L138.77 393.56 L138.18 390.58 L136.99 388.80 L135.20 388.20 L134.01 388.20 M143.53 399.51 L142.94 400.10 L143.53 400.70 L144.13 400.10 L143.53 399.51 M155.43 388.20 L149.48 388.20 L148.89 393.56 L149.48 392.96 L151.27 392.37 L153.05 392.37 L154.84 392.96 L156.03 394.15 L156.62 395.94 L156.62 397.13 L156.03 398.91 L154.84 400.10 L153.05 400.70 L151.27 400.70 L149.48 400.10 L148.89 399.51 L148.29 398.32 M199.56 390.58 L200.75 389.99 L202.54 388.20 L202.54 400.70 M210.87 399.51 L210.27 400.10 L210.87 400.70 L211.46 400.10 L210.87 399.51 M219.20 388.20 L217.41 388.80 L216.22 390.58 L215.63 393.56 L215.63 395.34 L216.22 398.32 L217.41 400.10 L219.20 400.70 L220.39 400.70 L222.17 400.10 L223.36 398.32 L223.96 395.34 L223.96 393.56 L223.36 390.58 L222.17 388.80 L220.39 388.20 L219.20 388.20 M266.89 390.58 L268.08 389.99 L269.87 388.20 L269.87 400.70 M278.20 399.51 L277.60 400.10 L278.20 400.70 L278.79 400.10 L278.20 399.51 M290.10 388.20 L284.15 388.20 L283.56 393.56 L284.15 392.96 L285.94 392.37 L287.72 392.37 L289.50 392.96 L290.69 394.15 L291.29 395.94 L291.29 397.13 L290.69 398.91 L289.50 400.10 L287.72 400.70 L285.94 400.70 L284.15 400.10 L283.56 399.51 L282.96 398.32 M333.04 391.18 L333.04 390.58 L333.63 389.39 L334.23 388.80 L335.42 388.20 L337.80 388.20 L338.99 388.80 L339.58 389.39 L340.18 390.58 L340.18 391.77 L339.58 392.96 L338.39 394.75 L332.44 400.70 L340.77 400.70 M345.53 399.51 L344.94 400.10 L345.53 400.70 L346.13 400.10 L345.53 399.51 M353.86 388.20 L352.08 388.80 L350.89 390.58 L350.29 393.56 L350.29 395.34 L350.89 398.32 L352.08 400.10 L353.86 400.70 L355.05 400.70 L356.84 400.10 L358.03 398.32 L358.62 395.34 L358.62 393.56 L358.03 390.58 L356.84 388.80 L355.05 388.20 L353.86 388.20 M400.37 391.18 L400.37 390.58 L400.97 389.39 L401.56 388.80 L402.75 388.20 L405.13 388.20 L406.32 388.80 L406.92 389.39 L407.51 390.58 L407.51 391.77 L406.92 392.96 L405.73 394.75 L399.78 400.70 L408.11 400.70 M412.87 399.51 L412.27 400.10 L412.87 400.70 L413.46 400.10 L412.87 399.51 M424.77 388.20 L418.82 388.20 L418.22 393.56 L418.82 392.96 L420.60 392.37 L422.39 392.37 L424.17 392.96 L425.36 394.15 L425.96 395.94 L425.96 397.13 L425.36 398.91 L424.17 400.10 L422.39 400.70 L420.60 400.70 L418.82 400.10 L418.22 399.51 L417.63 398.32 M468.30 388.20 L474.84 388.20 L471.27 392.96 L473.06 392.96 L474.25 393.56 L474.84 394.15 L475.44 395.94 L475.44 397.13 L474.84 398.91 L473.65 400.10 L471.87 400.70 L470.08 400.70 L468.30 400.10 L467.70 399.51 L467.11 398.32 M480.20 399.51 L479.60 400.10 L480.20 400.70 L480.79 400.10 L480.20 399.51 M488.53 388.20 L486.75 388.80 L485.56 390.58 L484.96 393.56 L484.96 395.34 L485.56 398.32 L486.75 400.10 L488.53 400.70 L489.72 400.70 L491.50 400.10 L492.69 398.32 L493.29 395.34 L493.29 393.56 L492.69 390.58 L491.50 388.80 L489.72 388.20 L488.53 388.20 M46.61 361.00 L44.82 361.60 L43.63 363.38 L43.03 366.36 L43.03 368.14 L43.63 371.12 L44.82 372.90 L46.61 373.50 L47.80 373.50 L49.58 372.90 L50.77 371.12 L51.37 368.14 L51.37 366.36 L50.77 363.38 L49.58 361.60 L47.80 361.00 L46.61 361.00 M56.12 372.31 L55.53 372.90 L56.12 373.50 L56.72 372.90 L56.12 372.31 M64.45 361.00 L62.67 361.60 L61.48 363.38 L60.88 366.36 L60.88 368.14 L61.48 371.12 L62.67 372.90 L64.45 373.50 L65.64 373.50 L67.43 372.90 L68.62 371.12 L69.22 368.14 L69.22 366.36 L68.62 363.38 L67.43 361.60 L65.64 361.00 L64.45 361.00 M46.61 302.32 L44.82 302.91 L43.63 304.70 L43.03 307.67 L43.03 309.46 L43.63 312.43 L44.82 314.22 L46.61 314.81 L47.80 314.81 L49.58 314.22 L50.77 312.43 L51.37 309.46 L51.37 307.67 L50.77 304.70 L49.58 302.91 L47.80 302.32 L46.61 302.32 M56.12 313.62 L55.53 314.22 L56.12 314.81 L56.72 314.22 L56.12 313.62 M61.48 305.29 L61.48 304.70 L62.07 303.51 L62.67 302.91 L63.86 302.32 L66.24 302.32 L67.43 302.91 L68.02 303.51 L68.62 304.70 L68.62 305.89 L68.02 307.08 L66.83 308.86 L60.88 314.81 L69.22 314.81 M46.61 236.93 L44.82 237.53 L43.63 239.31 L43.03 242.29 L43.03 244.07 L43.63 247.05 L44.82 248.83 L46.61 249.43 L47.80 249.43 L49.58 248.83 L50.77 247.05 L51.37 244.07 L51.37 242.29 L50.77 239.31 L49.58 237.53 L47.80 236.93 L46.61 236.93 M56.12 248.24 L55.53 248.83 L56.12 249.43 L56.72 248.83 L56.12 248.24 M66.83 236.93 L60.88 245.26 L69.81 245.26 M66.83 236.93 L66.83 249.43 M46.61 171.55 L44.82 172.14 L43.63 173.93 L43.03 176.90 L43.03 178.69 L43.63 181.66 L44.82 183.45 L46.61 184.04 L47.80 184.04 L49.58 183.45 L50.77 181.66 L51.37 178.69 L51.37 176.90 L50.77 173.93 L49.58 172.14 L47.80 171.55 L46.61 171.55 M56.12 182.85 L55.53 183.45 L56.12 184.04 L56.72 183.45 L56.12 182.85 M68.62 173.33 L68.02 172.14 L66.24 171.55 L65.05 171.55 L63.27 172.14 L62.07 173.93 L61.48 176.90 L61.48 179.88 L62.07 182.26 L63.27 183.45 L65.05 184.04 L65.64 184.04 L67.43 183.45 L68.62 182.26 L69.22 180.47 L69.22 179.88 L68.62 178.09 L67.43 176.90 L65.64 176.31 L65.05 176.31 L63.27 176.90 L62.07 178.09 L61.48 179.88 M46.61 106.16 L44.82 106.76 L43.63 108.54 L43.03 111.52 L43.03 113.30 L43.63 116.28 L44.82 118.06 L46.61 118.66 L47.80 118.66 L49.58 118.06 L50.77 116.28 L51.37 113.30 L51.37 111.52 L50.77 108.54 L49.58 106.76 L47.80 106.16 L46.61 106.16 M56.12 117.47 L55.53 118.06 L56.12 118.66 L56.72 118.06 L56.12 117.47 M63.86 106.16 L62.07 106.76 L61.48 107.95 L61.48 109.14 L62.07 110.33 L63.27 110.92 L65.64 111.52 L67.43 112.11 L68.62 113.30 L69.22 114.49 L69.22 116.28 L68.62 117.47 L68.02 118.06 L66.24 118.66 L63.86 118.66 L62.07 118.06 L61.48 117.47 L60.88 116.28 L60.88 114.49 L61.48 113.30 L62.67 112.11 L64.45 111.52 L66.83 110.92 L68.02 110.33 L68.62 109.14 L68.62 107.95 L68.02 106.76 L66.24 106.16 L63.86 106.16 M44.82 43.15 L46.01 42.56 L47.80 40.77 L47.80 53.27 M56.12 52.08 L55.53 52.67 L56.12 53.27 L56.72 52.67 L56.12 52.08 M64.45 40.77 L62.67 41.37 L61.48 43.15 L60.88 46.13 L60.88 47.91 L61.48 50.89 L62.67 52.67 L64.45 53.27 L65.64 53.27 L67.43 52.67 L68.62 50.89 L69.22 47.91 L69.22 46.13 L68.62 43.15 L67.43 41.37 L65.64 40.77 L64.45 40.77 M132.22 411.11 L132.22 423.60 M132.22 411.11 L137.58 411.11 L139.37 411.70 L139.96 412.30 L140.56 413.49 L140.56 414.68 L139.96 415.87 L139.37 416.46 L137.58 417.06 M132.22 417.06 L137.58 417.06 L139.37 417.65 L139.96 418.25 L140.56 419.44 L140.56 421.22 L139.96 422.41 L139.37 423.00 L137.58 423.60 L132.22 423.60 M147.10 411.11 L147.10 423.60 M142.94 411.11 L151.26 411.11 M167.93 408.73 L166.74 409.92 L165.55 411.70 L164.35 414.08 L163.76 417.06 L163.76 419.44 L164.35 422.41 L165.55 424.79 L166.74 426.58 L167.93 427.77 M172.09 411.11 L172.09 423.60 M178.04 415.27 L172.09 421.22 M174.47 418.84 L178.63 423.60 M181.61 408.73 L182.80 409.92 L183.99 411.70 L185.18 414.08 L185.77 417.06 L185.77 419.44 L185.18 422.41 L183.99 424.79 L182.80 426.58 L181.61 427.77 M208.38 414.08 L207.79 412.89 L206.60 411.70 L205.41 411.11 L203.03 411.11 L201.84 411.70 L200.65 412.89 L200.05 414.08 L199.46 415.87 L199.46 418.84 L200.05 420.62 L200.65 421.81 L201.84 423.00 L203.03 423.60 L205.41 423.60 L206.60 423.00 L207.79 421.81 L208.38 420.62 L208.38 418.84 M205.41 418.84 L208.38 418.84 M212.55 415.27 L212.55 421.22 L213.14 423.00 L214.33 423.60 L216.12 423.60 L217.31 423.00 L219.09 421.22 M219.09 415.27 L219.09 423.60 M223.85 411.11 L223.85 423.60 M232.19 411.11 L230.99 411.11 L229.80 411.70 L229.21 413.49 L229.21 423.60 M227.42 415.27 L231.59 415.27 M247.65 415.27 L246.46 415.87 L245.27 417.06 L244.68 418.84 L244.68 420.03 L245.27 421.81 L246.46 423.00 L247.65 423.60 L249.44 423.60 L250.63 423.00 L251.82 421.81 L252.41 420.03 L252.41 418.84 L251.82 417.06 L250.63 415.87 L249.44 415.27 L247.65 415.27 M260.15 411.11 L258.96 411.11 L257.77 411.70 L257.17 413.49 L257.17 423.60 M255.39 415.27 L259.56 415.27 M276.21 411.11 L271.45 423.60 M276.21 411.11 L280.97 423.60 M273.24 419.44 L279.19 419.44 M283.95 411.11 L283.95 423.60 M295.25 415.27 L295.25 423.60 M295.25 417.06 L294.06 415.87 L292.88 415.27 L291.09 415.27 L289.90 415.87 L288.71 417.06 L288.12 418.84 L288.12 420.03 L288.71 421.81 L289.90 423.00 L291.09 423.60 L292.88 423.60 L294.06 423.00 L295.25 421.81 M305.96 417.06 L305.37 415.87 L303.58 415.27 L301.80 415.27 L300.01 415.87 L299.42 417.06 L300.01 418.25 L301.20 418.84 L304.18 419.44 L305.37 420.03 L305.96 421.22 L305.96 421.81 L305.37 423.00 L303.58 423.60 L301.80 423.60 L300.01 423.00 L299.42 421.81 M310.13 411.11 L310.13 423.60 M316.08 415.27 L310.13 421.22 M312.51 418.84 L316.67 423.60 M326.79 415.27 L326.79 423.60 M326.79 417.06 L325.60 415.87 L324.41 415.27 L322.62 415.27 L321.44 415.87 L320.25 417.06 L319.65 418.84 L319.65 420.03 L320.25 421.81 L321.44 423.00 L322.62 423.60 L324.41 423.60 L325.60 423.00 L326.79 421.81 M332.74 423.00 L332.14 423.60 L331.55 423.00 L332.14 422.41 L332.74 423.00 L332.74 424.20 L332.14 425.39 L331.55 425.98 M347.02 411.11 L347.02 423.60 M347.02 411.11 L351.18 411.11 L352.97 411.70 L354.16 412.89 L354.75 414.08 L355.35 415.87 L355.35 418.84 L354.75 420.62 L354.16 421.81 L352.97 423.00 L351.18 423.60 L347.02 423.60 M358.92 418.84 L366.06 418.84 L366.06 417.65 L365.46 416.46 L364.87 415.87 L363.68 415.27 L361.89 415.27 L360.70 415.87 L359.51 417.06 L358.92 418.84 L358.92 420.03 L359.51 421.81 L360.70 423.00 L361.89 423.60 L363.68 423.60 L364.87 423.00 L366.06 421.81 M370.82 411.11 L370.82 421.22 L371.41 423.00 L372.60 423.60 L373.79 423.60 M369.03 415.27 L373.20 415.27 M378.55 413.49 L379.75 412.89 L381.53 411.11 L381.53 423.60 M389.26 418.25 L399.97 418.25 M405.92 413.49 L407.11 412.89 L408.90 411.11 L408.90 423.60 M423.77 412.89 L423.18 411.70 L421.39 411.11 L420.20 411.11 L418.42 411.70 L417.23 413.49 L416.63 416.46 L416.63 419.44 L417.23 421.81 L418.42 423.00 L420.20 423.60 L420.80 423.60 L422.58 423.00 L423.77 421.81 L424.37 420.03 L424.37 419.44 L423.77 417.65 L422.58 416.46 L420.80 415.87 L420.20 415.87 L418.42 416.46 L417.23 417.65 L416.63 419.44 M12.21 257.17 L24.70 257.17 M12.21 257.17 L12.21 251.82 L12.80 250.03 L13.40 249.44 L14.59 248.84 L16.37 248.84 L17.56 249.44 L18.16 250.03 L18.75 251.82 L18.75 257.17 M9.83 230.99 L11.02 232.18 L12.80 233.37 L15.18 234.56 L18.16 235.16 L20.54 235.16 L23.51 234.56 L25.89 233.37 L27.68 232.18 L28.87 230.99 M12.21 226.83 L24.70 226.83 M12.21 226.83 L24.70 222.07 M12.21 217.31 L24.70 222.07 M12.21 217.31 L24.70 217.31 M14.59 211.36 L13.99 210.17 L12.21 208.38 L24.70 208.38 M12.21 194.10 L12.21 200.05 L17.56 200.65 L16.97 200.05 L16.37 198.27 L16.37 196.48 L16.97 194.70 L18.16 193.51 L19.94 192.91 L21.13 192.91 L22.92 193.51 L24.11 194.70 L24.70 196.48 L24.70 198.27 L24.11 200.05 L23.51 200.65 L22.32 201.24 M19.35 188.75 L19.35 178.04 M12.21 173.28 L24.70 173.28 M12.21 173.28 L24.70 168.52 M12.21 163.76 L24.70 168.52 M12.21 163.76 L24.70 163.76 M14.59 157.81 L13.99 156.62 L12.21 154.83 L24.70 154.83 M13.99 139.96 L12.80 140.55 L12.21 142.34 L12.21 143.53 L12.80 145.31 L14.59 146.50 L17.56 147.10 L20.54 147.10 L22.92 146.50 L24.11 145.31 L24.70 143.53 L24.70 142.93 L24.11 141.15 L22.92 139.96 L21.13 139.36 L20.54 139.36 L18.75 139.96 L17.56 141.15 L16.97 142.93 L16.97 143.53 L17.56 145.31 L18.75 146.50 L20.54 147.10 M9.83 135.79 L11.02 134.60 L12.80 133.41 L15.18 132.22 L18.16 131.63 L20.54 131.63 L23.51 132.22 L25.89 133.41 L27.68 134.60 L28.87 135.79" stroke="#000" stroke-width="1.5" fill="none" stroke-linecap="round" stroke-linejoin="round"/>
<path d="M562.81 391.18 L562.81 390.58 L563.40 389.39 L564.00 388.80 L565.19 388.20 L567.57 388.20 L568.75 388.80 L569.35 389.39 L569.95 390.58 L569.95 391.77 L569.35 392.96 L568.16 394.75 L562.21 400.70 L570.54 400.70 M582.44 388.20 L576.49 400.70 M574.11 388.20 L582.44 388.20 M593.75 392.37 L593.15 394.15 L591.96 395.34 L590.18 395.94 L589.58 395.94 L587.80 395.34 L586.61 394.15 L586.01 392.37 L586.01 391.77 L586.61 389.99 L587.80 388.80 L589.58 388.20 L590.18 388.20 L591.96 388.80 L593.15 389.99 L593.75 392.37 L593.75 395.34 L593.15 398.32 L591.96 400.10 L590.18 400.70 L588.99 400.70 L587.20 400.10 L586.61 398.91 M599.10 399.51 L598.50 400.10 L599.10 400.70 L599.70 400.10 L599.10 399.51 M607.43 388.20 L605.65 388.80 L604.46 390.58 L603.86 393.56 L603.86 395.34 L604.46 398.32 L605.65 400.10 L607.43 400.70 L608.62 400.70 L610.41 400.10 L611.60 398.32 L612.19 395.34 L612.19 393.56 L611.60 390.58 L610.41 388.80 L608.62 388.20 L607.43 388.20 M630.14 391.18 L630.14 390.58 L630.73 389.39 L631.33 388.80 L632.52 388.20 L634.90 388.20 L636.09 388.80 L636.68 389.39 L637.28 390.58 L637.28 391.77 L636.68 392.96 L635.49 394.75 L629.54 400.70 L637.87 400.70 M649.77 388.20 L643.82 400.70 M641.44 388.20 L649.77 388.20 M661.08 392.37 L660.48 394.15 L659.29 395.34 L657.51 395.94 L656.91 395.94 L655.13 395.34 L653.94 394.15 L653.34 392.37 L653.34 391.77 L653.94 389.99 L655.13 388.80 L656.91 388.20 L657.51 388.20 L659.29 388.80 L660.48 389.99 L661.08 392.37 L661.08 395.34 L660.48 398.32 L659.29 400.10 L657.51 400.70 L656.32 400.70 L654.53 400.10 L653.94 398.91 M666.43 399.51 L665.84 400.10 L666.43 400.70 L667.03 400.10 L666.43 399.51 M678.33 388.20 L672.38 388.20 L671.79 393.56 L672.38 392.96 L674.17 392.37 L675.95 392.37 L677.74 392.96 L678.93 394.15 L679.52 395.94 L679.52 397.13 L678.93 398.91 L677.74 400.10 L675.95 400.70 L674.17 400.70 L672.38 400.10 L671.79 399.51 L671.19 398.32 M697.47 391.18 L697.47 390.58 L698.07 389.39 L698.66 388.80 L699.85 388.20 L702.23 388.20 L703.42 388.80 L704.02 389.39 L704.61 390.58 L704.61 391.77 L704.02 392.96 L702.83 394.75 L696.88 400.70 L705.21 400.70 M711.75 388.20 L709.97 388.80 L709.37 389.99 L709.37 391.18 L709.97 392.37 L711.16 392.96 L713.54 393.56 L715.32 394.15 L716.51 395.34 L717.11 396.53 L717.11 398.32 L716.51 399.51 L715.92 400.10 L714.13 400.70 L711.75 400.70 L709.97 400.10 L709.37 399.51 L708.78 398.32 L708.78 396.53 L709.37 395.34 L710.56 394.15 L712.35 393.56 L714.73 392.96 L715.92 392.37 L716.51 391.18 L716.51 389.99 L715.92 388.80 L714.13 388.20 L711.75 388.20 M724.25 388.20 L722.46 388.80 L721.27 390.58 L720.68 393.56 L720.68 395.34 L721.27 398.32 L722.46 400.10 L724.25 400.70 L725.44 400.70 L727.22 400.10 L728.41 398.32 L729.01 395.34 L729.01 393.56 L728.41 390.58 L727.22 388.80 L725.44 388.20 L724.25 388.20 M733.77 399.51 L733.17 400.10 L733.77 400.70 L734.36 400.10 L733.77 399.51 M742.10 388.20 L740.31 388.80 L739.12 390.58 L738.53 393.56 L738.53 395.34 L739.12 398.32 L740.31 400.10 L742.10 400.70 L743.29 400.70 L745.07 400.10 L746.26 398.32 L746.86 395.34 L746.86 393.56 L746.26 390.58 L745.07 388.80 L743.29 388.20 L742.10 388.20 M764.81 391.18 L764.81 390.58 L765.40 389.39 L766.00 388.80 L767.19 388.20 L769.57 388.20 L770.75 388.80 L771.35 389.39 L771.95 390.58 L771.95 391.77 L771.35 392.96 L770.16 394.75 L764.21 400.70 L772.54 400.70 M779.09 388.20 L777.30 388.80 L776.71 389.99 L776.71 391.18 L777.30 392.37 L778.49 392.96 L780.87 393.56 L782.66 394.15 L783.85 395.34 L784.44 396.53 L784.44 398.32 L783.85 399.51 L783.25 400.10 L781.47 400.70 L779.09 400.70 L777.30 400.10 L776.71 399.51 L776.11 398.32 L776.11 396.53 L776.71 395.34 L777.90 394.15 L779.68 393.56 L782.06 392.96 L783.25 392.37 L783.85 391.18 L783.85 389.99 L783.25 388.80 L781.47 388.20 L779.09 388.20 M791.58 388.20 L789.80 388.80 L788.61 390.58 L788.01 393.56 L788.01 395.34 L788.61 398.32 L789.80 400.10 L791.58 400.70 L792.77 400.70 L794.56 400.10 L795.75 398.32 L796.34 395.34 L796.34 393.56 L795.75 390.58 L794.56 388.80 L792.77 388.20 L791.58 388.20 M801.10 399.51 L800.50 400.10 L801.10 400.70 L801.70 400.10 L801.10 399.51 M813.00 388.20 L807.05 388.20 L806.46 393.56 L807.05 392.96 L808.84 392.37 L810.62 392.37 L812.41 392.96 L813.60 394.15 L814.19 395.94 L814.19 397.13 L813.60 398.91 L812.41 400.10 L810.62 400.70 L808.84 400.70 L807.05 400.10 L806.46 399.51 L805.86 398.32 M832.14 391.18 L832.14 390.58 L832.73 389.39 L833.33 388.80 L834.52 388.20 L836.90 388.20 L838.09 388.80 L838.68 389.39 L839.28 390.58 L839.28 391.77 L838.68 392.96 L837.49 394.75 L831.54 400.70 L839.87 400.70 M846.42 388.20 L844.63 388.80 L844.04 389.99 L844.04 391.18 L844.63 392.37 L845.82 392.96 L848.20 393.56 L849.99 394.15 L851.18 395.34 L851.77 396.53 L851.77 398.32 L851.18 399.51 L850.58 400.10 L848.80 400.70 L846.42 400.70 L844.63 400.10 L844.04 399.51 L843.44 398.32 L843.44 396.53 L844.04 395.34 L845.23 394.15 L847.01 393.56 L849.39 392.96 L850.58 392.37 L851.18 391.18 L851.18 389.99 L850.58 388.80 L848.80 388.20 L846.42 388.20 M857.13 390.58 L858.32 389.99 L860.10 388.20 L860.10 400.70 M868.43 399.51 L867.84 400.10 L868.43 400.70 L869.03 400.10 L868.43 399.51 M876.76 388.20 L874.98 388.80 L873.79 390.58 L873.19 393.56 L873.19 395.34 L873.79 398.32 L874.98 400.10 L876.76 400.70 L877.95 400.70 L879.74 400.10 L880.93 398.32 L881.52 395.34 L881.52 393.56 L880.93 390.58 L879.74 388.80 L877.95 388.20 L876.76 388.20 M899.47 391.18 L899.47 390.58 L900.07 389.39 L900.66 388.80 L901.85 388.20 L904.23 388.20 L905.42 388.80 L906.02 389.39 L906.61 390.58 L906.61 391.77 L906.02 392.96 L904.83 394.75 L898.88 400.70 L907.21 400.70 M913.75 388.20 L911.97 388.80 L911.37 389.99 L911.37 391.18 L911.97 392.37 L913.16 392.96 L915.54 393.56 L917.32 394.15 L918.51 395.34 L919.11 396.53 L919.11 398.32 L918.51 399.51 L917.92 400.10 L916.13 400.70 L913.75 400.70 L911.97 400.10 L911.37 399.51 L910.78 398.32 L910.78 396.53 L911.37 395.34 L912.56 394.15 L914.35 393.56 L916.73 392.96 L917.92 392.37 L918.51 391.18 L918.51 389.99 L917.92 388.80 L916.13 388.20 L913.75 388.20 M924.46 390.58 L925.65 389.99 L927.44 388.20 L927.44 400.70 M935.77 399.51 L935.17 400.10 L935.77 400.70 L936.36 400.10 L935.77 399.51 M947.67 388.20 L941.72 388.20 L941.12 393.56 L941.72 392.96 L943.50 392.37 L945.29 392.37 L947.07 392.96 L948.26 394.15 L948.86 395.94 L948.86 397.13 L948.26 398.91 L947.07 400.10 L945.29 400.70 L943.50 400.70 L941.72 400.10 L941.12 399.51 L940.53 398.32 M966.81 391.18 L966.81 390.58 L967.40 389.39 L968.00 388.80 L969.19 388.20 L971.57 388.20 L972.75 388.80 L973.35 389.39 L973.95 390.58 L973.95 391.77 L973.35 392.96 L972.16 394.75 L966.21 400.70 L974.54 400.70 M981.09 388.20 L979.30 388.80 L978.71 389.99 L978.71 391.18 L979.30 392.37 L980.49 392.96 L982.87 393.56 L984.66 394.15 L985.85 395.34 L986.44 396.53 L986.44 398.32 L985.85 399.51 L985.25 400.10 L983.47 400.70 L981.09 400.70 L979.30 400.10 L978.71 399.51 L978.11 398.32 L978.11 396.53 L978.71 395.34 L979.90 394.15 L981.68 393.56 L984.06 392.96 L985.25 392.37 L985.85 391.18 L985.85 389.99 L985.25 388.80 L983.47 388.20 L981.09 388.20 M990.61 391.18 L990.61 390.58 L991.20 389.39 L991.80 388.80 L992.99 388.20 L995.37 388.20 L996.56 388.80 L997.15 389.39 L997.75 390.58 L997.75 391.77 L997.15 392.96 L995.96 394.75 L990.01 400.70 L998.34 400.70 M1003.10 399.51 L1002.50 400.10 L1003.10 400.70 L1003.70 400.10 L1003.10 399.51 M1011.43 388.20 L1009.65 388.80 L1008.46 390.58 L1007.86 393.56 L1007.86 395.34 L1008.46 398.32 L1009.65 400.10 L1011.43 400.70 L1012.62 400.70 L1014.41 400.10 L1015.60 398.32 L1016.19 395.34 L1016.19 393.56 L1015.60 390.58 L1014.41 388.80 L1012.62 388.20 L1011.43 388.20 M557.61 361.00 L555.82 361.60 L554.63 363.38 L554.03 366.36 L554.03 368.14 L554.63 371.12 L555.82 372.90 L557.61 373.50 L558.79 373.50 L560.58 372.90 L561.77 371.12 L562.37 368.14 L562.37 366.36 L561.77 363.38 L560.58 361.60 L558.79 361.00 L557.61 361.00 M567.12 372.31 L566.53 372.90 L567.12 373.50 L567.72 372.90 L567.12 372.31 M575.46 361.00 L573.67 361.60 L572.48 363.38 L571.88 366.36 L571.88 368.14 L572.48 371.12 L573.67 372.90 L575.46 373.50 L576.64 373.50 L578.43 372.90 L579.62 371.12 L580.22 368.14 L580.22 366.36 L579.62 363.38 L578.43 361.60 L576.64 361.00 L575.46 361.00 M557.61 302.32 L555.82 302.91 L554.63 304.70 L554.03 307.67 L554.03 309.46 L554.63 312.43 L555.82 314.22 L557.61 314.81 L558.79 314.81 L560.58 314.22 L561.77 312.43 L562.37 309.46 L562.37 307.67 L561.77 304.70 L560.58 302.91 L558.79 302.32 L557.61 302.32 M567.12 313.62 L566.53 314.22 L567.12 314.81 L567.72 314.22 L567.12 313.62 M572.48 305.29 L572.48 304.70 L573.08 303.51 L573.67 302.91 L574.86 302.32 L577.24 302.32 L578.43 302.91 L579.02 303.51 L579.62 304.70 L579.62 305.89 L579.02 307.08 L577.84 308.86 L571.88 314.81 L580.22 314.81 M557.61 236.93 L555.82 237.53 L554.63 239.31 L554.03 242.29 L554.03 244.07 L554.63 247.05 L555.82 248.83 L557.61 249.43 L558.79 249.43 L560.58 248.83 L561.77 247.05 L562.37 244.07 L562.37 242.29 L561.77 239.31 L560.58 237.53 L558.79 236.93 L557.61 236.93 M567.12 248.24 L566.53 248.83 L567.12 249.43 L567.72 248.83 L567.12 248.24 M577.84 236.93 L571.88 245.26 L580.81 245.26 M577.84 236.93 L577.84 249.43 M557.61 171.55 L555.82 172.14 L554.63 173.93 L554.03 176.90 L554.03 178.69 L554.63 181.66 L555.82 183.45 L557.61 184.04 L558.79 184.04 L560.58 183.45 L561.77 181.66 L562.37 178.69 L562.37 176.90 L561.77 173.93 L560.58 172.14 L558.79 171.55 L557.61 171.55 M567.12 182.85 L566.53 183.45 L567.12 184.04 L567.72 183.45 L567.12 182.85 M579.62 173.33 L579.02 172.14 L577.24 171.55 L576.05 171.55 L574.26 172.14 L573.08 173.93 L572.48 176.90 L572.48 179.88 L573.08 182.26 L574.26 183.45 L576.05 184.04 L576.64 184.04 L578.43 183.45 L579.62 182.26 L580.22 180.47 L580.22 179.88 L579.62 178.09 L578.43 176.90 L576.64 176.31 L576.05 176.31 L574.26 176.90 L573.08 178.09 L572.48 179.88 M557.61 106.16 L555.82 106.76 L554.63 108.54 L554.03 111.52 L554.03 113.30 L554.63 116.28 L555.82 118.06 L557.61 118.66 L558.79 118.66 L560.58 118.06 L561.77 116.28 L562.37 113.30 L562.37 111.52 L561.77 108.54 L560.58 106.76 L558.79 106.16 L557.61 106.16 M567.12 117.47 L566.53 118.06 L567.12 118.66 L567.72 118.06 L567.12 117.47 M574.86 106.16 L573.08 106.76 L572.48 107.95 L572.48 109.14 L573.08 110.33 L574.26 110.92 L576.64 111.52 L578.43 112.11 L579.62 113.30 L580.22 114.49 L580.22 116.28 L579.62 117.47 L579.02 118.06 L577.24 118.66 L574.86 118.66 L573.08 118.06 L572.48 117.47 L571.88 116.28 L571.88 114.49 L572.48 113.30 L573.67 112.11 L575.46 111.52 L577.84 110.92 L579.02 110.33 L579.62 109.14 L579.62 107.95 L579.02 106.76 L577.24 106.16 L574.86 106.16 M555.82 43.15 L557.01 42.56 L558.79 40.77 L558.79 53.27 M567.12 52.08 L566.53 52.67 L567.12 53.27 L567.72 52.67 L567.12 52.08 M575.46 40.77 L573.67 41.37 L572.48 43.15 L571.88 46.13 L571.88 47.91 L572.48 50.89 L573.67 52.67 L575.46 53.27 L576.64 53.27 L578.43 52.67 L579.62 50.89 L580.22 47.91 L580.22 46.13 L579.62 43.15 L578.43 41.37 L576.64 40.77 L575.46 40.77 M643.23 411.11 L643.23 423.60 M643.23 411.11 L648.58 411.11 L650.37 411.70 L650.96 412.30 L651.56 413.49 L651.56 414.68 L650.96 415.87 L650.37 416.46 L648.58 417.06 M643.23 417.06 L648.58 417.06 L650.37 417.65 L650.96 418.25 L651.56 419.44 L651.56 421.22 L650.96 422.41 L650.37 423.00 L648.58 423.60 L643.23 423.60 M658.10 411.11 L658.10 423.60 M653.93 411.11 L662.26 411.11 M678.92 408.73 L677.74 409.92 L676.54 411.70 L675.36 414.08 L674.76 417.06 L674.76 419.44 L675.36 422.41 L676.54 424.79 L677.74 426.58 L678.92 427.77 M683.09 411.11 L683.09 423.60 M689.04 415.27 L683.09 421.22 M685.47 418.84 L689.63 423.60 M692.61 408.73 L693.80 409.92 L694.99 411.70 L696.18 414.08 L696.77 417.06 L696.77 419.44 L696.18 422.41 L694.99 424.79 L693.80 426.58 L692.61 427.77 M719.38 414.08 L718.79 412.89 L717.60 411.70 L716.41 411.11 L714.03 411.11 L712.84 411.70 L711.65 412.89 L711.05 414.08 L710.46 415.87 L710.46 418.84 L711.05 420.62 L711.65 421.81 L712.84 423.00 L714.03 423.60 L716.41 423.60 L717.60 423.00 L718.79 421.81 L719.38 420.62 L719.38 418.84 M716.41 418.84 L719.38 418.84 M723.55 415.27 L723.55 421.22 L724.14 423.00 L725.34 423.60 L727.12 423.60 L728.31 423.00 L730.10 421.22 M730.10 415.27 L730.10 423.60 M734.86 411.11 L734.86 423.60 M743.18 411.11 L742.00 411.11 L740.80 411.70 L740.21 413.49 L740.21 423.60 M738.42 415.27 L742.59 415.27 M758.65 415.27 L757.47 415.87 L756.27 417.06 L755.68 418.84 L755.68 420.03 L756.27 421.81 L757.47 423.00 L758.65 423.60 L760.44 423.60 L761.63 423.00 L762.82 421.81 L763.41 420.03 L763.41 418.84 L762.82 417.06 L761.63 415.87 L760.44 415.27 L758.65 415.27 M771.15 411.11 L769.96 411.11 L768.77 411.70 L768.17 413.49 L768.17 423.60 M766.39 415.27 L770.55 415.27 M787.22 411.11 L782.45 423.60 M787.22 411.11 L791.98 423.60 M784.24 419.44 L790.19 419.44 M794.95 411.11 L794.95 423.60 M806.25 415.27 L806.25 423.60 M806.25 417.06 L805.06 415.87 L803.88 415.27 L802.09 415.27 L800.90 415.87 L799.71 417.06 L799.12 418.84 L799.12 420.03 L799.71 421.81 L800.90 423.00 L802.09 423.60 L803.88 423.60 L805.06 423.00 L806.25 421.81 M816.97 417.06 L816.37 415.87 L814.59 415.27 L812.80 415.27 L811.01 415.87 L810.42 417.06 L811.01 418.25 L812.20 418.84 L815.18 419.44 L816.37 420.03 L816.97 421.22 L816.97 421.81 L816.37 423.00 L814.59 423.60 L812.80 423.60 L811.01 423.00 L810.42 421.81 M821.13 411.11 L821.13 423.60 M827.08 415.27 L821.13 421.22 M823.51 418.84 L827.67 423.60 M837.79 415.27 L837.79 423.60 M837.79 417.06 L836.60 415.87 L835.41 415.27 L833.62 415.27 L832.43 415.87 L831.25 417.06 L830.65 418.84 L830.65 420.03 L831.25 421.81 L832.43 423.00 L833.62 423.60 L835.41 423.60 L836.60 423.00 L837.79 421.81 M843.74 423.00 L843.14 423.60 L842.55 423.00 L843.14 422.41 L843.74 423.00 L843.74 424.20 L843.14 425.39 L842.55 425.98 M858.02 411.11 L858.02 423.60 M858.02 411.11 L862.18 411.11 L863.97 411.70 L865.16 412.89 L865.75 414.08 L866.35 415.87 L866.35 418.84 L865.75 420.62 L865.16 421.81 L863.97 423.00 L862.18 423.60 L858.02 423.60 M869.92 418.84 L877.06 418.84 L877.06 417.65 L876.46 416.46 L875.87 415.87 L874.68 415.27 L872.89 415.27 L871.70 415.87 L870.51 417.06 L869.92 418.84 L869.92 420.03 L870.51 421.81 L871.70 423.00 L872.89 423.60 L874.68 423.60 L875.87 423.00 L877.06 421.81 M881.82 411.11 L881.82 421.22 L882.41 423.00 L883.61 423.60 L884.79 423.60 M880.03 415.27 L884.20 415.27 M889.55 413.49 L890.75 412.89 L892.53 411.11 L892.53 423.60 M900.26 418.25 L910.97 418.25 M916.92 413.49 L918.12 412.89 L919.90 411.11 L919.90 423.60 M934.77 412.89 L934.18 411.70 L932.39 411.11 L931.20 411.11 L929.42 411.70 L928.23 413.49 L927.63 416.46 L927.63 419.44 L928.23 421.81 L929.42 423.00 L931.20 423.60 L931.80 423.60 L933.59 423.00 L934.77 421.81 L935.37 420.03 L935.37 419.44 L934.77 417.65 L933.59 416.46 L931.80 415.87 L931.20 415.87 L929.42 416.46 L928.23 417.65 L927.63 419.44 M523.21 313.70 L535.70 313.70 M523.21 313.70 L523.21 308.34 L523.80 306.56 L524.40 305.96 L525.59 305.37 L527.37 305.37 L528.56 305.96 L529.16 306.56 L529.75 308.34 L529.75 313.70 M520.83 287.52 L522.02 288.71 L523.80 289.90 L526.18 291.09 L529.16 291.68 L531.54 291.68 L534.51 291.09 L536.89 289.90 L538.68 288.71 L539.87 287.52 M523.21 283.35 L535.70 283.35 M523.21 283.35 L523.21 278.00 L523.80 276.21 L524.40 275.62 L525.59 275.02 L526.78 275.02 L527.97 275.62 L528.56 276.21 L529.16 278.00 L529.16 283.35 M529.16 279.19 L535.70 275.02 M523.21 271.45 L523.80 270.86 L523.21 270.26 L522.61 270.86 L523.21 271.45 M527.37 270.86 L535.70 270.86 M527.37 259.55 L536.89 259.55 L538.68 260.15 L539.27 260.74 L539.87 261.93 L539.87 263.72 L539.27 264.91 M529.16 259.55 L527.97 260.74 L527.37 261.93 L527.37 263.72 L527.97 264.91 L529.16 266.10 L530.94 266.69 L532.13 266.69 L533.92 266.10 L535.11 264.91 L535.70 263.72 L535.70 261.93 L535.11 260.74 L533.92 259.55 M523.21 254.79 L535.70 254.79 M529.75 254.79 L527.97 253.01 L527.37 251.82 L527.37 250.03 L527.97 248.84 L529.75 248.25 L535.70 248.25 M523.21 242.89 L533.32 242.89 L535.11 242.30 L535.70 241.11 L535.70 239.92 M527.37 244.68 L527.37 240.51 M527.37 235.75 L527.97 236.35 L528.56 235.75 L527.97 235.16 L527.37 235.75 M534.51 235.75 L535.11 236.35 L535.70 235.75 L535.11 235.16 L534.51 235.75 M523.21 220.88 L535.70 220.88 M523.21 220.88 L535.70 216.12 M523.21 211.36 L535.70 216.12 M523.21 211.36 L535.70 211.36 M525.59 205.41 L524.99 204.22 L523.21 202.43 L535.70 202.43 M523.21 188.15 L523.21 194.10 L528.56 194.70 L527.97 194.10 L527.37 192.32 L527.37 190.53 L527.97 188.75 L529.16 187.56 L530.94 186.96 L532.13 186.96 L533.92 187.56 L535.11 188.75 L535.70 190.53 L535.70 192.32 L535.11 194.10 L534.51 194.70 L533.32 195.29 M527.37 182.20 L527.97 182.80 L528.56 182.20 L527.97 181.61 L527.37 182.20 M535.11 181.61 L535.70 182.20 L535.11 182.80 L534.51 182.20 L535.11 181.61 L536.30 181.61 L537.49 182.20 L538.08 182.80 M523.21 167.33 L535.70 167.33 M535.70 167.33 L535.70 160.19 M530.94 157.81 L530.94 150.67 L529.75 150.67 L528.56 151.26 L527.97 151.86 L527.37 153.05 L527.37 154.83 L527.97 156.02 L529.16 157.21 L530.94 157.81 L532.13 157.81 L533.92 157.21 L535.11 156.02 L535.70 154.83 L535.70 153.05 L535.11 151.86 L533.92 150.67 M523.21 142.93 L523.21 144.12 L523.80 145.31 L525.59 145.91 L535.70 145.91 M527.37 147.69 L527.37 143.53 M523.21 138.77 L533.32 138.77 L535.11 138.17 L535.70 136.98 L535.70 135.79 M527.37 140.55 L527.37 136.39 M527.37 131.63 L527.97 132.22 L528.56 131.63 L527.97 131.03 L527.37 131.63 M534.51 131.63 L535.11 132.22 L535.70 131.63 L535.11 131.03 L534.51 131.63 M523.21 116.75 L535.70 116.75 M523.21 116.75 L535.70 111.99 M523.21 107.23 L535.70 111.99 M523.21 107.23 L535.70 107.23 M525.59 101.28 L524.99 100.09 L523.21 98.31 L535.70 98.31 M524.99 83.43 L523.80 84.03 L523.21 85.81 L523.21 87.00 L523.80 88.79 L525.59 89.98 L528.56 90.57 L531.54 90.57 L533.92 89.98 L535.11 88.79 L535.70 87.00 L535.70 86.41 L535.11 84.62 L533.92 83.43 L532.13 82.84 L531.54 82.84 L529.75 83.43 L528.56 84.62 L527.97 86.41 L527.97 87.00 L528.56 88.79 L529.75 89.98 L531.54 90.57 M520.83 79.27 L522.02 78.08 L523.80 76.89 L526.18 75.70 L529.16 75.10 L531.54 75.10 L534.51 75.70 L536.89 76.89 L538.68 78.08 L539.87 79.27" stroke="#000" stroke-width="1.5" fill="none" stroke-linecap="round" stroke-linejoin="round"/>
<path d="M170.1 45.60 h41.3" stroke="#a80c10" stroke-width="2.2" fill="none" stroke-dasharray="1.7 2.14"/>
<path d="M170.1 71.85 h41.3" stroke="#1414c0" stroke-width="2.2" fill="none" stroke-dasharray="1.7 2.14"/>
<path d="M170.1 98.10 h41.3" stroke="#16dc16" stroke-width="2.2" fill="none" stroke-dasharray="1.7 2.14"/>
<path d="M170.1 124.35 h41.3" stroke="#eea020" stroke-width="2.2" fill="none" stroke-dasharray="1.7 2.14"/>
<path d="M170.1 150.60 h41.3" stroke="#7028b0" stroke-width="2.2" fill="none" stroke-dasharray="1.7 2.14"/>
<path d="M170.1 176.85 h41.3" stroke="#000000" stroke-width="2.2" fill="none" stroke-dasharray="1.7 2.14"/>
<path d="M170.1 203.10 h41.3" stroke="#a80c10" stroke-width="2.2" fill="none"/>
<path d="M170.1 229.35 h41.3" stroke="#1414c0" stroke-width="2.2" fill="none"/>
<path d="M291.6 45.60 h41.3" stroke="#16dc16" stroke-width="2.2" fill="none"/>
<path d="M291.6 71.85 h41.3" stroke="#eea020" stroke-width="2.2" fill="none"/>
<path d="M291.6 98.10 h41.3" stroke="#7028b0" stroke-width="2.2" fill="none"/>
<path d="M291.6 124.35 h41.3" stroke="#000000" stroke-width="2.2" fill="none"/>
<path d="M291.6 150.60 h41.3" stroke="#a80c10" stroke-width="2.2" fill="none" stroke-dasharray="6.6 4.2"/>
<path d="M291.6 176.85 h41.3" stroke="#1414c0" stroke-width="2.2" fill="none" stroke-dasharray="6.6 4.2"/>
<path d="M291.6 203.10 h41.3" stroke="#16dc16" stroke-width="2.2" fill="none" stroke-dasharray="6.6 4.2"/>
<path d="M291.6 229.35 h41.3" stroke="#000000" stroke-width="2.2" fill="none" stroke-dasharray="6.6 4.2"/>
<path d="M226.46 36.23 L226.46 46.00 M226.46 36.23 L229.72 36.23 L231.11 36.70 L232.04 37.63 L232.50 38.56 L232.97 39.95 L232.97 42.28 L232.50 43.67 L232.04 44.60 L231.11 45.53 L229.72 46.00 L226.46 46.00 M235.76 42.28 L241.34 42.28 L241.34 41.35 L240.88 40.42 L240.41 39.95 L239.48 39.49 L238.09 39.49 L237.16 39.95 L236.22 40.88 L235.76 42.28 L235.76 43.21 L236.22 44.60 L237.16 45.53 L238.09 46.00 L239.48 46.00 L240.41 45.53 L241.34 44.60 M245.06 36.23 L245.06 44.14 L245.53 45.53 L246.45 46.00 L247.38 46.00 M243.66 39.49 L246.92 39.49 M258.55 38.09 L259.48 37.63 L260.87 36.23 L260.87 46.00 M272.50 37.63 L272.03 36.70 L270.63 36.23 L269.70 36.23 L268.31 36.70 L267.38 38.09 L266.92 40.42 L266.92 42.74 L267.38 44.60 L268.31 45.53 L269.70 46.00 L270.17 46.00 L271.56 45.53 L272.50 44.60 L272.96 43.21 L272.96 42.74 L272.50 41.35 L271.56 40.42 L270.17 39.95 L269.70 39.95 L268.31 40.42 L267.38 41.35 L266.92 42.74 M226.46 62.48 L226.46 72.25 M226.46 62.48 L229.72 62.48 L231.11 62.95 L232.04 63.88 L232.50 64.81 L232.97 66.20 L232.97 68.53 L232.50 69.92 L232.04 70.86 L231.11 71.78 L229.72 72.25 L226.46 72.25 M235.76 68.53 L241.34 68.53 L241.34 67.60 L240.88 66.67 L240.41 66.20 L239.48 65.74 L238.09 65.74 L237.16 66.20 L236.22 67.14 L235.76 68.53 L235.76 69.46 L236.22 70.86 L237.16 71.78 L238.09 72.25 L239.48 72.25 L240.41 71.78 L241.34 70.86 M245.06 62.48 L245.06 70.39 L245.53 71.78 L246.45 72.25 L247.38 72.25 M243.66 65.74 L246.92 65.74 M258.55 64.34 L259.48 63.88 L260.87 62.48 L260.87 72.25 M272.03 62.48 L267.38 62.48 L266.92 66.67 L267.38 66.20 L268.77 65.74 L270.17 65.74 L271.56 66.20 L272.50 67.14 L272.96 68.53 L272.96 69.46 L272.50 70.86 L271.56 71.78 L270.17 72.25 L268.77 72.25 L267.38 71.78 L266.92 71.32 L266.45 70.39 M226.46 88.73 L226.46 98.50 M226.46 88.73 L229.72 88.73 L231.11 89.20 L232.04 90.13 L232.50 91.06 L232.97 92.45 L232.97 94.78 L232.50 96.17 L232.04 97.11 L231.11 98.03 L229.72 98.50 L226.46 98.50 M235.76 94.78 L241.34 94.78 L241.34 93.85 L240.88 92.92 L240.41 92.45 L239.48 91.99 L238.09 91.99 L237.16 92.45 L236.22 93.39 L235.76 94.78 L235.76 95.71 L236.22 97.11 L237.16 98.03 L238.09 98.50 L239.48 98.50 L240.41 98.03 L241.34 97.11 M245.06 88.73 L245.06 96.64 L245.53 98.03 L246.45 98.50 L247.38 98.50 M243.66 91.99 L246.92 91.99 M258.55 90.59 L259.48 90.13 L260.87 88.73 L260.87 98.50 M271.10 88.73 L266.45 95.25 L273.43 95.25 M271.10 88.73 L271.10 98.50 M226.46 114.98 L226.46 124.75 M226.46 114.98 L229.72 114.98 L231.11 115.45 L232.04 116.38 L232.50 117.31 L232.97 118.70 L232.97 121.03 L232.50 122.42 L232.04 123.36 L231.11 124.28 L229.72 124.75 L226.46 124.75 M235.76 121.03 L241.34 121.03 L241.34 120.10 L240.88 119.17 L240.41 118.70 L239.48 118.24 L238.09 118.24 L237.16 118.70 L236.22 119.64 L235.76 121.03 L235.76 121.96 L236.22 123.36 L237.16 124.28 L238.09 124.75 L239.48 124.75 L240.41 124.28 L241.34 123.36 M245.06 114.98 L245.06 122.89 L245.53 124.28 L246.45 124.75 L247.38 124.75 M243.66 118.24 L246.92 118.24 M258.55 116.84 L259.48 116.38 L260.87 114.98 L260.87 124.75 M267.38 114.98 L272.50 114.98 L269.70 118.70 L271.10 118.70 L272.03 119.17 L272.50 119.64 L272.96 121.03 L272.96 121.96 L272.50 123.36 L271.56 124.28 L270.17 124.75 L268.77 124.75 L267.38 124.28 L266.92 123.82 L266.45 122.89 M226.46 141.24 L226.46 151.00 M226.46 141.24 L229.72 141.24 L231.11 141.70 L232.04 142.63 L232.50 143.56 L232.97 144.96 L232.97 147.28 L232.50 148.68 L232.04 149.60 L231.11 150.53 L229.72 151.00 L226.46 151.00 M235.76 147.28 L241.34 147.28 L241.34 146.35 L240.88 145.42 L240.41 144.96 L239.48 144.49 L238.09 144.49 L237.16 144.96 L236.22 145.88 L235.76 147.28 L235.76 148.21 L236.22 149.60 L237.16 150.53 L238.09 151.00 L239.48 151.00 L240.41 150.53 L241.34 149.60 M245.06 141.24 L245.06 149.14 L245.53 150.53 L246.45 151.00 L247.38 151.00 M243.66 144.49 L246.92 144.49 M258.55 143.09 L259.48 142.63 L260.87 141.24 L260.87 151.00 M266.92 143.56 L266.92 143.09 L267.38 142.16 L267.85 141.70 L268.77 141.24 L270.63 141.24 L271.56 141.70 L272.03 142.16 L272.50 143.09 L272.50 144.03 L272.03 144.96 L271.10 146.35 L266.45 151.00 L272.96 151.00 M226.46 167.49 L226.46 177.25 M226.46 167.49 L229.72 167.49 L231.11 167.95 L232.04 168.88 L232.50 169.81 L232.97 171.21 L232.97 173.53 L232.50 174.93 L232.04 175.85 L231.11 176.78 L229.72 177.25 L226.46 177.25 M235.76 173.53 L241.34 173.53 L241.34 172.60 L240.88 171.67 L240.41 171.21 L239.48 170.74 L238.09 170.74 L237.16 171.21 L236.22 172.13 L235.76 173.53 L235.76 174.46 L236.22 175.85 L237.16 176.78 L238.09 177.25 L239.48 177.25 L240.41 176.78 L241.34 175.85 M245.06 167.49 L245.06 175.39 L245.53 176.78 L246.45 177.25 L247.38 177.25 M243.66 170.74 L246.92 170.74 M258.55 169.34 L259.48 168.88 L260.87 167.49 L260.87 177.25 M267.85 169.34 L268.77 168.88 L270.17 167.49 L270.17 177.25 M226.46 193.74 L226.46 203.50 M226.46 193.74 L229.72 193.74 L231.11 194.20 L232.04 195.13 L232.50 196.06 L232.97 197.46 L232.97 199.78 L232.50 201.18 L232.04 202.10 L231.11 203.03 L229.72 203.50 L226.46 203.50 M235.76 199.78 L241.34 199.78 L241.34 198.85 L240.88 197.92 L240.41 197.46 L239.48 196.99 L238.09 196.99 L237.16 197.46 L236.22 198.38 L235.76 199.78 L235.76 200.71 L236.22 202.10 L237.16 203.03 L238.09 203.50 L239.48 203.50 L240.41 203.03 L241.34 202.10 M245.06 193.74 L245.06 201.64 L245.53 203.03 L246.45 203.50 L247.38 203.50 M243.66 196.99 L246.92 196.99 M258.55 195.59 L259.48 195.13 L260.87 193.74 L260.87 203.50 M269.24 193.74 L267.85 194.20 L266.92 195.59 L266.45 197.92 L266.45 199.31 L266.92 201.64 L267.85 203.03 L269.24 203.50 L270.17 203.50 L271.56 203.03 L272.50 201.64 L272.96 199.31 L272.96 197.92 L272.50 195.59 L271.56 194.20 L270.17 193.74 L269.24 193.74 M226.46 219.99 L226.46 229.75 M226.46 219.99 L229.72 219.99 L231.11 220.45 L232.04 221.38 L232.50 222.31 L232.97 223.71 L232.97 226.03 L232.50 227.43 L232.04 228.35 L231.11 229.28 L229.72 229.75 L226.46 229.75 M235.76 226.03 L241.34 226.03 L241.34 225.10 L240.88 224.17 L240.41 223.71 L239.48 223.24 L238.09 223.24 L237.16 223.71 L236.22 224.63 L235.76 226.03 L235.76 226.96 L236.22 228.35 L237.16 229.28 L238.09 229.75 L239.48 229.75 L240.41 229.28 L241.34 228.35 M245.06 219.99 L245.06 227.89 L245.53 229.28 L246.45 229.75 L247.38 229.75 M243.66 223.24 L246.92 223.24 M263.19 223.24 L262.73 224.63 L261.80 225.56 L260.40 226.03 L259.94 226.03 L258.55 225.56 L257.62 224.63 L257.15 223.24 L257.15 222.78 L257.62 221.38 L258.55 220.45 L259.94 219.99 L260.40 219.99 L261.80 220.45 L262.73 221.38 L263.19 223.24 L263.19 225.56 L262.73 227.89 L261.80 229.28 L260.40 229.75 L259.48 229.75 L258.08 229.28 L257.62 228.35 M347.66 36.23 L347.66 46.00 M347.66 36.23 L350.92 36.23 L352.31 36.70 L353.24 37.63 L353.70 38.56 L354.17 39.95 L354.17 42.28 L353.70 43.67 L353.24 44.60 L352.31 45.53 L350.92 46.00 L347.66 46.00 M356.96 42.28 L362.54 42.28 L362.54 41.35 L362.07 40.42 L361.61 39.95 L360.68 39.49 L359.29 39.49 L358.36 39.95 L357.43 40.88 L356.96 42.28 L356.96 43.21 L357.43 44.60 L358.36 45.53 L359.29 46.00 L360.68 46.00 L361.61 45.53 L362.54 44.60 M366.26 36.23 L366.26 44.14 L366.73 45.53 L367.66 46.00 L368.59 46.00 M364.87 39.49 L368.12 39.49 M380.68 36.23 L379.28 36.70 L378.81 37.63 L378.81 38.56 L379.28 39.49 L380.21 39.95 L382.07 40.42 L383.47 40.88 L384.40 41.81 L384.86 42.74 L384.86 44.14 L384.40 45.07 L383.93 45.53 L382.54 46.00 L380.68 46.00 L379.28 45.53 L378.81 45.07 L378.35 44.14 L378.35 42.74 L378.81 41.81 L379.75 40.88 L381.14 40.42 L383.00 39.95 L383.93 39.49 L384.40 38.56 L384.40 37.63 L383.93 36.70 L382.54 36.23 L380.68 36.23 M347.66 62.48 L347.66 72.25 M347.66 62.48 L350.92 62.48 L352.31 62.95 L353.24 63.88 L353.70 64.81 L354.17 66.20 L354.17 68.53 L353.70 69.92 L353.24 70.86 L352.31 71.78 L350.92 72.25 L347.66 72.25 M356.96 68.53 L362.54 68.53 L362.54 67.60 L362.07 66.67 L361.61 66.20 L360.68 65.74 L359.29 65.74 L358.36 66.20 L357.43 67.14 L356.96 68.53 L356.96 69.46 L357.43 70.86 L358.36 71.78 L359.29 72.25 L360.68 72.25 L361.61 71.78 L362.54 70.86 M366.26 62.48 L366.26 70.39 L366.73 71.78 L367.66 72.25 L368.59 72.25 M364.87 65.74 L368.12 65.74 M384.86 62.48 L380.21 72.25 M378.35 62.48 L384.86 62.48 M347.66 88.73 L347.66 98.50 M347.66 88.73 L350.92 88.73 L352.31 89.20 L353.24 90.13 L353.70 91.06 L354.17 92.45 L354.17 94.78 L353.70 96.17 L353.24 97.11 L352.31 98.03 L350.92 98.50 L347.66 98.50 M356.96 94.78 L362.54 94.78 L362.54 93.85 L362.07 92.92 L361.61 92.45 L360.68 91.99 L359.29 91.99 L358.36 92.45 L357.43 93.39 L356.96 94.78 L356.96 95.71 L357.43 97.11 L358.36 98.03 L359.29 98.50 L360.68 98.50 L361.61 98.03 L362.54 97.11 M366.26 88.73 L366.26 96.64 L366.73 98.03 L367.66 98.50 L368.59 98.50 M364.87 91.99 L368.12 91.99 M384.40 90.13 L383.93 89.20 L382.54 88.73 L381.61 88.73 L380.21 89.20 L379.28 90.59 L378.81 92.92 L378.81 95.25 L379.28 97.11 L380.21 98.03 L381.61 98.50 L382.07 98.50 L383.47 98.03 L384.40 97.11 L384.86 95.71 L384.86 95.25 L384.40 93.85 L383.47 92.92 L382.07 92.45 L381.61 92.45 L380.21 92.92 L379.28 93.85 L378.81 95.25 M347.66 114.98 L347.66 124.75 M347.66 114.98 L350.92 114.98 L352.31 115.45 L353.24 116.38 L353.70 117.31 L354.17 118.70 L354.17 121.03 L353.70 122.42 L353.24 123.36 L352.31 124.28 L350.92 124.75 L347.66 124.75 M356.96 121.03 L362.54 121.03 L362.54 120.10 L362.07 119.17 L361.61 118.70 L360.68 118.24 L359.29 118.24 L358.36 118.70 L357.43 119.64 L356.96 121.03 L356.96 121.96 L357.43 123.36 L358.36 124.28 L359.29 124.75 L360.68 124.75 L361.61 124.28 L362.54 123.36 M366.26 114.98 L366.26 122.89 L366.73 124.28 L367.66 124.75 L368.59 124.75 M364.87 118.24 L368.12 118.24 M383.93 114.98 L379.28 114.98 L378.81 119.17 L379.28 118.70 L380.68 118.24 L382.07 118.24 L383.47 118.70 L384.40 119.64 L384.86 121.03 L384.86 121.96 L384.40 123.36 L383.47 124.28 L382.07 124.75 L380.68 124.75 L379.28 124.28 L378.81 123.82 L378.35 122.89 M347.66 141.24 L347.66 151.00 M347.66 141.24 L350.92 141.24 L352.31 141.70 L353.24 142.63 L353.70 143.56 L354.17 144.96 L354.17 147.28 L353.70 148.68 L353.24 149.60 L352.31 150.53 L350.92 151.00 L347.66 151.00 M356.96 147.28 L362.54 147.28 L362.54 146.35 L362.07 145.42 L361.61 144.96 L360.68 144.49 L359.29 144.49 L358.36 144.96 L357.43 145.88 L356.96 147.28 L356.96 148.21 L357.43 149.60 L358.36 150.53 L359.29 151.00 L360.68 151.00 L361.61 150.53 L362.54 149.60 M366.26 141.24 L366.26 149.14 L366.73 150.53 L367.66 151.00 L368.59 151.00 M364.87 144.49 L368.12 144.49 M383.00 141.24 L378.35 147.75 L385.33 147.75 M383.00 141.24 L383.00 151.00 M347.66 167.49 L347.66 177.25 M347.66 167.49 L350.92 167.49 L352.31 167.95 L353.24 168.88 L353.70 169.81 L354.17 171.21 L354.17 173.53 L353.70 174.93 L353.24 175.85 L352.31 176.78 L350.92 177.25 L347.66 177.25 M356.96 173.53 L362.54 173.53 L362.54 172.60 L362.07 171.67 L361.61 171.21 L360.68 170.74 L359.29 170.74 L358.36 171.21 L357.43 172.13 L356.96 173.53 L356.96 174.46 L357.43 175.85 L358.36 176.78 L359.29 177.25 L360.68 177.25 L361.61 176.78 L362.54 175.85 M366.26 167.49 L366.26 175.39 L366.73 176.78 L367.66 177.25 L368.59 177.25 M364.87 170.74 L368.12 170.74 M379.28 167.49 L384.40 167.49 L381.61 171.21 L383.00 171.21 L383.93 171.67 L384.40 172.13 L384.86 173.53 L384.86 174.46 L384.40 175.85 L383.47 176.78 L382.07 177.25 L380.68 177.25 L379.28 176.78 L378.81 176.32 L378.35 175.39 M347.66 193.74 L347.66 203.50 M347.66 193.74 L350.92 193.74 L352.31 194.20 L353.24 195.13 L353.70 196.06 L354.17 197.46 L354.17 199.78 L353.70 201.18 L353.24 202.10 L352.31 203.03 L350.92 203.50 L347.66 203.50 M356.96 199.78 L362.54 199.78 L362.54 198.85 L362.07 197.92 L361.61 197.46 L360.68 196.99 L359.29 196.99 L358.36 197.46 L357.43 198.38 L356.96 199.78 L356.96 200.71 L357.43 202.10 L358.36 203.03 L359.29 203.50 L360.68 203.50 L361.61 203.03 L362.54 202.10 M366.26 193.74 L366.26 201.64 L366.73 203.03 L367.66 203.50 L368.59 203.50 M364.87 196.99 L368.12 196.99 M378.81 196.06 L378.81 195.59 L379.28 194.66 L379.75 194.20 L380.68 193.74 L382.54 193.74 L383.47 194.20 L383.93 194.66 L384.40 195.59 L384.40 196.53 L383.93 197.46 L383.00 198.85 L378.35 203.50 L384.86 203.50 M347.66 219.99 L347.66 229.75 M347.66 219.99 L350.92 219.99 L352.31 220.45 L353.24 221.38 L353.70 222.31 L354.17 223.71 L354.17 226.03 L353.70 227.43 L353.24 228.35 L352.31 229.28 L350.92 229.75 L347.66 229.75 M356.96 226.03 L362.54 226.03 L362.54 225.10 L362.07 224.17 L361.61 223.71 L360.68 223.24 L359.29 223.24 L358.36 223.71 L357.43 224.63 L356.96 226.03 L356.96 226.96 L357.43 228.35 L358.36 229.28 L359.29 229.75 L360.68 229.75 L361.61 229.28 L362.54 228.35 M366.26 219.99 L366.26 227.89 L366.73 229.28 L367.66 229.75 L368.59 229.75 M364.87 223.24 L368.12 223.24 M379.75 221.84 L380.68 221.38 L382.07 219.99 L382.07 229.75" stroke="#000" stroke-width="1.6" fill="none" stroke-linecap="round" stroke-linejoin="round"/>
</svg></body></html>
